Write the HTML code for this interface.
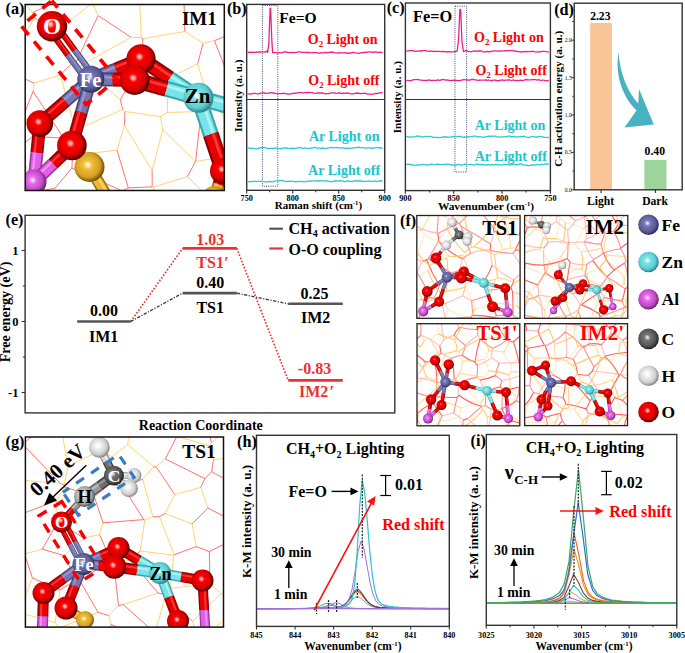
<!DOCTYPE html><html><head><meta charset="utf-8"><style>html,body{margin:0;padding:0;background:#fff;overflow:hidden}svg{display:block}text{font-family:"Liberation Serif",serif;font-weight:bold}</style></head><body>
<svg width="685" height="653" viewBox="0 0 685 653">
<rect width="685" height="653" fill="#fff"/>
<defs>
<radialGradient id="gO" cx="0.45" cy="0.45" r="0.56" fx="0.42" fy="0.4"><stop offset="0" stop-color="#ff8080"/><stop offset="0.22" stop-color="#ff0000"/><stop offset="0.72" stop-color="#d80000"/><stop offset="1" stop-color="#4a0000"/></radialGradient>
<radialGradient id="gFe" cx="0.45" cy="0.45" r="0.56" fx="0.42" fy="0.4"><stop offset="0" stop-color="#c0c0f0"/><stop offset="0.22" stop-color="#7a7ab8"/><stop offset="0.72" stop-color="#5a5a98"/><stop offset="1" stop-color="#2a2a50"/></radialGradient>
<radialGradient id="gZn" cx="0.45" cy="0.45" r="0.56" fx="0.42" fy="0.4"><stop offset="0" stop-color="#f0ffff"/><stop offset="0.22" stop-color="#7ee6ec"/><stop offset="0.72" stop-color="#5ccdd2"/><stop offset="1" stop-color="#2a7e82"/></radialGradient>
<radialGradient id="gAl" cx="0.45" cy="0.45" r="0.56" fx="0.42" fy="0.4"><stop offset="0" stop-color="#ffc0ff"/><stop offset="0.22" stop-color="#ee70ee"/><stop offset="0.72" stop-color="#c048c8"/><stop offset="1" stop-color="#602060"/></radialGradient>
<radialGradient id="gS" cx="0.45" cy="0.45" r="0.56" fx="0.42" fy="0.4"><stop offset="0" stop-color="#fff0a0"/><stop offset="0.22" stop-color="#f2c23c"/><stop offset="0.72" stop-color="#d6a020"/><stop offset="1" stop-color="#6a4a08"/></radialGradient>
<radialGradient id="gC" cx="0.45" cy="0.45" r="0.56" fx="0.42" fy="0.4"><stop offset="0" stop-color="#c8c8c8"/><stop offset="0.22" stop-color="#7a7a7a"/><stop offset="0.72" stop-color="#555"/><stop offset="1" stop-color="#1e1e1e"/></radialGradient>
<radialGradient id="gH" cx="0.45" cy="0.45" r="0.56" fx="0.42" fy="0.4"><stop offset="0" stop-color="#ffffff"/><stop offset="0.22" stop-color="#f4f4f4"/><stop offset="0.72" stop-color="#cfcfcf"/><stop offset="1" stop-color="#808080"/></radialGradient>
<radialGradient id="gHg" cx="0.45" cy="0.45" r="0.56" fx="0.42" fy="0.4"><stop offset="0" stop-color="#ffffff"/><stop offset="0.22" stop-color="#dadada"/><stop offset="0.72" stop-color="#a4a4a4"/><stop offset="1" stop-color="#4a4a4a"/></radialGradient>
<radialGradient id="gSpec"><stop offset="0" stop-color="#fff" stop-opacity="0.75"/><stop offset="1" stop-color="#fff" stop-opacity="0"/></radialGradient>
</defs>
<rect x="262.4" y="5.6" width="15.4" height="180.6" fill="none" stroke="#2a3a6a" stroke-width="0.9" stroke-dasharray="1,1.2"/>
<polyline points="247.7,52.4 249.2,52.1 250.7,52.5 252.2,52.1 253.7,52.3 255.2,52.3 256.7,52.0 258.2,52.2 259.7,51.9 261.2,52.1 262.7,51.9 264.2,51.8 265.7,52.0 267.2,50.7 267.6,52.4 268.8,44.0 270.1,8.2 270.6,8.2 271.8,40.0 272.6,52.5 274.7,52.7 276.2,52.7 277.7,53.1 279.2,52.5 280.7,52.9 282.2,52.6 283.7,52.2 285.2,52.0 286.7,52.0 288.2,52.6 289.7,52.3 291.2,52.5 292.7,52.7 294.2,52.5 295.7,52.6 297.2,52.2 298.7,51.9 300.2,51.9 301.7,52.4 303.2,52.4 304.7,52.3 306.2,52.5 307.7,52.5 309.2,52.3 310.7,52.7 312.2,52.9 313.7,52.5 315.2,52.6 316.7,52.6 318.2,53.0 319.7,53.1 321.2,52.7 322.7,53.1 324.2,52.5 325.7,52.5 327.2,52.8 328.7,52.4 330.2,52.4 331.7,52.0 333.2,52.4 334.7,52.8 336.2,52.8 337.7,53.1 339.2,52.7 340.7,52.9 342.2,52.8 343.7,52.8 345.2,52.7 346.7,53.0 348.2,53.3 349.7,53.0 351.2,53.0 352.7,52.4 354.2,52.7 355.7,52.8 357.2,53.2 358.7,53.3 360.2,52.8 361.7,52.6 363.2,52.8 364.7,52.2 366.2,52.3 367.7,52.1 369.2,51.9 370.7,51.8 372.2,52.4 373.7,52.1 375.2,52.0 376.7,52.2 378.2,52.7 379.7,52.2 381.2,52.3 382.7,52.5" fill="none" stroke="#ef2086" stroke-width="1.3" stroke-linejoin="round" />
<polyline points="247.7,93.8 249.2,93.9 250.7,94.1 252.2,93.6 253.7,93.4 255.2,93.3 256.7,93.7 258.2,94.0 259.7,93.4 261.2,93.1 262.7,93.0 264.2,92.9 265.7,93.1 267.2,93.3 268.7,93.1 270.2,92.7 271.7,92.9 273.2,93.0 274.7,93.2 276.2,93.7 277.7,93.8 279.2,93.7 280.7,93.7 282.2,93.7 283.7,93.2 285.2,93.7 286.7,93.8 288.2,94.0 289.7,94.1 291.2,93.7 292.7,93.5 294.2,93.1 295.7,93.3 297.2,92.9 298.7,92.7 300.2,92.7 301.7,92.6 303.2,92.8 304.7,92.6 306.2,92.4 307.7,92.5 309.2,92.4 310.7,92.7 312.2,92.5 313.7,93.2 315.2,93.4 316.7,93.1 318.2,92.9 319.7,93.0 321.2,93.0 322.7,92.8 324.2,93.4 325.7,93.9 327.2,93.7 328.7,93.5 330.2,93.1 331.7,92.8 333.2,92.9 334.7,92.9 336.2,93.4 337.7,93.1 339.2,92.7 340.7,93.4 342.2,93.5 343.7,93.1 345.2,93.3 346.7,92.8 348.2,93.1 349.7,93.7 351.2,93.9 352.7,93.9 354.2,93.5 355.7,93.3 357.2,93.0 358.7,93.4 360.2,93.5 361.7,93.7 363.2,93.4 364.7,93.1 366.2,93.6 367.7,94.0 369.2,94.1 370.7,94.1 372.2,94.2 373.7,94.1 375.2,93.5 376.7,93.5 378.2,93.3 379.7,92.9 381.2,92.6 382.7,92.7" fill="none" stroke="#ef2086" stroke-width="1.3" stroke-linejoin="round" />
<polyline points="247.7,147.8 249.2,148.0 250.7,148.5 252.2,148.2 253.7,148.6 255.2,148.8 256.7,149.0 258.2,148.4 259.7,148.0 261.2,147.7 262.7,147.5 264.2,147.4 265.7,147.8 267.2,148.3 268.7,148.5 270.2,148.3 271.7,148.3 273.2,148.5 274.7,147.9 276.2,148.1 277.7,148.5 279.2,148.6 280.7,148.6 282.2,148.3 283.7,147.9 285.2,148.2 286.7,148.0 288.2,148.3 289.7,148.6 291.2,148.3 292.7,148.1 294.2,148.5 295.7,148.5 297.2,148.0 298.7,147.6 300.2,147.4 301.7,148.1 303.2,148.3 304.7,147.9 306.2,148.2 307.7,148.6 309.2,148.5 310.7,148.2 312.2,148.1 313.7,147.7 315.2,147.3 316.7,148.1 318.2,148.2 319.7,148.1 321.2,148.5 322.7,148.2 324.2,148.5 325.7,148.6 327.2,148.1 328.7,147.8 330.2,147.7 331.7,147.5 333.2,147.8 334.7,147.6 336.2,147.7 337.7,147.5 339.2,148.1 340.7,147.9 342.2,147.9 343.7,148.0 345.2,148.4 346.7,148.2 348.2,148.5 349.7,148.3 351.2,148.2 352.7,148.2 354.2,147.6 355.7,147.7 357.2,147.5 358.7,147.2 360.2,147.8 361.7,147.6 363.2,147.7 364.7,148.1 366.2,148.1 367.7,147.9 369.2,147.9 370.7,148.0 372.2,148.3 373.7,147.8 375.2,147.9 376.7,147.7 378.2,147.6 379.7,148.0 381.2,148.0 382.7,148.1" fill="none" stroke="#2ec8cf" stroke-width="1.3" stroke-linejoin="round" />
<polyline points="247.7,181.5 249.2,181.8 250.7,181.5 252.2,181.5 253.7,181.4 255.2,181.3 256.7,181.5 258.2,181.3 259.7,181.3 261.2,181.2 262.7,181.7 264.2,181.7 265.7,181.9 267.2,182.0 268.7,181.5 270.2,181.4 271.7,181.8 273.2,181.9 274.7,181.2 276.2,180.9 277.7,180.9 279.2,180.6 280.7,180.6 282.2,180.4 283.7,180.9 285.2,181.3 286.7,181.7 288.2,181.1 289.7,181.4 291.2,181.5 292.7,181.0 294.2,181.5 295.7,181.8 297.2,181.3 298.7,181.7 300.2,181.4 301.7,181.3 303.2,181.8 304.7,181.9 306.2,181.3 307.7,181.2 309.2,181.2 310.7,181.0 312.2,180.8 313.7,180.8 315.2,181.2 316.7,180.7 318.2,181.0 319.7,181.0 321.2,180.6 322.7,180.7 324.2,181.0 325.7,181.1 327.2,180.7 328.7,181.4 330.2,181.6 331.7,181.9 333.2,181.2 334.7,181.0 336.2,180.6 337.7,181.1 339.2,180.9 340.7,180.7 342.2,180.8 343.7,181.4 345.2,181.6 346.7,181.2 348.2,180.9 349.7,181.4 351.2,181.4 352.7,181.5 354.2,181.0 355.7,180.6 357.2,181.0 358.7,181.0 360.2,180.7 361.7,181.3 363.2,181.4 364.7,181.6 366.2,181.0 367.7,181.5 369.2,180.9 370.7,181.4 372.2,181.3 373.7,181.1 375.2,181.2 376.7,181.6 378.2,181.2 379.7,180.8 381.2,181.0 382.7,180.8" fill="none" stroke="#2ec8cf" stroke-width="1.3" stroke-linejoin="round" />
<line x1="246.7" y1="99.5" x2="384.7" y2="99.5" stroke="#333" stroke-width="1.1" />
<rect x="246.7" y="4.4" width="138.0" height="185.9" fill="none" stroke="#333" stroke-width="1.4" />
<line x1="246.7" y1="190.3" x2="246.7" y2="193.5" stroke="#333" stroke-width="1.1" />
<text x="246.7" y="201.0" font-size="8.2" fill="#000" text-anchor="middle" >750</text>
<line x1="292.7" y1="190.3" x2="292.7" y2="193.5" stroke="#333" stroke-width="1.1" />
<text x="292.7" y="201.0" font-size="8.2" fill="#000" text-anchor="middle" >800</text>
<line x1="338.7" y1="190.3" x2="338.7" y2="193.5" stroke="#333" stroke-width="1.1" />
<text x="338.7" y="201.0" font-size="8.2" fill="#000" text-anchor="middle" >850</text>
<line x1="384.7" y1="190.3" x2="384.7" y2="193.5" stroke="#333" stroke-width="1.1" />
<text x="384.7" y="201.0" font-size="8.2" fill="#000" text-anchor="middle" >900</text>
<line x1="269.7" y1="190.3" x2="269.7" y2="192.3" stroke="#333" stroke-width="1.1" />
<line x1="315.7" y1="190.3" x2="315.7" y2="192.3" stroke="#333" stroke-width="1.1" />
<line x1="361.7" y1="190.3" x2="361.7" y2="192.3" stroke="#333" stroke-width="1.1" />
<text x="279.2" y="23.4" font-size="15.6" fill="#000" text-anchor="start" >Fe=O</text>
<text x="377.5" y="43.8" font-size="14" fill="#ff0000" text-anchor="end">O<tspan font-size="8.7" dy="3.1">2</tspan><tspan dy="-3.1"> Light on</tspan></text>
<text x="379.5" y="85.1" font-size="14" fill="#ff0000" text-anchor="end">O<tspan font-size="8.7" dy="3.1">2</tspan><tspan dy="-3.1"> Light off</tspan></text>
<text x="379.5" y="140.9" font-size="14" fill="#20c4cc" text-anchor="end" >Ar Light on</text>
<text x="380.2" y="175.2" font-size="14" fill="#20c4cc" text-anchor="end" >Ar Light off</text>
<text transform="translate(238.2,95.7) rotate(-90)" x="0" y="3.7" font-size="11.1" fill="#000" text-anchor="middle">Intensity (a. u.)</text>
<text x="318.4" y="209.2" font-size="11" text-anchor="middle">Raman shift (cm<tspan font-size="6.5" dy="-4">-1</tspan><tspan dy="4">)</tspan></text>
<text x="226.9" y="14.4" font-size="16.2" fill="#000" text-anchor="start" >(b)</text>
<rect x="455.0" y="6.1" width="11.6" height="165.9" fill="none" stroke="#2a3a6a" stroke-width="0.9" stroke-dasharray="1,1.2"/>
<polyline points="406.4,51.0 407.9,50.8 409.4,50.6 410.9,50.6 412.4,50.7 413.9,50.8 415.4,51.3 416.9,51.1 418.4,51.2 419.9,51.0 421.4,51.0 422.9,50.7 424.4,50.7 425.9,50.5 427.4,51.1 428.9,51.3 430.4,51.0 431.9,51.1 433.4,51.7 434.9,51.2 436.4,51.6 437.9,51.4 439.4,51.4 440.9,51.7 442.4,51.5 443.9,51.5 445.4,51.6 446.9,52.0 448.4,51.6 449.9,51.9 451.4,51.9 452.9,51.8 454.4,51.6 455.9,51.3 457.2,51.2 458.5,40.0 459.9,9.3 460.6,9.3 462.0,42.0 463.4,51.0 463.4,51.6 464.9,50.8 466.4,50.6 467.9,51.3 469.4,51.7 470.9,51.8 472.4,51.4 473.9,51.1 475.4,51.0 476.9,51.1 478.4,50.9 479.9,51.0 481.4,51.0 482.9,51.6 484.4,52.0 485.9,51.8 487.4,51.4 488.9,51.9 490.4,51.5 491.9,51.3 493.4,50.8 494.9,50.9 496.4,51.1 497.9,51.2 499.4,51.0 500.9,51.2 502.4,50.8 503.9,50.8 505.4,50.6 506.9,50.8 508.4,50.6 509.9,50.4 511.4,50.6 512.9,50.7 514.4,51.0 515.9,51.2 517.4,51.5 518.9,51.6 520.4,51.8 521.9,52.0 523.4,51.6 524.9,51.4 526.4,51.9 527.9,51.3 529.4,51.6 530.9,51.7 532.4,51.1 533.9,51.6 535.4,51.9 536.9,51.8 538.4,51.9 539.9,52.0 541.4,51.4 542.9,51.4 544.4,51.4 545.9,51.7 547.4,51.9 548.9,52.0" fill="none" stroke="#ef2086" stroke-width="1.3" stroke-linejoin="round" />
<polyline points="406.4,80.3 407.9,80.6 409.4,80.6 410.9,80.7 412.4,80.2 413.9,79.7 415.4,79.6 416.9,79.7 418.4,79.5 419.9,80.1 421.4,80.2 422.9,80.3 424.4,80.4 425.9,80.5 427.4,80.4 428.9,79.8 430.4,80.3 431.9,80.5 433.4,80.4 434.9,80.3 436.4,80.4 437.9,79.9 439.4,80.3 440.9,80.0 442.4,79.6 443.9,79.6 445.4,80.1 446.9,79.8 448.4,80.2 449.9,80.7 451.4,80.5 452.9,80.3 454.4,80.2 455.9,80.4 457.4,80.6 458.9,80.5 460.4,80.6 461.9,80.0 463.4,79.7 464.9,79.7 466.4,80.1 467.9,80.0 469.4,80.1 470.9,79.7 472.4,79.4 473.9,79.5 475.4,80.0 476.9,80.2 478.4,80.4 479.9,80.1 481.4,80.2 482.9,80.1 484.4,80.1 485.9,79.8 487.4,80.3 488.9,80.0 490.4,80.5 491.9,80.8 493.4,80.1 494.9,80.1 496.4,80.5 497.9,80.8 499.4,80.5 500.9,80.2 502.4,79.9 503.9,80.5 505.4,80.1 506.9,80.2 508.4,79.8 509.9,80.0 511.4,80.5 512.9,80.0 514.4,80.4 515.9,80.3 517.4,80.7 518.9,80.7 520.4,80.2 521.9,80.6 523.4,80.4 524.9,79.9 526.4,79.5 527.9,79.8 529.4,79.9 530.9,79.8 532.4,79.6 533.9,79.7 535.4,79.7 536.9,80.2 538.4,79.7 539.9,80.2 541.4,80.5 542.9,80.0 544.4,80.5 545.9,80.6 547.4,80.8 548.9,80.4" fill="none" stroke="#ef2086" stroke-width="1.3" stroke-linejoin="round" />
<polyline points="406.4,136.7 407.9,136.6 409.4,137.2 410.9,137.1 412.4,136.9 413.9,136.8 415.4,136.6 416.9,136.2 418.4,136.0 419.9,136.7 421.4,136.5 422.9,137.1 424.4,136.7 425.9,136.5 427.4,136.6 428.9,136.4 430.4,136.4 431.9,137.0 433.4,137.3 434.9,137.4 436.4,137.3 437.9,137.5 439.4,137.7 440.9,137.4 442.4,137.4 443.9,136.7 445.4,137.0 446.9,136.8 448.4,137.1 449.9,137.1 451.4,136.8 452.9,136.3 454.4,136.9 455.9,136.5 457.4,136.6 458.9,136.5 460.4,136.4 461.9,136.8 463.4,137.3 464.9,136.9 466.4,137.0 467.9,136.7 469.4,136.8 470.9,136.7 472.4,136.4 473.9,136.2 475.4,136.2 476.9,136.8 478.4,136.8 479.9,136.5 481.4,137.0 482.9,137.4 484.4,137.1 485.9,136.6 487.4,136.4 488.9,136.1 490.4,136.3 491.9,136.1 493.4,136.1 494.9,136.1 496.4,136.5 497.9,137.0 499.4,137.2 500.9,136.9 502.4,136.8 503.9,136.8 505.4,136.7 506.9,136.6 508.4,136.2 509.9,136.2 511.4,136.9 512.9,136.5 514.4,136.6 515.9,136.8 517.4,137.2 518.9,136.7 520.4,136.5 521.9,136.4 523.4,136.5 524.9,136.5 526.4,137.1 527.9,137.3 529.4,137.5 530.9,136.7 532.4,136.3 533.9,136.7 535.4,137.1 536.9,137.0 538.4,137.0 539.9,136.4 541.4,136.5 542.9,137.0 544.4,137.3 545.9,137.4 547.4,137.7 548.9,137.1" fill="none" stroke="#2ec8cf" stroke-width="1.3" stroke-linejoin="round" />
<polyline points="406.4,164.3 407.9,164.1 409.4,164.4 410.9,164.7 412.4,165.1 413.9,165.2 415.4,165.1 416.9,165.2 418.4,165.0 419.9,164.9 421.4,164.4 422.9,164.8 424.4,164.5 425.9,165.0 427.4,165.0 428.9,164.7 430.4,164.3 431.9,164.2 433.4,164.6 434.9,164.8 436.4,164.4 437.9,164.1 439.4,164.4 440.9,164.6 442.4,164.5 443.9,164.3 445.4,164.6 446.9,164.1 448.4,164.2 449.9,164.3 451.4,164.9 452.9,165.0 454.4,165.3 455.9,165.0 457.4,164.6 458.9,164.4 460.4,165.0 461.9,165.1 463.4,164.7 464.9,164.2 466.4,164.4 467.9,164.7 469.4,164.6 470.9,164.4 472.4,164.7 473.9,165.1 475.4,164.7 476.9,164.2 478.4,164.3 479.9,164.4 481.4,164.7 482.9,164.4 484.4,164.8 485.9,165.0 487.4,164.9 488.9,164.5 490.4,165.1 491.9,164.7 493.4,165.0 494.9,164.6 496.4,164.4 497.9,164.8 499.4,164.5 500.9,165.1 502.4,164.9 503.9,164.5 505.4,164.3 506.9,164.4 508.4,164.7 509.9,165.1 511.4,164.6 512.9,164.5 514.4,164.3 515.9,164.9 517.4,164.5 518.9,164.1 520.4,163.9 521.9,164.1 523.4,164.8 524.9,165.1 526.4,165.2 527.9,165.5 529.4,165.6 530.9,165.1 532.4,164.6 533.9,165.1 535.4,165.2 536.9,164.5 538.4,164.8 539.9,164.6 541.4,164.5 542.9,164.4 544.4,164.2 545.9,163.9 547.4,164.0 548.9,164.1" fill="none" stroke="#2ec8cf" stroke-width="1.3" stroke-linejoin="round" />
<line x1="405.4" y1="99.5" x2="550.4" y2="99.5" stroke="#333" stroke-width="1.1" />
<rect x="405.4" y="3.0" width="145.0" height="187.6" fill="none" stroke="#333" stroke-width="1.4" />
<line x1="405.4" y1="190.6" x2="405.4" y2="193.8" stroke="#333" stroke-width="1.1" />
<text x="405.4" y="200.8" font-size="8.2" fill="#000" text-anchor="middle" >900</text>
<line x1="453.7" y1="190.6" x2="453.7" y2="193.8" stroke="#333" stroke-width="1.1" />
<text x="453.7" y="200.8" font-size="8.2" fill="#000" text-anchor="middle" >850</text>
<line x1="502.1" y1="190.6" x2="502.1" y2="193.8" stroke="#333" stroke-width="1.1" />
<text x="502.1" y="200.8" font-size="8.2" fill="#000" text-anchor="middle" >800</text>
<line x1="550.4" y1="190.6" x2="550.4" y2="193.8" stroke="#333" stroke-width="1.1" />
<text x="550.4" y="200.8" font-size="8.2" fill="#000" text-anchor="middle" >750</text>
<line x1="429.6" y1="190.6" x2="429.6" y2="192.6" stroke="#333" stroke-width="1.1" />
<line x1="477.9" y1="190.6" x2="477.9" y2="192.6" stroke="#333" stroke-width="1.1" />
<line x1="526.2" y1="190.6" x2="526.2" y2="192.6" stroke="#333" stroke-width="1.1" />
<text x="413.0" y="21.7" font-size="16.3" fill="#000" text-anchor="start" >Fe=O</text>
<text x="543.8" y="41.9" font-size="14" fill="#ff0000" text-anchor="end">O<tspan font-size="8.7" dy="3.1">2</tspan><tspan dy="-3.1"> Light on</tspan></text>
<text x="546.8" y="75.0" font-size="14" fill="#ff0000" text-anchor="end">O<tspan font-size="8.7" dy="3.1">2</tspan><tspan dy="-3.1"> Light off</tspan></text>
<text x="545.3" y="130.0" font-size="14" fill="#20c4cc" text-anchor="end" >Ar Light on</text>
<text x="546.8" y="160.7" font-size="14" fill="#20c4cc" text-anchor="end" >Ar Light off</text>
<text transform="translate(397.6,97.2) rotate(-90)" x="0" y="3.7" font-size="11.1" fill="#000" text-anchor="middle">Intensity (a. u.)</text>
<text x="486" y="210" font-size="11.4" text-anchor="middle">Wavenumber (cm<tspan font-size="6.7" dy="-4.1">-1</tspan><tspan dy="4.1">)</tspan></text>
<text x="386.7" y="13.3" font-size="16.2" fill="#000" text-anchor="start" >(c)</text>
<rect x="590.2" y="23.0" width="21.8" height="166.8" fill="#f9c596" stroke="none" stroke-width="0" />
<rect x="644.4" y="159.9" width="22.0" height="29.9" fill="#9cd49a" stroke="none" stroke-width="0" />
<path d="M618.4,52.3 C615.5,72 620,94 636.5,110.5 L624.5,127.6 L653.8,124.4 L639,89 L638.2,103.5 C628,92 620.5,76 618.4,52.3 Z" fill="#48b2c2"/>
<rect x="574.2" y="3.2" width="108.0" height="186.6" fill="none" stroke="#333" stroke-width="1.4" />
<line x1="574.2" y1="189.8" x2="571.2" y2="189.8" stroke="#333" stroke-width="1" />
<text x="571.7" y="191.7" font-size="5.6" fill="#000" text-anchor="end" style="font-weight:normal">0.0</text>
<line x1="574.2" y1="152.4" x2="571.2" y2="152.4" stroke="#333" stroke-width="1" />
<text x="571.7" y="154.3" font-size="5.6" fill="#000" text-anchor="end" style="font-weight:normal">0.5</text>
<line x1="574.2" y1="115.0" x2="571.2" y2="115.0" stroke="#333" stroke-width="1" />
<text x="571.7" y="116.9" font-size="5.6" fill="#000" text-anchor="end" style="font-weight:normal">1.0</text>
<line x1="574.2" y1="77.6" x2="571.2" y2="77.6" stroke="#333" stroke-width="1" />
<text x="571.7" y="79.5" font-size="5.6" fill="#000" text-anchor="end" style="font-weight:normal">1.5</text>
<line x1="574.2" y1="40.2" x2="571.2" y2="40.2" stroke="#333" stroke-width="1" />
<text x="571.7" y="42.1" font-size="5.6" fill="#000" text-anchor="end" style="font-weight:normal">2.0</text>
<line x1="574.2" y1="171.1" x2="572.2" y2="171.1" stroke="#333" stroke-width="0.9" />
<line x1="574.2" y1="133.7" x2="572.2" y2="133.7" stroke="#333" stroke-width="0.9" />
<line x1="574.2" y1="96.3" x2="572.2" y2="96.3" stroke="#333" stroke-width="0.9" />
<line x1="574.2" y1="58.9" x2="572.2" y2="58.9" stroke="#333" stroke-width="0.9" />
<line x1="574.2" y1="21.5" x2="572.2" y2="21.5" stroke="#333" stroke-width="0.9" />
<line x1="601.1" y1="189.8" x2="601.1" y2="193.0" stroke="#333" stroke-width="1.1" />
<line x1="655.4" y1="189.8" x2="655.4" y2="193.0" stroke="#333" stroke-width="1.1" />
<text x="600.3" y="20.2" font-size="11.6" fill="#000" text-anchor="middle" >2.23</text>
<text x="654.8" y="154.6" font-size="11.7" fill="#000" text-anchor="middle" >0.40</text>
<text x="600.6" y="204.6" font-size="11.6" fill="#000" text-anchor="middle" >Light</text>
<text x="655.1" y="204.6" font-size="11.6" fill="#000" text-anchor="middle" >Dark</text>
<text transform="translate(558.3,98.8) rotate(-90)" x="0" y="3.7" font-size="11.2" fill="#000" text-anchor="middle">C-H activation energy (a. u.)</text>
<text x="554.2" y="15.2" font-size="16.2" fill="#000" text-anchor="start" >(d)</text>
<line x1="130.8" y1="321.5" x2="182.6" y2="248.4" stroke="#f02828" stroke-width="1.6" stroke-dasharray="1.6,1.7"/>
<line x1="236.8" y1="248.4" x2="288.2" y2="380.4" stroke="#f02828" stroke-width="1.6" stroke-dasharray="1.6,1.7"/>
<line x1="130.8" y1="321.5" x2="182.6" y2="293.1" stroke="#3a3a3a" stroke-width="1.3" stroke-dasharray="3.2,1.5,1.2,1.5"/>
<line x1="236.8" y1="293.1" x2="288.2" y2="303.8" stroke="#3a3a3a" stroke-width="1.3" stroke-dasharray="3.2,1.5,1.2,1.5"/>
<line x1="77.2" y1="321.5" x2="130.8" y2="321.5" stroke="#555" stroke-width="2.6" />
<line x1="182.6" y1="293.1" x2="236.8" y2="293.1" stroke="#555" stroke-width="2.6" />
<line x1="288.2" y1="303.8" x2="342.8" y2="303.8" stroke="#555" stroke-width="2.6" />
<line x1="182.6" y1="248.4" x2="236.8" y2="248.4" stroke="#f03030" stroke-width="2.6" />
<line x1="288.2" y1="380.4" x2="342.8" y2="380.4" stroke="#f03030" stroke-width="2.6" />
<text x="104.0" y="316.0" font-size="16" fill="#000" text-anchor="middle" >0.00</text>
<text x="103.6" y="341.8" font-size="16" fill="#000" text-anchor="middle" >IM1</text>
<text x="210.2" y="288.2" font-size="16" fill="#000" text-anchor="middle" >0.40</text>
<text x="210.2" y="312.7" font-size="16" fill="#000" text-anchor="middle" >TS1</text>
<text x="210.2" y="244.5" font-size="16" fill="#f03030" text-anchor="middle" >1.03</text>
<text x="212.4" y="268.4" font-size="16" fill="#f03030" text-anchor="middle">TS1<tspan font-style="italic">′</tspan></text>
<text x="314.6" y="299.2" font-size="16" fill="#000" text-anchor="middle" >0.25</text>
<text x="315.6" y="322.6" font-size="16" fill="#000" text-anchor="middle" >IM2</text>
<text x="314.5" y="373.7" font-size="16" fill="#f03030" text-anchor="middle" >-0.83</text>
<text x="299" y="397.2" font-size="16" fill="#f03030">IM2<tspan dx="1" font-size="17" font-style="italic">′</tspan></text>
<line x1="269.3" y1="228.7" x2="282.9" y2="228.7" stroke="#555" stroke-width="2.2" />
<line x1="269.3" y1="248.5" x2="282.9" y2="248.5" stroke="#f03030" stroke-width="2.2" />
<text x="288.5" y="233.8" font-size="16.1">CH<tspan font-size="10" dy="3.5">4</tspan><tspan dy="-3.5"> activation</tspan></text>
<text x="288.5" y="254.6" font-size="16" fill="#000" text-anchor="start" >O-O coupling</text>
<rect x="25.1" y="215.3" width="369.7" height="197.6" fill="none" stroke="#333" stroke-width="1.4" />
<line x1="25.1" y1="250.5" x2="21.6" y2="250.5" stroke="#333" stroke-width="1.1" />
<line x1="25.1" y1="321.5" x2="21.6" y2="321.5" stroke="#333" stroke-width="1.1" />
<line x1="25.1" y1="392.5" x2="21.6" y2="392.5" stroke="#333" stroke-width="1.1" />
<line x1="25.1" y1="286.0" x2="22.9" y2="286.0" stroke="#333" stroke-width="1.1" />
<line x1="25.1" y1="357.0" x2="22.9" y2="357.0" stroke="#333" stroke-width="1.1" />
<text x="18.5" y="255.0" font-size="12.5" fill="#000" text-anchor="end" >1</text>
<text x="18.5" y="326.0" font-size="12.5" fill="#000" text-anchor="end" >0</text>
<text x="18.5" y="397.0" font-size="12.5" fill="#000" text-anchor="end" >-1</text>
<text transform="translate(5.4,312.0) rotate(-90)" x="0" y="4.7" font-size="14.1" fill="#000" text-anchor="middle">Free energy (eV)</text>
<text x="200.8" y="430.0" font-size="14" fill="#000" text-anchor="middle" >Reaction Coordinate</text>
<text x="5.5" y="225.3" font-size="16.2" fill="#000" text-anchor="start" >(e)</text>
<polyline points="257.2,608.7 258.0,608.7 260.0,608.7 262.0,608.7 264.0,608.7 266.0,608.7 268.0,608.7 270.0,608.6 272.0,608.6 274.0,608.6 276.0,608.6 278.0,608.6 280.0,608.6 282.0,608.6 284.0,608.6 286.0,608.6 288.0,608.6 290.0,608.6 292.0,608.6 294.0,608.6 296.0,608.5 298.0,608.5 300.0,608.5 302.0,608.5 304.0,608.4 306.0,608.4 308.0,608.3 310.0,608.2 312.0,608.0 314.0,607.7 316.0,607.3 318.0,606.7 320.0,606.0 322.0,605.1 324.0,604.2 326.0,603.5 328.0,603.2 330.0,603.5 332.0,604.2 334.0,605.1 336.0,606.0 338.0,606.7 340.0,607.3 342.0,607.7 344.0,608.0 346.0,608.2 348.0,608.3 350.0,608.4 352.0,608.4 354.0,608.5 356.0,608.5 358.0,608.5 360.0,608.5 362.0,608.6 364.0,608.6 366.0,608.6 368.0,608.6 370.0,608.6 372.0,608.6 374.0,608.6 376.0,608.6 378.0,608.6 380.0,608.6 382.0,608.6 384.0,608.6 386.0,608.6 388.0,608.7 390.0,608.7 392.0,608.7 394.0,608.7 396.0,608.7 398.0,608.7 400.0,608.7 402.0,608.7 404.0,608.7 406.0,608.7 408.0,608.7 410.0,608.7 412.0,608.7 414.0,608.7 416.0,608.7 418.0,608.7 420.0,608.7 422.0,608.7 424.0,608.7 426.0,608.7 428.0,608.7 430.0,608.7 432.0,608.7 434.0,608.7 436.0,608.7 438.0,608.7 440.0,608.7 442.0,608.7 444.0,608.7 446.0,608.7 448.0,608.7 448.6,608.7" fill="none" stroke="#3fa34a" stroke-width="0.9" stroke-linejoin="round" />
<polyline points="257.2,608.7 258.5,608.7 260.5,608.7 262.5,608.7 264.5,608.7 266.5,608.7 268.5,608.7 270.5,608.7 272.5,608.7 274.5,608.7 276.5,608.7 278.5,608.7 280.5,608.7 282.5,608.7 284.5,608.6 286.5,608.6 288.5,608.6 290.5,608.6 292.5,608.6 294.5,608.6 296.5,608.6 298.5,608.6 300.5,608.6 302.5,608.6 304.5,608.6 306.5,608.5 308.5,608.5 310.5,608.5 312.5,608.5 314.5,608.4 316.5,608.4 318.5,608.3 320.5,608.1 322.5,607.9 324.5,607.5 326.5,607.0 328.5,606.2 330.5,605.2 332.5,604.0 334.5,603.1 336.5,602.7 338.5,603.1 340.5,604.0 342.5,605.2 344.5,606.2 346.5,607.0 348.5,607.5 350.5,607.9 352.5,608.1 354.5,608.3 356.5,608.4 358.5,608.4 360.5,608.5 362.5,608.5 364.5,608.5 366.5,608.5 368.5,608.6 370.5,608.6 372.5,608.6 374.5,608.6 376.5,608.6 378.5,608.6 380.5,608.6 382.5,608.6 384.5,608.6 386.5,608.6 388.5,608.6 390.5,608.7 392.5,608.7 394.5,608.7 396.5,608.7 398.5,608.7 400.5,608.7 402.5,608.7 404.5,608.7 406.5,608.7 408.5,608.7 410.5,608.7 412.5,608.7 414.5,608.7 416.5,608.7 418.5,608.7 420.5,608.7 422.5,608.7 424.5,608.7 426.5,608.7 428.5,608.7 430.5,608.7 432.5,608.7 434.5,608.7 436.5,608.7 438.5,608.7 440.5,608.7 442.5,608.7 444.5,608.7 446.5,608.7 448.5,608.7 448.6,608.7" fill="none" stroke="#9a60d8" stroke-width="0.9" stroke-linejoin="round" />
<polyline points="257.2,608.7 258.0,608.7 260.0,608.7 262.0,608.7 264.0,608.7 266.0,608.7 268.0,608.7 270.0,608.7 272.0,608.7 274.0,608.7 276.0,608.7 278.0,608.7 280.0,608.7 282.0,608.7 284.0,608.7 286.0,608.7 288.0,608.7 290.0,608.6 292.0,608.6 294.0,608.6 296.0,608.6 298.0,608.6 300.0,608.6 302.0,608.6 304.0,608.6 306.0,608.6 308.0,608.5 310.0,608.5 312.0,608.5 314.0,608.4 316.0,608.2 318.0,608.0 320.0,607.7 322.0,607.2 324.0,606.6 326.0,606.0 328.0,605.4 330.0,605.2 332.0,605.4 334.0,606.0 336.0,606.6 338.0,607.2 340.0,607.7 342.0,608.0 344.0,608.2 346.0,608.4 348.0,608.5 350.0,608.5 352.0,608.5 354.0,608.6 356.0,608.6 358.0,608.6 360.0,608.6 362.0,608.6 364.0,608.6 366.0,608.6 368.0,608.6 370.0,608.6 372.0,608.7 374.0,608.7 376.0,608.7 378.0,608.7 380.0,608.7 382.0,608.7 384.0,608.7 386.0,608.7 388.0,608.7 390.0,608.7 392.0,608.7 394.0,608.7 396.0,608.7 398.0,608.7 400.0,608.7 402.0,608.7 404.0,608.7 406.0,608.7 408.0,608.7 410.0,608.7 412.0,608.7 414.0,608.7 416.0,608.7 418.0,608.7 420.0,608.7 422.0,608.7 424.0,608.7 426.0,608.7 428.0,608.7 430.0,608.7 432.0,608.7 434.0,608.7 436.0,608.7 438.0,608.7 440.0,608.7 442.0,608.7 444.0,608.7 446.0,608.7 448.0,608.7 448.6,608.7" fill="none" stroke="#5a8fd0" stroke-width="0.9" stroke-linejoin="round" />
<polyline points="257.2,608.7 257.3,608.7 259.3,608.7 261.3,608.7 263.3,608.7 265.3,608.7 267.3,608.7 269.3,608.7 271.3,608.6 273.3,608.6 275.3,608.6 277.3,608.6 279.3,608.6 281.3,608.6 283.3,608.6 285.3,608.6 287.3,608.6 289.3,608.6 291.3,608.6 293.3,608.6 295.3,608.6 297.3,608.6 299.3,608.6 301.3,608.6 303.3,608.6 305.3,608.6 307.3,608.6 309.3,608.5 311.3,608.5 313.3,608.5 315.3,608.5 317.3,608.5 319.3,608.4 321.3,608.4 323.3,608.4 325.3,608.3 327.3,608.3 329.3,608.2 331.3,608.2 333.3,608.1 335.3,608.0 337.3,607.8 339.3,607.5 341.3,607.1 343.3,606.5 345.3,605.6 347.3,604.3 349.3,602.7 351.3,600.8 353.3,598.9 355.3,597.3 357.3,596.7 359.3,597.2 361.3,598.6 363.3,600.4 365.3,602.3 367.3,603.9 369.3,605.2 371.3,606.2 373.3,606.9 375.3,607.3 377.3,607.7 379.3,607.9 381.3,608.0 383.3,608.1 385.3,608.2 387.3,608.3 389.3,608.3 391.3,608.3 393.3,608.4 395.3,608.4 397.3,608.4 399.3,608.5 401.3,608.5 403.3,608.5 405.3,608.5 407.3,608.5 409.3,608.5 411.3,608.6 413.3,608.6 415.3,608.6 417.3,608.6 419.3,608.6 421.3,608.6 423.3,608.6 425.3,608.6 427.3,608.6 429.3,608.6 431.3,608.6 433.3,608.6 435.3,608.6 437.3,608.6 439.3,608.6 441.3,608.6 443.3,608.6 445.3,608.6 447.3,608.6 448.6,608.7" fill="none" stroke="#5b8ed8" stroke-width="0.9" stroke-linejoin="round" />
<polyline points="257.2,608.7 257.3,608.6 259.3,608.6 261.3,608.6 263.3,608.6 265.3,608.6 267.3,608.6 269.3,608.6 271.3,608.6 273.3,608.6 275.3,608.6 277.3,608.6 279.3,608.6 281.3,608.6 283.3,608.6 285.3,608.6 287.3,608.6 289.3,608.6 291.3,608.6 293.3,608.6 295.3,608.6 297.3,608.6 299.3,608.5 301.3,608.5 303.3,608.5 305.3,608.5 307.3,608.5 309.3,608.5 311.3,608.5 313.3,608.4 315.3,608.4 317.3,608.4 319.3,608.3 321.3,608.3 323.3,608.3 325.3,608.2 327.3,608.1 329.3,608.1 331.3,608.0 333.3,607.8 335.3,607.7 337.3,607.4 339.3,607.1 341.3,606.5 343.3,605.6 345.3,604.4 347.3,602.6 349.3,600.4 351.3,597.7 353.3,595.0 355.3,592.8 357.3,592.0 359.3,592.8 361.3,594.7 363.3,597.2 365.3,599.8 367.3,602.0 369.3,603.8 371.3,605.2 373.3,606.1 375.3,606.8 377.3,607.2 379.3,607.5 381.3,607.7 383.3,607.9 385.3,608.0 387.3,608.1 389.3,608.1 391.3,608.2 393.3,608.3 395.3,608.3 397.3,608.3 399.3,608.4 401.3,608.4 403.3,608.4 405.3,608.4 407.3,608.5 409.3,608.5 411.3,608.5 413.3,608.5 415.3,608.5 417.3,608.5 419.3,608.5 421.3,608.6 423.3,608.6 425.3,608.6 427.3,608.6 429.3,608.6 431.3,608.6 433.3,608.6 435.3,608.6 437.3,608.6 439.3,608.6 441.3,608.6 443.3,608.6 445.3,608.6 447.3,608.6 448.6,608.7" fill="none" stroke="#ff7020" stroke-width="1.0" stroke-linejoin="round" />
<polyline points="257.2,608.7 257.3,608.6 259.3,608.6 261.3,608.6 263.3,608.6 265.3,608.6 267.3,608.6 269.3,608.6 271.3,608.6 273.3,608.6 275.3,608.6 277.3,608.6 279.3,608.6 281.3,608.6 283.3,608.6 285.3,608.6 287.3,608.6 289.3,608.6 291.3,608.6 293.3,608.6 295.3,608.6 297.3,608.5 299.3,608.5 301.3,608.5 303.3,608.5 305.3,608.5 307.3,608.5 309.3,608.5 311.3,608.4 313.3,608.4 315.3,608.4 317.3,608.4 319.3,608.3 321.3,608.3 323.3,608.2 325.3,608.2 327.3,608.1 329.3,608.0 331.3,607.9 333.3,607.8 335.3,607.6 337.3,607.3 339.3,606.9 341.3,606.3 343.3,605.4 345.3,604.0 347.3,602.1 349.3,599.7 351.3,596.8 353.3,593.9 355.3,591.6 357.3,590.7 359.3,591.5 361.3,593.6 363.3,596.3 365.3,599.1 367.3,601.5 369.3,603.4 371.3,604.9 373.3,605.9 375.3,606.7 377.3,607.1 379.3,607.4 381.3,607.7 383.3,607.8 385.3,607.9 387.3,608.0 389.3,608.1 391.3,608.2 393.3,608.2 395.3,608.3 397.3,608.3 399.3,608.3 401.3,608.4 403.3,608.4 405.3,608.4 407.3,608.4 409.3,608.5 411.3,608.5 413.3,608.5 415.3,608.5 417.3,608.5 419.3,608.5 421.3,608.5 423.3,608.6 425.3,608.6 427.3,608.6 429.3,608.6 431.3,608.6 433.3,608.6 435.3,608.6 437.3,608.6 439.3,608.6 441.3,608.6 443.3,608.6 445.3,608.6 447.3,608.6 448.6,608.7" fill="none" stroke="#222" stroke-width="0.9" stroke-linejoin="round" />
<polyline points="257.2,608.7 257.3,608.6 259.3,608.6 261.3,608.6 263.3,608.6 265.3,608.6 267.3,608.6 269.3,608.6 271.3,608.6 273.3,608.6 275.3,608.6 277.3,608.6 279.3,608.6 281.3,608.6 283.3,608.6 285.3,608.6 287.3,608.6 289.3,608.6 291.3,608.6 293.3,608.5 295.3,608.5 297.3,608.5 299.3,608.5 301.3,608.5 303.3,608.5 305.3,608.5 307.3,608.5 309.3,608.4 311.3,608.4 313.3,608.4 315.3,608.4 317.3,608.3 319.3,608.3 321.3,608.2 323.3,608.2 325.3,608.1 327.3,608.0 329.3,608.0 331.3,607.8 333.3,607.7 335.3,607.5 337.3,607.2 339.3,606.8 341.3,606.1 343.3,605.1 345.3,603.6 347.3,601.5 349.3,598.9 351.3,595.7 353.3,592.5 355.3,590.0 357.3,589.0 359.3,589.9 361.3,592.2 363.3,595.2 365.3,598.1 367.3,600.8 369.3,602.9 371.3,604.5 373.3,605.7 375.3,606.5 377.3,607.0 379.3,607.3 381.3,607.6 383.3,607.7 385.3,607.9 387.3,608.0 389.3,608.1 391.3,608.1 393.3,608.2 395.3,608.2 397.3,608.3 399.3,608.3 401.3,608.3 403.3,608.4 405.3,608.4 407.3,608.4 409.3,608.4 411.3,608.5 413.3,608.5 415.3,608.5 417.3,608.5 419.3,608.5 421.3,608.5 423.3,608.5 425.3,608.5 427.3,608.6 429.3,608.6 431.3,608.6 433.3,608.6 435.3,608.6 437.3,608.6 439.3,608.6 441.3,608.6 443.3,608.6 445.3,608.6 447.3,608.6 448.6,608.7" fill="none" stroke="#7a3a3a" stroke-width="1.0" stroke-linejoin="round" />
<polyline points="257.2,608.7 259.1,608.6 262.1,608.6 265.1,608.6 268.1,608.6 271.1,608.6 274.1,608.6 277.1,608.6 280.1,608.5 283.1,608.5 286.1,608.5 289.1,608.5 292.1,608.5 295.1,608.5 298.1,608.5 301.1,608.4 304.1,608.4 307.1,608.4 310.1,608.3 313.1,608.3 316.1,608.2 319.1,608.1 322.1,608.1 325.1,608.0 328.1,607.8 331.1,607.6 334.1,607.4 337.1,607.1 340.1,606.6 343.1,605.8 346.1,603.9 349.1,599.2 352.1,589.0 355.1,571.6 358.1,551.3 361.1,541.1 364.1,549.0 367.1,566.1 370.1,582.8 373.1,594.6 376.1,601.2 379.1,604.4 382.1,605.8 385.1,606.6 388.1,607.0 391.1,607.3 394.1,607.5 397.1,607.7 400.1,607.9 403.1,608.0 406.1,608.1 409.1,608.1 412.1,608.2 415.1,608.3 418.1,608.3 421.1,608.3 424.1,608.4 427.1,608.4 430.1,608.4 433.1,608.4 436.1,608.5 439.1,608.5 442.1,608.5 445.1,608.5 448.1,608.5 448.6,608.7" fill="none" stroke="#a070e0" stroke-width="1.0" stroke-linejoin="round" />
<polyline points="257.2,608.7 257.2,608.6 259.7,608.6 262.2,608.6 264.7,608.6 267.2,608.6 269.7,608.6 272.2,608.6 274.7,608.6 277.2,608.6 279.7,608.6 282.2,608.6 284.7,608.6 287.2,608.6 289.7,608.5 292.2,608.5 294.7,608.5 297.2,608.5 299.7,608.5 302.2,608.5 304.7,608.5 307.2,608.4 309.7,608.4 312.2,608.4 314.7,608.3 317.2,608.3 319.7,608.3 322.2,608.2 324.7,608.1 327.2,608.0 329.7,607.9 332.2,607.8 334.7,607.7 337.2,607.4 339.7,607.2 342.2,606.8 344.7,606.2 347.2,605.3 349.7,603.6 352.2,598.6 354.7,583.9 357.2,551.4 359.7,505.7 362.2,480.3 364.7,492.3 367.2,520.1 369.7,550.2 372.2,574.2 374.7,589.6 377.2,598.1 379.7,602.2 382.2,604.2 384.7,605.2 387.2,605.9 389.7,606.4 392.2,606.7 394.7,607.0 397.2,607.2 399.7,607.4 402.2,607.6 404.7,607.7 407.2,607.8 409.7,607.9 412.2,608.0 414.7,608.0 417.2,608.1 419.7,608.1 422.2,608.2 424.7,608.2 427.2,608.3 429.7,608.3 432.2,608.3 434.7,608.3 437.2,608.4 439.7,608.4 442.2,608.4 444.7,608.4 447.2,608.4 448.6,608.7" fill="none" stroke="#2cc4cc" stroke-width="1.2" stroke-linejoin="round" />
<line x1="257.2" y1="608.7" x2="448.6" y2="608.7" stroke="#a070e0" stroke-width="1.3" />
<line x1="362.3" y1="474.5" x2="362.3" y2="557.8" stroke="#222" stroke-width="1.2" stroke-dasharray="2,1.3"/>
<line x1="357.3" y1="583.0" x2="357.3" y2="598.0" stroke="#222" stroke-width="1.2" stroke-dasharray="2,1.3"/>
<line x1="316.5" y1="603.0" x2="316.5" y2="614.0" stroke="#222" stroke-width="1.2" stroke-dasharray="2,1.3"/>
<line x1="328.5" y1="600.0" x2="328.5" y2="613.0" stroke="#222" stroke-width="1.2" stroke-dasharray="2,1.3"/>
<line x1="336.6" y1="600.0" x2="336.6" y2="613.0" stroke="#222" stroke-width="1.2" stroke-dasharray="2,1.3"/>
<text x="288.4" y="496.6" font-size="16" fill="#000" text-anchor="start" >Fe=O</text>
<line x1="331.6" y1="491.4" x2="352.0" y2="491.4" stroke="#000" stroke-width="1.4" />
<path d="M358.5,491.4 L350.5,487.6 L350.5,495.2 Z" fill="#000"/>
<line x1="385.6" y1="475.5" x2="385.6" y2="495.5" stroke="#000" stroke-width="1.2" />
<line x1="380.3" y1="475.5" x2="391.1" y2="475.5" stroke="#000" stroke-width="1.2" />
<line x1="380.3" y1="495.5" x2="391.1" y2="495.5" stroke="#000" stroke-width="1.2" />
<text x="395.0" y="490.4" font-size="16" fill="#000" text-anchor="start" >0.01</text>
<line x1="314.2" y1="610.2" x2="371.5" y2="503.0" stroke="#ff1010" stroke-width="1.6" />
<path d="M375.6,496.0 L367.0,501.5 L374.2,505.4 Z" fill="#ff1010"/>
<text x="382.2" y="530.0" font-size="16.2" fill="#ff0000" text-anchor="start" >Red shift</text>
<text x="271.2" y="557.2" font-size="13.8" fill="#000" text-anchor="start" >30 min</text>
<text x="274.0" y="598.8" font-size="13.8" fill="#000" text-anchor="start" >1 min</text>
<line x1="288.8" y1="566.0" x2="288.8" y2="588.0" stroke="#000" stroke-width="1.3" />
<path d="M288.8,560.3 L284.9,568 L292.7,568 Z" fill="#000"/>
<rect x="256.5" y="435.3" width="192.8" height="191.1" fill="none" stroke="#333" stroke-width="1.4" />
<line x1="256.5" y1="626.4" x2="256.5" y2="629.6" stroke="#333" stroke-width="1.1" />
<text x="256.5" y="638.2" font-size="8.2" fill="#000" text-anchor="middle" >845</text>
<line x1="295.1" y1="626.4" x2="295.1" y2="629.6" stroke="#333" stroke-width="1.1" />
<text x="295.1" y="638.2" font-size="8.2" fill="#000" text-anchor="middle" >844</text>
<line x1="333.6" y1="626.4" x2="333.6" y2="629.6" stroke="#333" stroke-width="1.1" />
<text x="333.6" y="638.2" font-size="8.2" fill="#000" text-anchor="middle" >843</text>
<line x1="372.2" y1="626.4" x2="372.2" y2="629.6" stroke="#333" stroke-width="1.1" />
<text x="372.2" y="638.2" font-size="8.2" fill="#000" text-anchor="middle" >842</text>
<line x1="410.7" y1="626.4" x2="410.7" y2="629.6" stroke="#333" stroke-width="1.1" />
<text x="410.7" y="638.2" font-size="8.2" fill="#000" text-anchor="middle" >841</text>
<line x1="449.3" y1="626.4" x2="449.3" y2="629.6" stroke="#333" stroke-width="1.1" />
<text x="449.3" y="638.2" font-size="8.2" fill="#000" text-anchor="middle" >840</text>
<text x="352.9" y="650" font-size="11.5" text-anchor="middle">Wavenumber (cm<tspan font-size="6.8" dy="-4.2">-1</tspan><tspan dy="4.2">)</tspan></text>
<text transform="translate(246.2,521.5) rotate(-90)" x="0" y="4.3" font-size="13" fill="#000" text-anchor="middle">K-M intensity (a. u.)</text>
<text x="237.0" y="446.8" font-size="16.2" fill="#000" text-anchor="start" >(h)</text>
<text x="286" y="454" font-size="16">CH<tspan font-size="10" dy="3.6">4</tspan><tspan dy="-3.6">+O</tspan><tspan font-size="10" dy="3.6">2</tspan><tspan dy="-3.6"> Lighting</tspan></text>
<polyline points="487.0,603.2 488.1,603.2 492.8,603.2 497.6,603.2 502.4,603.2 507.1,603.2 511.9,603.2 516.6,603.2 521.4,603.2 526.2,603.2 530.9,603.2 535.7,603.1 540.4,603.1 545.2,603.1 550.0,603.0 554.7,602.9 559.5,602.5 564.2,601.8 569.0,601.2 573.8,601.7 578.5,602.4 583.3,602.8 588.0,603.0 592.8,603.1 597.6,603.1 602.3,603.1 607.1,603.1 611.8,603.2 616.6,603.2 621.4,603.2 626.1,603.2 630.9,603.2 635.6,603.2 640.4,603.2 645.2,603.2 649.9,603.2 654.7,603.2 659.4,603.2 664.2,603.2 669.0,603.2 673.7,603.2 676.1,603.2" fill="none" stroke="#e070c0" stroke-width="0.9" stroke-linejoin="round" />
<polyline points="487.0,603.2 488.7,603.2 493.4,603.2 498.2,603.2 503.0,603.2 507.7,603.2 512.5,603.2 517.2,603.2 522.0,603.1 526.8,603.1 531.5,603.1 536.3,603.1 541.0,603.0 545.8,603.0 550.6,602.9 555.3,602.6 560.1,601.8 564.8,599.8 569.6,597.7 574.4,599.1 579.1,601.0 583.9,602.1 588.6,602.6 593.4,602.8 598.2,602.9 602.9,603.0 607.7,603.0 612.4,603.1 617.2,603.1 622.0,603.1 626.7,603.1 631.5,603.1 636.2,603.1 641.0,603.2 645.8,603.2 650.5,603.2 655.3,603.2 660.0,603.2 664.8,603.2 669.6,603.2 674.3,603.2 676.1,603.2" fill="none" stroke="#a060e0" stroke-width="1.0" stroke-linejoin="round" />
<polyline points="487.0,603.2 489.8,603.2 494.5,603.2 499.3,603.1 504.1,603.1 508.8,603.1 513.6,603.1 518.3,603.1 523.1,603.1 527.9,603.0 532.6,603.0 537.4,602.9 542.1,602.9 546.9,602.7 551.7,602.5 556.4,601.9 561.2,600.3 565.9,596.1 570.7,591.8 575.5,594.6 580.2,598.6 585.0,600.9 589.7,601.9 594.5,602.4 599.3,602.6 604.0,602.8 608.8,602.9 613.5,602.9 618.3,603.0 623.1,603.0 627.8,603.0 632.6,603.1 637.3,603.1 642.1,603.1 646.9,603.1 651.6,603.1 656.4,603.1 661.1,603.1 665.9,603.1 670.7,603.1 675.4,603.2 676.1,603.2" fill="none" stroke="#d0a020" stroke-width="1.0" stroke-linejoin="round" />
<polyline points="487.0,603.2 487.9,603.1 492.7,603.1 497.4,603.1 502.2,603.1 507.0,603.1 511.7,603.1 516.5,603.1 521.2,603.1 526.0,603.0 530.8,603.0 535.5,602.9 540.3,602.9 545.0,602.8 549.8,602.6 554.6,602.2 559.3,601.5 564.1,599.4 568.8,592.8 573.6,585.3 578.4,590.2 583.1,596.6 587.9,600.1 592.6,601.5 597.4,602.1 602.2,602.4 606.9,602.6 611.7,602.7 616.4,602.8 621.2,602.9 626.0,602.9 630.7,603.0 635.5,603.0 640.2,603.0 645.0,603.1 649.8,603.1 654.5,603.1 659.3,603.1 664.0,603.1 668.8,603.1 673.6,603.1 676.1,603.2" fill="none" stroke="#28c8d0" stroke-width="1.1" stroke-linejoin="round" />
<polyline points="487.0,603.2 487.9,603.1 492.7,603.1 497.4,603.1 502.2,603.1 507.0,603.1 511.7,603.0 516.5,603.0 521.2,603.0 526.0,602.9 530.8,602.9 535.5,602.8 540.3,602.7 545.0,602.5 549.8,602.2 554.6,601.6 559.3,600.5 564.1,597.1 568.8,586.5 573.6,574.3 578.4,582.2 583.1,592.6 587.9,598.1 592.6,600.4 597.4,601.4 602.2,601.9 606.9,602.2 611.7,602.4 616.4,602.6 621.2,602.7 626.0,602.8 630.7,602.9 635.5,602.9 640.2,602.9 645.0,603.0 649.8,603.0 654.5,603.0 659.3,603.0 664.0,603.1 668.8,603.1 673.6,603.1 676.1,603.2" fill="none" stroke="#7a4040" stroke-width="1.1" stroke-linejoin="round" />
<polyline points="487.0,603.2 488.3,603.1 493.1,603.0 497.8,603.0 502.6,603.0 507.4,603.0 512.1,602.9 516.9,602.9 521.6,602.8 526.4,602.8 531.2,602.7 535.9,602.5 540.7,602.3 545.4,602.0 550.2,601.5 555.0,600.6 559.7,598.7 564.5,592.9 569.2,573.5 574.0,549.1 578.8,565.5 583.5,585.4 588.3,595.0 593.0,598.6 597.8,600.2 602.6,601.1 607.3,601.6 612.1,602.0 616.8,602.2 621.6,602.4 626.4,602.5 631.1,602.6 635.9,602.7 640.6,602.8 645.4,602.8 650.2,602.9 654.9,602.9 659.7,602.9 664.4,603.0 669.2,603.0 674.0,603.0 676.1,603.2" fill="none" stroke="#d4a020" stroke-width="1.1" stroke-linejoin="round" />
<polyline points="487.0,603.2 488.5,603.0 493.3,603.0 498.0,603.0 502.8,603.0 507.6,602.9 512.3,602.9 517.1,602.8 521.8,602.8 526.6,602.7 531.4,602.5 536.1,602.4 540.9,602.1 545.6,601.8 550.4,601.1 555.2,600.1 559.9,597.8 564.7,591.0 569.4,566.5 574.2,533.6 579.0,555.6 583.7,581.4 588.5,593.2 593.2,597.6 598.0,599.5 602.8,600.6 607.5,601.3 612.3,601.7 617.0,602.0 621.8,602.2 626.6,602.4 631.3,602.5 636.1,602.6 640.8,602.7 645.6,602.8 650.4,602.8 655.1,602.9 659.9,602.9 664.6,602.9 669.4,603.0 674.2,603.0 676.1,603.2" fill="none" stroke="#ff6020" stroke-width="1.1" stroke-linejoin="round" />
<polyline points="487.0,603.2 487.8,602.8 492.5,602.8 497.3,602.7 502.0,602.7 506.8,602.6 511.6,602.5 516.3,602.4 521.1,602.3 525.8,602.1 530.6,601.9 535.4,601.6 540.1,601.2 544.9,600.6 549.6,599.7 554.4,598.3 559.2,595.8 563.9,590.1 568.7,574.0 573.4,536.6 578.2,502.7 583.0,536.6 587.7,574.0 592.5,590.1 597.2,595.8 602.0,598.3 606.8,599.7 611.5,600.6 616.3,601.2 621.0,601.6 625.8,601.9 630.6,602.1 635.3,602.3 640.1,602.4 644.8,602.5 649.6,602.6 654.4,602.7 659.1,602.7 663.9,602.8 668.6,602.8 673.4,602.9 676.1,603.2" fill="none" stroke="#3070e0" stroke-width="1.2" stroke-linejoin="round" />
<polyline points="487.0,603.2 488.1,602.7 492.8,602.6 497.6,602.5 502.3,602.5 507.1,602.4 511.9,602.2 516.6,602.1 521.4,601.9 526.1,601.6 530.9,601.3 535.7,600.9 540.4,600.3 545.2,599.5 549.9,598.2 554.7,596.1 559.5,592.4 564.2,584.0 569.0,561.3 573.7,511.8 578.5,469.5 583.3,516.6 588.0,566.5 592.8,586.8 597.5,593.9 602.3,597.1 607.1,598.9 611.8,600.0 616.6,600.7 621.3,601.2 626.1,601.6 630.9,601.9 635.6,602.1 640.4,602.2 645.1,602.4 649.9,602.5 654.7,602.6 659.4,602.6 664.2,602.7 668.9,602.7 673.7,602.8 676.1,603.2" fill="none" stroke="#3aa860" stroke-width="1.2" stroke-linejoin="round" />
<line x1="487.0" y1="603.2" x2="676.1" y2="603.2" stroke="#4ab04a" stroke-width="1.6" />
<line x1="578.3" y1="463.7" x2="578.3" y2="506.0" stroke="#222" stroke-width="1.2" stroke-dasharray="2,1.3"/>
<line x1="574.0" y1="506.0" x2="574.0" y2="585.7" stroke="#222" stroke-width="1.2" stroke-dasharray="2,1.3"/>
<line x1="565.3" y1="598.8" x2="565.3" y2="609.8" stroke="#222" stroke-width="1.2" stroke-dasharray="2,1.3"/>
<line x1="569.6" y1="589.6" x2="569.6" y2="598.0" stroke="#222" stroke-width="1.2" stroke-dasharray="2,1.3"/>
<text x="504.8" y="479" font-size="20">ν</text>
<text x="514.2" y="483.5" font-size="13" fill="#000" text-anchor="start" >C-H</text>
<line x1="541.7" y1="477.0" x2="561.0" y2="477.0" stroke="#000" stroke-width="1.4" />
<path d="M567.8,477 L559.8,473.2 L559.8,480.8 Z" fill="#000"/>
<line x1="606.4" y1="471.4" x2="606.4" y2="494.7" stroke="#000" stroke-width="1.2" />
<line x1="601.2" y1="471.4" x2="611.7" y2="471.4" stroke="#000" stroke-width="1.2" />
<line x1="601.2" y1="494.7" x2="611.7" y2="494.7" stroke="#000" stroke-width="1.2" />
<text x="614.7" y="487.7" font-size="16" fill="#000" text-anchor="start" >0.02</text>
<line x1="560.0" y1="511.0" x2="597.0" y2="511.0" stroke="#ff1010" stroke-width="1.6" />
<path d="M603.8,511 L595.5,507 L595.5,515 Z" fill="#ff1010"/>
<text x="609.2" y="517.0" font-size="16.2" fill="#ff0000" text-anchor="start" >Red shift</text>
<text x="494.1" y="555.0" font-size="13.8" fill="#000" text-anchor="start" >30 min</text>
<text x="497.0" y="597.0" font-size="13.8" fill="#000" text-anchor="start" >1 min</text>
<line x1="514.0" y1="564.0" x2="514.0" y2="586.0" stroke="#000" stroke-width="1.3" />
<path d="M514,558.2 L510.1,566 L517.9,566 Z" fill="#000"/>
<rect x="486.3" y="434.5" width="190.5" height="190.8" fill="none" stroke="#333" stroke-width="1.4" />
<line x1="486.3" y1="625.3" x2="486.3" y2="628.5" stroke="#333" stroke-width="1.1" />
<text x="486.3" y="637.8" font-size="8.2" fill="#000" text-anchor="middle" >3025</text>
<line x1="533.9" y1="625.3" x2="533.9" y2="628.5" stroke="#333" stroke-width="1.1" />
<text x="533.9" y="637.8" font-size="8.2" fill="#000" text-anchor="middle" >3020</text>
<line x1="581.5" y1="625.3" x2="581.5" y2="628.5" stroke="#333" stroke-width="1.1" />
<text x="581.5" y="637.8" font-size="8.2" fill="#000" text-anchor="middle" >3015</text>
<line x1="629.2" y1="625.3" x2="629.2" y2="628.5" stroke="#333" stroke-width="1.1" />
<text x="629.2" y="637.8" font-size="8.2" fill="#000" text-anchor="middle" >3010</text>
<line x1="676.8" y1="625.3" x2="676.8" y2="628.5" stroke="#333" stroke-width="1.1" />
<text x="676.8" y="637.8" font-size="8.2" fill="#000" text-anchor="middle" >3005</text>
<line x1="510.1" y1="625.3" x2="510.1" y2="627.3" stroke="#333" stroke-width="1.1" />
<line x1="557.7" y1="625.3" x2="557.7" y2="627.3" stroke="#333" stroke-width="1.1" />
<line x1="605.4" y1="625.3" x2="605.4" y2="627.3" stroke="#333" stroke-width="1.1" />
<line x1="653.0" y1="625.3" x2="653.0" y2="627.3" stroke="#333" stroke-width="1.1" />
<text x="584" y="649.8" font-size="11.5" text-anchor="middle">Wavenumber (cm<tspan font-size="6.8" dy="-4.2">-1</tspan><tspan dy="4.2">)</tspan></text>
<text transform="translate(473.7,522.6) rotate(-90)" x="0" y="4.3" font-size="13" fill="#000" text-anchor="middle">K-M intensity (a. u.)</text>
<text x="470.5" y="445.5" font-size="16.2" fill="#000" text-anchor="start" >(i)</text>
<text x="525.8" y="452.5" font-size="16">CH<tspan font-size="10" dy="3.6">4</tspan><tspan dy="-3.6">+O</tspan><tspan font-size="10" dy="3.6">2</tspan><tspan dy="-3.6"> Lighting</tspan></text>
<clipPath id="cp1"><rect x="25.2" y="4.5" width="199.10000000000002" height="186.0"/></clipPath><g clip-path="url(#cp1)">
<path d="M242.3,190.6L207.8,196.5M117.0,150.2L128.3,187.9M71.9,168.1L72.6,155.4M71.9,168.1L122.2,190.9M122.2,190.9L128.3,187.9M152.2,186.8L128.3,187.9M152.2,186.8L152.1,170.3M125.0,111.5L124.4,125.4M75.4,130.0L69.1,139.5M32.7,12.7L79.4,-9.1M142.6,38.7L141.2,37.6M184.1,2.9L184.8,31.5M34.7,17.8L32.7,12.7M34.7,17.8L54.5,33.0M71.9,168.1L54.5,188.6M37.1,190.8L30.5,195.8M54.5,188.6L37.1,190.8M201.1,111.5L195.6,161.5M195.5,161.6L195.6,161.5M120.3,99.6L122.7,109.5M120.3,99.6L143.6,58.9M143.6,58.9L168.6,78.2M187.4,176.6L195.5,161.6M184.1,2.9L200.1,-8.5M214.4,40.7L233.8,89.5M203.1,43.2L197.6,63.9M229.6,34.4L214.4,40.7M143.6,58.9L142.6,38.7M201.1,111.5L210.6,106.7M75.1,64.3L98.2,15.5M130.9,37.3L98.2,15.5M60.4,74.9L70.7,64.5M70.7,64.5L75.1,64.3M17.9,149.4L32.3,136.5M63.4,138.0L32.3,136.5M24.5,113.3L33.1,91.3M18.0,75.7L34.2,83.2M63.4,138.0L33.1,91.3" stroke="#ff3a3a" stroke-width="0.85" fill="none" opacity="0.85"/>
<path d="M187.4,176.6L207.8,196.5M187.4,176.6L153.1,187.2M159.4,206.6L153.1,187.2M117.0,150.2L72.6,155.4M111.9,210.6L122.2,190.9M153.1,187.2L152.2,186.8M117.0,150.2L124.4,125.4M152.1,170.3L124.4,125.4M122.7,109.5L75.4,130.0M122.7,109.5L125.0,111.5M72.6,155.4L69.1,139.5M32.7,12.7L18.5,-4.4M159.4,-20.2L184.1,2.9M142.6,38.7L184.8,31.5M141.2,37.6L139.1,-14.2M34.7,17.8L22.2,37.7M-12.5,43.5L22.2,37.7M92.4,-2.9L92.3,2.9M54.5,33.0L92.3,2.9M54.5,188.6L78.7,227.1M17.9,149.4L37.1,190.8M30.5,195.8L-18.4,194.6M167.2,112.5L201.1,111.5M167.2,112.5L160.5,116.6M162.8,129.7L160.5,116.6M162.8,129.7L195.5,161.6M125.0,111.5L160.5,116.6M168.6,78.2L167.2,112.5M152.1,170.3L162.8,129.7M241.1,154.0L195.6,161.5M214.4,40.7L203.1,43.2M197.6,63.9L210.6,106.7M233.8,89.5L215.3,107.5M210.6,106.7L215.3,107.5M184.8,31.5L203.1,43.2M168.6,78.2L197.6,63.9M233.4,124.9L215.3,107.5M80.6,65.7L75.1,64.3M80.6,65.7L130.9,37.3M120.3,99.6L80.6,65.7M75.4,130.0L60.4,74.9M141.2,37.6L130.9,37.3M54.5,33.0L70.7,64.5M92.3,2.9L98.2,15.5M69.1,139.5L63.4,138.0M24.5,113.3L-10.5,118.6M34.2,83.2L33.1,91.3M32.3,136.5L24.5,113.3M22.2,37.7L18.0,75.7M60.4,74.9L34.2,83.2" stroke="#ffc23a" stroke-width="0.85" fill="none" opacity="0.85"/>
<path d="M89.5,167.0L109.8,201.2" stroke="#9a7014" stroke-width="12.0" fill="none"/>
<path d="M89.5,167.0L109.8,201.2" stroke="#ecb830" stroke-width="8.9" fill="none"/>
<path d="M91.2,166.0L111.4,200.2" stroke="#ffe080" stroke-width="2.2" fill="none" opacity="0.7"/>
<path d="M109.8,201.2L112.0,205.0" stroke="#9a7014" stroke-width="12.0" fill="none"/>
<path d="M109.8,201.2L112.0,205.0" stroke="#ecb830" stroke-width="8.9" fill="none"/>
<path d="M111.4,200.2L113.7,204.0" stroke="#ffe080" stroke-width="2.2" fill="none" opacity="0.7"/>
<path d="M34.0,182.0L28.6,202.7" stroke="#9a3aa0" stroke-width="12.0" fill="none"/>
<path d="M34.0,182.0L28.6,202.7" stroke="#e060e6" stroke-width="8.9" fill="none"/>
<path d="M32.1,181.5L26.7,202.2" stroke="#ffa0ff" stroke-width="2.2" fill="none" opacity="0.7"/>
<path d="M28.6,202.7L28.0,205.0" stroke="#9a3aa0" stroke-width="12.0" fill="none"/>
<path d="M28.6,202.7L28.0,205.0" stroke="#e060e6" stroke-width="8.9" fill="none"/>
<path d="M26.7,202.2L26.1,204.5" stroke="#ffa0ff" stroke-width="2.2" fill="none" opacity="0.7"/>
<path d="M223.0,171.0L218.5,184.5" stroke="#8a0000" stroke-width="12.0" fill="none"/>
<path d="M223.0,171.0L218.5,184.5" stroke="#e80000" stroke-width="8.9" fill="none"/>
<path d="M221.2,170.4L216.7,183.9" stroke="#ff5050" stroke-width="2.2" fill="none" opacity="0.7"/>
<path d="M218.5,184.5L214.0,198.0" stroke="#9a7014" stroke-width="12.0" fill="none"/>
<path d="M218.5,184.5L214.0,198.0" stroke="#ecb830" stroke-width="8.9" fill="none"/>
<path d="M216.7,183.9L212.2,197.4" stroke="#ffe080" stroke-width="2.2" fill="none" opacity="0.7"/>
<circle cx="214.0" cy="198.0" r="12.0" fill="url(#gS)"/>
<circle cx="213.0" cy="196.6" r="3.4" fill="url(#gSpec)"/>
<path d="M71.9,145.5L80.7,156.2" stroke="#8a0000" stroke-width="12.5" fill="none"/>
<path d="M71.9,145.5L80.7,156.2" stroke="#e80000" stroke-width="9.2" fill="none"/>
<path d="M73.4,144.2L82.2,155.0" stroke="#ff5050" stroke-width="2.2" fill="none" opacity="0.7"/>
<path d="M80.7,156.2L89.5,167.0" stroke="#9a7014" stroke-width="12.5" fill="none"/>
<path d="M80.7,156.2L89.5,167.0" stroke="#ecb830" stroke-width="9.2" fill="none"/>
<path d="M82.2,155.0L91.0,165.7" stroke="#ffe080" stroke-width="2.2" fill="none" opacity="0.7"/>
<circle cx="89.5" cy="167.0" r="15.0" fill="url(#gS)"/>
<circle cx="88.3" cy="165.2" r="4.2" fill="url(#gSpec)"/>
<path d="M39.8,123.6L36.9,152.8" stroke="#8a0000" stroke-width="13.0" fill="none"/>
<path d="M39.8,123.6L36.9,152.8" stroke="#e80000" stroke-width="9.6" fill="none"/>
<path d="M37.7,123.4L34.8,152.6" stroke="#ff5050" stroke-width="2.3" fill="none" opacity="0.7"/>
<path d="M36.9,152.8L34.0,182.0" stroke="#9a3aa0" stroke-width="13.0" fill="none"/>
<path d="M36.9,152.8L34.0,182.0" stroke="#e060e6" stroke-width="9.6" fill="none"/>
<path d="M34.8,152.6L31.9,181.8" stroke="#ffa0ff" stroke-width="2.3" fill="none" opacity="0.7"/>
<path d="M71.9,145.5L53.0,163.8" stroke="#8a0000" stroke-width="13.0" fill="none"/>
<path d="M71.9,145.5L53.0,163.8" stroke="#e80000" stroke-width="9.6" fill="none"/>
<path d="M70.5,144.0L51.5,162.3" stroke="#ff5050" stroke-width="2.3" fill="none" opacity="0.7"/>
<path d="M53.0,163.8L34.0,182.0" stroke="#9a3aa0" stroke-width="13.0" fill="none"/>
<path d="M53.0,163.8L34.0,182.0" stroke="#e060e6" stroke-width="9.6" fill="none"/>
<path d="M51.5,162.3L32.6,180.5" stroke="#ffa0ff" stroke-width="2.3" fill="none" opacity="0.7"/>
<circle cx="34.0" cy="182.0" r="12.5" fill="url(#gAl)"/>
<circle cx="33.0" cy="180.5" r="3.5" fill="url(#gSpec)"/>
<path d="M90.8,79.2L65.3,101.4" stroke="#45457a" stroke-width="13.0" fill="none"/>
<path d="M90.8,79.2L65.3,101.4" stroke="#7676b2" stroke-width="9.6" fill="none"/>
<path d="M89.4,77.6L63.9,99.8" stroke="#a4a4d8" stroke-width="2.3" fill="none" opacity="0.7"/>
<path d="M65.3,101.4L39.8,123.6" stroke="#8a0000" stroke-width="13.0" fill="none"/>
<path d="M65.3,101.4L39.8,123.6" stroke="#e80000" stroke-width="9.6" fill="none"/>
<path d="M63.9,99.8L38.4,122.0" stroke="#ff5050" stroke-width="2.3" fill="none" opacity="0.7"/>
<circle cx="39.8" cy="123.6" r="13.3" fill="url(#gO)"/>
<circle cx="38.7" cy="122.0" r="3.7" fill="url(#gSpec)"/>
<path d="M90.8,79.2L81.3,112.3" stroke="#45457a" stroke-width="13.0" fill="none"/>
<path d="M90.8,79.2L81.3,112.3" stroke="#7676b2" stroke-width="9.6" fill="none"/>
<path d="M88.8,78.6L79.3,111.8" stroke="#a4a4d8" stroke-width="2.3" fill="none" opacity="0.7"/>
<path d="M81.3,112.3L71.9,145.5" stroke="#8a0000" stroke-width="13.0" fill="none"/>
<path d="M81.3,112.3L71.9,145.5" stroke="#e80000" stroke-width="9.6" fill="none"/>
<path d="M79.3,111.8L69.9,144.9" stroke="#ff5050" stroke-width="2.3" fill="none" opacity="0.7"/>
<circle cx="71.9" cy="145.5" r="14.8" fill="url(#gO)"/>
<circle cx="70.7" cy="143.7" r="4.1" fill="url(#gSpec)"/>
<path d="M141.0,58.8L169.8,78.3" stroke="#8a0000" stroke-width="15.0" fill="none"/>
<path d="M141.0,58.8L169.8,78.3" stroke="#e80000" stroke-width="11.1" fill="none"/>
<path d="M142.3,56.8L171.1,76.3" stroke="#ff5050" stroke-width="2.7" fill="none" opacity="0.7"/>
<path d="M169.8,78.3L198.5,97.8" stroke="#3aa6aa" stroke-width="15.0" fill="none"/>
<path d="M169.8,78.3L198.5,97.8" stroke="#78e4ea" stroke-width="11.1" fill="none"/>
<path d="M171.1,76.3L199.8,95.8" stroke="#c0fafa" stroke-width="2.7" fill="none" opacity="0.7"/>
<path d="M90.8,79.2L115.9,69.0" stroke="#45457a" stroke-width="13.0" fill="none"/>
<path d="M90.8,79.2L115.9,69.0" stroke="#7676b2" stroke-width="9.6" fill="none"/>
<path d="M90.0,77.3L115.1,67.1" stroke="#a4a4d8" stroke-width="2.3" fill="none" opacity="0.7"/>
<path d="M115.9,69.0L141.0,58.8" stroke="#8a0000" stroke-width="13.0" fill="none"/>
<path d="M115.9,69.0L141.0,58.8" stroke="#e80000" stroke-width="9.6" fill="none"/>
<path d="M115.1,67.1L140.2,56.9" stroke="#ff5050" stroke-width="2.3" fill="none" opacity="0.7"/>
<circle cx="141.0" cy="58.8" r="14.6" fill="url(#gO)"/>
<circle cx="139.8" cy="57.0" r="4.1" fill="url(#gSpec)"/>
<path d="M198.5,97.8L244.8,110.6" stroke="#3aa6aa" stroke-width="16.0" fill="none"/>
<path d="M198.5,97.8L244.8,110.6" stroke="#78e4ea" stroke-width="11.8" fill="none"/>
<path d="M199.2,95.3L245.5,108.1" stroke="#c0fafa" stroke-width="2.9" fill="none" opacity="0.7"/>
<path d="M244.8,110.6L250.0,112.0" stroke="#3aa6aa" stroke-width="16.0" fill="none"/>
<path d="M244.8,110.6L250.0,112.0" stroke="#78e4ea" stroke-width="11.8" fill="none"/>
<path d="M245.5,108.1L250.7,109.5" stroke="#c0fafa" stroke-width="2.9" fill="none" opacity="0.7"/>
<path d="M198.5,97.8L210.8,134.4" stroke="#3aa6aa" stroke-width="16.0" fill="none"/>
<path d="M198.5,97.8L210.8,134.4" stroke="#78e4ea" stroke-width="11.8" fill="none"/>
<path d="M200.9,97.0L213.2,133.6" stroke="#c0fafa" stroke-width="2.9" fill="none" opacity="0.7"/>
<path d="M210.8,134.4L223.0,171.0" stroke="#8a0000" stroke-width="16.0" fill="none"/>
<path d="M210.8,134.4L223.0,171.0" stroke="#e80000" stroke-width="11.8" fill="none"/>
<path d="M213.2,133.6L225.4,170.2" stroke="#ff5050" stroke-width="2.9" fill="none" opacity="0.7"/>
<circle cx="223.0" cy="171.0" r="13.0" fill="url(#gO)"/>
<circle cx="222.0" cy="169.4" r="3.6" fill="url(#gSpec)"/>
<path d="M134.7,80.0L166.6,88.9" stroke="#8a0000" stroke-width="16.0" fill="none"/>
<path d="M134.7,80.0L166.6,88.9" stroke="#e80000" stroke-width="11.8" fill="none"/>
<path d="M135.4,77.5L167.3,86.4" stroke="#ff5050" stroke-width="2.9" fill="none" opacity="0.7"/>
<path d="M166.6,88.9L198.5,97.8" stroke="#3aa6aa" stroke-width="16.0" fill="none"/>
<path d="M166.6,88.9L198.5,97.8" stroke="#78e4ea" stroke-width="11.8" fill="none"/>
<path d="M167.3,86.4L199.2,95.3" stroke="#c0fafa" stroke-width="2.9" fill="none" opacity="0.7"/>
<circle cx="198.5" cy="97.8" r="15.0" fill="url(#gZn)"/>
<circle cx="197.3" cy="96.0" r="4.2" fill="url(#gSpec)"/>
<path d="M90.8,79.2L112.8,79.6" stroke="#45457a" stroke-width="14.0" fill="none"/>
<path d="M90.8,79.2L112.8,79.6" stroke="#7676b2" stroke-width="10.4" fill="none"/>
<path d="M90.8,77.0L112.8,77.4" stroke="#a4a4d8" stroke-width="2.5" fill="none" opacity="0.7"/>
<path d="M112.8,79.6L134.7,80.0" stroke="#8a0000" stroke-width="14.0" fill="none"/>
<path d="M112.8,79.6L134.7,80.0" stroke="#e80000" stroke-width="10.4" fill="none"/>
<path d="M112.8,77.4L134.7,77.8" stroke="#ff5050" stroke-width="2.5" fill="none" opacity="0.7"/>
<circle cx="134.7" cy="80.0" r="15.0" fill="url(#gO)"/>
<circle cx="133.5" cy="78.2" r="4.2" fill="url(#gSpec)"/>
<path d="M48.6,28.8L68.0,55.2" stroke="#8a0000" stroke-width="6.2" fill="none"/>
<path d="M48.6,28.8L68.0,55.2" stroke="#e80000" stroke-width="4.6" fill="none"/>
<path d="M49.4,28.2L68.8,54.6" stroke="#ff5050" stroke-width="1.1" fill="none" opacity="0.7"/>
<path d="M68.0,55.2L87.4,81.7" stroke="#45457a" stroke-width="6.2" fill="none"/>
<path d="M68.0,55.2L87.4,81.7" stroke="#7676b2" stroke-width="4.6" fill="none"/>
<path d="M68.8,54.6L88.2,81.1" stroke="#a4a4d8" stroke-width="1.1" fill="none" opacity="0.7"/>
<path d="M55.4,23.8L74.8,50.3" stroke="#8a0000" stroke-width="6.2" fill="none"/>
<path d="M55.4,23.8L74.8,50.3" stroke="#e80000" stroke-width="4.6" fill="none"/>
<path d="M56.2,23.2L75.6,49.7" stroke="#ff5050" stroke-width="1.1" fill="none" opacity="0.7"/>
<path d="M74.8,50.3L94.2,76.7" stroke="#45457a" stroke-width="6.2" fill="none"/>
<path d="M74.8,50.3L94.2,76.7" stroke="#7676b2" stroke-width="4.6" fill="none"/>
<path d="M75.6,49.7L95.0,76.1" stroke="#a4a4d8" stroke-width="1.1" fill="none" opacity="0.7"/>
<circle cx="52.0" cy="26.3" r="15.2" fill="url(#gO)"/>
<circle cx="50.8" cy="24.5" r="4.3" fill="url(#gSpec)"/>
<circle cx="90.8" cy="79.2" r="13.5" fill="url(#gFe)"/>
<circle cx="89.7" cy="77.6" r="3.8" fill="url(#gSpec)"/>
<text x="52.0" y="34.0" font-size="23" fill="#fff" text-anchor="middle" >O</text>
<text x="90.5" y="86.5" font-size="20.5" fill="#fff" text-anchor="middle" >Fe</text>
<text x="197.7" y="102.5" font-size="21" fill="#000" text-anchor="middle" >Zn</text>
</g>
<rect x="25.2" y="4.5" width="199.1" height="186.0" fill="none" stroke="#111" stroke-width="1.5" />
<rect x="-51" y="-19.8" width="102" height="39.6" transform="translate(69,52.6) rotate(50.5)" stroke="#ff0000" stroke-width="3.7" stroke-dasharray="11,8.5" stroke-dashoffset="2" fill="none"/>
<text x="199.3" y="24.5" font-size="19" fill="#000" text-anchor="middle" >IM1</text>
<clipPath id="cp2"><rect x="25.4" y="437" width="198.1" height="190.10000000000002"/></clipPath><g clip-path="url(#cp2)">
<path d="M185.7,398.4L175.9,434.3M175.9,434.3L139.6,420.2M84.0,538.2L64.2,555.6M165.3,459.0L156.1,466.7M174.7,494.5L200.7,487.4M208.0,508.1L200.7,487.4M111.9,456.7L127.8,444.5M111.9,456.7L109.2,484.6M127.8,444.5L153.6,466.9M142.7,479.2L153.6,466.9M99.1,451.2L111.9,456.7M99.1,451.2L85.7,424.4M129.4,429.1L127.8,444.5M175.9,434.3L176.9,436.4M99.1,451.2L68.1,466.2M68.1,466.2L64.0,484.9M68.1,466.2L59.8,420.5M22.4,444.0L22.3,444.1M20.3,480.2L60.3,483.4M22.3,444.1L9.1,466.4M57.8,521.9L56.4,500.7M84.0,538.2L99.5,534.6M56.4,500.7L64.9,487.0M99.5,534.6L103.0,522.8M152.9,516.8L142.7,479.2M152.9,516.8L144.9,519.9M144.9,519.9L143.9,519.6M110.8,560.0L113.6,561.4M118.5,605.6L108.8,615.6M76.3,579.9L79.8,580.6M59.5,628.0L55.1,622.5M59.5,628.0L98.0,612.3M60.0,589.9L55.1,622.5M251.6,455.7L213.5,459.6M235.0,421.6L211.5,442.5M213.5,459.6L209.5,445.8M209.5,445.8L211.5,442.5M176.9,436.4L209.5,445.8M25.7,553.7L42.3,549.1M196.3,546.6L192.0,524.0M174.2,554.7L159.5,516.6M192.0,524.0L165.0,513.5M174.7,494.5L165.0,513.5M170.1,588.3L173.8,555.2M170.1,588.3L164.5,594.4M173.8,555.2L140.1,551.0M174.2,554.7L173.8,555.2M210.0,583.8L170.1,588.3M113.6,561.4L130.3,560.5M123.4,604.6L158.1,593.0M144.9,519.9L140.1,551.0M164.5,594.4L165.2,597.0M165.2,597.0L155.0,633.1M111.3,624.4L108.8,615.6M241.2,601.1L198.3,645.7M240.2,599.7L220.9,593.5M220.9,593.5L192.7,621.3M192.7,621.3L198.3,645.7M210.0,583.8L220.9,593.5M59.5,628.0L59.9,647.3M21.1,613.1L55.1,622.5M21.4,606.2L32.4,578.0M21.4,606.2L-13.3,573.8M21.1,613.1L21.4,606.2" stroke="#ffc23a" stroke-width="0.85" fill="none" opacity="0.85"/>
<path d="M57.8,521.9L84.0,538.2M57.8,521.9L42.3,549.1M42.3,549.1L64.2,555.6M165.3,459.0L204.9,478.6M156.1,466.7L174.7,494.5M204.9,478.6L200.7,487.4M237.8,523.4L208.0,508.1M233.6,483.7L211.7,471.7M211.7,471.7L204.9,478.6M122.5,486.0L109.2,484.6M122.5,486.0L142.7,479.2M176.9,436.4L165.3,459.0M156.1,466.7L153.6,466.9M94.3,496.7L109.2,484.6M94.3,496.7L64.9,487.0M64.9,487.0L64.0,484.9M22.4,444.0L48.4,423.6M22.4,444.0L60.3,483.4M60.3,483.4L64.0,484.9M94.3,496.7L103.0,522.8M122.5,486.0L143.9,519.6M103.0,522.8L143.9,519.6M79.8,580.6L98.0,612.3M79.8,580.6L110.8,560.0M113.6,561.4L118.5,605.6M108.8,615.6L98.0,612.3M76.3,579.9L64.2,555.6M99.5,534.6L110.8,560.0M148.0,642.4L111.3,624.4M111.3,624.4L107.1,638.1M76.3,579.9L60.0,589.9M211.7,471.7L213.5,459.6M198.4,398.9L211.5,442.5M25.7,553.7L15.4,528.2M56.4,500.7L18.6,515.2M22.3,444.1L-6.3,422.8M196.3,546.6L174.2,554.7M159.5,516.6L165.0,513.5M208.0,508.1L192.0,524.0M152.9,516.8L159.5,516.6M196.3,546.6L209.4,551.6M209.4,551.6L232.6,539.9M158.1,593.0L164.5,594.4M158.1,593.0L130.3,560.5M140.1,551.0L130.3,560.5M210.0,583.8L209.4,551.6M118.5,605.6L123.4,604.6M123.4,604.6L155.0,633.1M165.2,597.0L192.7,621.3M11.6,620.7L21.1,613.1M32.4,578.0L24.9,555.3M24.9,555.3L-12.7,570.4M60.0,589.9L32.4,578.0M25.7,553.7L24.9,555.3" stroke="#ff3a3a" stroke-width="0.85" fill="none" opacity="0.85"/>
<path d="M43.5,593.0L42.8,616.5" stroke="#8a0000" stroke-width="11.0" fill="none"/>
<path d="M43.5,593.0L42.8,616.5" stroke="#e80000" stroke-width="8.1" fill="none"/>
<path d="M41.7,592.9L41.0,616.4" stroke="#ff5050" stroke-width="2.0" fill="none" opacity="0.7"/>
<path d="M42.8,616.5L42.0,640.0" stroke="#9a3aa0" stroke-width="11.0" fill="none"/>
<path d="M42.8,616.5L42.0,640.0" stroke="#e060e6" stroke-width="8.1" fill="none"/>
<path d="M41.0,616.4L40.2,639.9" stroke="#ffa0ff" stroke-width="2.0" fill="none" opacity="0.7"/>
<path d="M202.5,580.5L204.2,610.2" stroke="#8a0000" stroke-width="10.0" fill="none"/>
<path d="M202.5,580.5L204.2,610.2" stroke="#e80000" stroke-width="7.4" fill="none"/>
<path d="M204.1,580.4L205.8,610.2" stroke="#ff5050" stroke-width="1.8" fill="none" opacity="0.7"/>
<path d="M204.2,610.2L206.0,640.0" stroke="#9a3aa0" stroke-width="10.0" fill="none"/>
<path d="M204.2,610.2L206.0,640.0" stroke="#e060e6" stroke-width="7.4" fill="none"/>
<path d="M205.8,610.2L207.6,639.9" stroke="#ffa0ff" stroke-width="1.8" fill="none" opacity="0.7"/>
<path d="M66.0,608.0L75.5,614.0" stroke="#8a0000" stroke-width="9.0" fill="none"/>
<path d="M66.0,608.0L75.5,614.0" stroke="#e80000" stroke-width="6.7" fill="none"/>
<path d="M66.8,606.8L76.3,612.8" stroke="#ff5050" stroke-width="1.6" fill="none" opacity="0.7"/>
<path d="M75.5,614.0L85.0,620.0" stroke="#9a7014" stroke-width="9.0" fill="none"/>
<path d="M75.5,614.0L85.0,620.0" stroke="#ecb830" stroke-width="6.7" fill="none"/>
<path d="M76.3,612.8L85.8,618.8" stroke="#ffe080" stroke-width="1.6" fill="none" opacity="0.7"/>
<circle cx="85.0" cy="620.0" r="9.0" fill="url(#gS)"/>
<circle cx="84.3" cy="618.9" r="2.5" fill="url(#gSpec)"/>
<path d="M83.5,564.0L63.5,578.5" stroke="#45457a" stroke-width="10.5" fill="none"/>
<path d="M83.5,564.0L63.5,578.5" stroke="#7676b2" stroke-width="7.8" fill="none"/>
<path d="M82.5,562.6L62.5,577.1" stroke="#a4a4d8" stroke-width="1.9" fill="none" opacity="0.7"/>
<path d="M63.5,578.5L43.5,593.0" stroke="#8a0000" stroke-width="10.5" fill="none"/>
<path d="M63.5,578.5L43.5,593.0" stroke="#e80000" stroke-width="7.8" fill="none"/>
<path d="M62.5,577.1L42.5,591.6" stroke="#ff5050" stroke-width="1.9" fill="none" opacity="0.7"/>
<circle cx="43.5" cy="593.0" r="11.0" fill="url(#gO)"/>
<circle cx="42.6" cy="591.7" r="3.1" fill="url(#gSpec)"/>
<path d="M83.5,564.0L74.8,586.0" stroke="#45457a" stroke-width="10.5" fill="none"/>
<path d="M83.5,564.0L74.8,586.0" stroke="#7676b2" stroke-width="7.8" fill="none"/>
<path d="M81.9,563.4L73.2,585.4" stroke="#a4a4d8" stroke-width="1.9" fill="none" opacity="0.7"/>
<path d="M74.8,586.0L66.0,608.0" stroke="#8a0000" stroke-width="10.5" fill="none"/>
<path d="M74.8,586.0L66.0,608.0" stroke="#e80000" stroke-width="7.8" fill="none"/>
<path d="M73.2,585.4L64.4,607.4" stroke="#ff5050" stroke-width="1.9" fill="none" opacity="0.7"/>
<circle cx="66.0" cy="608.0" r="11.5" fill="url(#gO)"/>
<circle cx="65.1" cy="606.6" r="3.2" fill="url(#gSpec)"/>
<path d="M160.0,573.0L169.0,597.0" stroke="#3aa6aa" stroke-width="10.5" fill="none"/>
<path d="M160.0,573.0L169.0,597.0" stroke="#78e4ea" stroke-width="7.8" fill="none"/>
<path d="M161.6,572.4L170.6,596.4" stroke="#c0fafa" stroke-width="1.9" fill="none" opacity="0.7"/>
<path d="M169.0,597.0L178.0,621.0" stroke="#8a0000" stroke-width="10.5" fill="none"/>
<path d="M169.0,597.0L178.0,621.0" stroke="#e80000" stroke-width="7.8" fill="none"/>
<path d="M170.6,596.4L179.6,620.4" stroke="#ff5050" stroke-width="1.9" fill="none" opacity="0.7"/>
<circle cx="178.0" cy="621.0" r="11.0" fill="url(#gO)"/>
<circle cx="177.1" cy="619.7" r="3.1" fill="url(#gSpec)"/>
<path d="M118.5,548.1L139.2,560.5" stroke="#8a0000" stroke-width="10.5" fill="none"/>
<path d="M118.5,548.1L139.2,560.5" stroke="#e80000" stroke-width="7.8" fill="none"/>
<path d="M119.4,546.7L140.1,559.1" stroke="#ff5050" stroke-width="1.9" fill="none" opacity="0.7"/>
<path d="M139.2,560.5L160.0,573.0" stroke="#3aa6aa" stroke-width="10.5" fill="none"/>
<path d="M139.2,560.5L160.0,573.0" stroke="#78e4ea" stroke-width="7.8" fill="none"/>
<path d="M140.1,559.1L160.9,571.6" stroke="#c0fafa" stroke-width="1.9" fill="none" opacity="0.7"/>
<path d="M83.5,564.0L101.0,556.0" stroke="#45457a" stroke-width="10.5" fill="none"/>
<path d="M83.5,564.0L101.0,556.0" stroke="#7676b2" stroke-width="7.8" fill="none"/>
<path d="M82.8,562.5L100.3,554.5" stroke="#a4a4d8" stroke-width="1.9" fill="none" opacity="0.7"/>
<path d="M101.0,556.0L118.5,548.1" stroke="#8a0000" stroke-width="10.5" fill="none"/>
<path d="M101.0,556.0L118.5,548.1" stroke="#e80000" stroke-width="7.8" fill="none"/>
<path d="M100.3,554.5L117.8,546.6" stroke="#ff5050" stroke-width="1.9" fill="none" opacity="0.7"/>
<circle cx="118.5" cy="548.1" r="11.0" fill="url(#gO)"/>
<circle cx="117.6" cy="546.8" r="3.1" fill="url(#gSpec)"/>
<path d="M160.0,573.0L181.2,576.8" stroke="#3aa6aa" stroke-width="10.5" fill="none"/>
<path d="M160.0,573.0L181.2,576.8" stroke="#78e4ea" stroke-width="7.8" fill="none"/>
<path d="M160.3,571.3L181.5,575.1" stroke="#c0fafa" stroke-width="1.9" fill="none" opacity="0.7"/>
<path d="M181.2,576.8L202.5,580.5" stroke="#8a0000" stroke-width="10.5" fill="none"/>
<path d="M181.2,576.8L202.5,580.5" stroke="#e80000" stroke-width="7.8" fill="none"/>
<path d="M181.5,575.1L202.8,578.8" stroke="#ff5050" stroke-width="1.9" fill="none" opacity="0.7"/>
<circle cx="202.5" cy="580.5" r="11.0" fill="url(#gO)"/>
<circle cx="201.6" cy="579.2" r="3.1" fill="url(#gSpec)"/>
<path d="M114.3,566.7L137.2,569.9" stroke="#8a0000" stroke-width="11.5" fill="none"/>
<path d="M114.3,566.7L137.2,569.9" stroke="#e80000" stroke-width="8.5" fill="none"/>
<path d="M114.6,564.9L137.4,568.0" stroke="#ff5050" stroke-width="2.1" fill="none" opacity="0.7"/>
<path d="M137.2,569.9L160.0,573.0" stroke="#3aa6aa" stroke-width="11.5" fill="none"/>
<path d="M137.2,569.9L160.0,573.0" stroke="#78e4ea" stroke-width="8.5" fill="none"/>
<path d="M137.4,568.0L160.3,571.2" stroke="#c0fafa" stroke-width="2.1" fill="none" opacity="0.7"/>
<circle cx="160.0" cy="573.0" r="11.0" fill="url(#gZn)"/>
<circle cx="159.1" cy="571.7" r="3.1" fill="url(#gSpec)"/>
<path d="M83.5,564.0L98.9,565.4" stroke="#45457a" stroke-width="10.5" fill="none"/>
<path d="M83.5,564.0L98.9,565.4" stroke="#7676b2" stroke-width="7.8" fill="none"/>
<path d="M83.6,562.3L99.0,563.7" stroke="#a4a4d8" stroke-width="1.9" fill="none" opacity="0.7"/>
<path d="M98.9,565.4L114.3,566.7" stroke="#8a0000" stroke-width="10.5" fill="none"/>
<path d="M98.9,565.4L114.3,566.7" stroke="#e80000" stroke-width="7.8" fill="none"/>
<path d="M99.0,563.7L114.4,565.0" stroke="#ff5050" stroke-width="1.9" fill="none" opacity="0.7"/>
<circle cx="114.3" cy="566.7" r="12.0" fill="url(#gO)"/>
<circle cx="113.3" cy="565.3" r="3.4" fill="url(#gSpec)"/>
<path d="M58.8,523.4L69.8,544.4" stroke="#8a0000" stroke-width="5.0" fill="none"/>
<path d="M58.8,523.4L69.8,544.4" stroke="#e80000" stroke-width="3.7" fill="none"/>
<path d="M59.6,523.0L70.6,544.0" stroke="#ff5050" stroke-width="0.9" fill="none" opacity="0.7"/>
<path d="M69.8,544.4L80.8,565.4" stroke="#45457a" stroke-width="5.0" fill="none"/>
<path d="M69.8,544.4L80.8,565.4" stroke="#7676b2" stroke-width="3.7" fill="none"/>
<path d="M70.6,544.0L81.6,565.0" stroke="#a4a4d8" stroke-width="0.9" fill="none" opacity="0.7"/>
<path d="M64.2,520.6L75.2,541.6" stroke="#8a0000" stroke-width="5.0" fill="none"/>
<path d="M64.2,520.6L75.2,541.6" stroke="#e80000" stroke-width="3.7" fill="none"/>
<path d="M64.9,520.2L75.9,541.2" stroke="#ff5050" stroke-width="0.9" fill="none" opacity="0.7"/>
<path d="M75.2,541.6L86.2,562.6" stroke="#45457a" stroke-width="5.0" fill="none"/>
<path d="M75.2,541.6L86.2,562.6" stroke="#7676b2" stroke-width="3.7" fill="none"/>
<path d="M75.9,541.2L86.9,562.2" stroke="#a4a4d8" stroke-width="0.9" fill="none" opacity="0.7"/>
<circle cx="83.5" cy="564.0" r="11.0" fill="url(#gFe)"/>
<circle cx="82.6" cy="562.7" r="3.1" fill="url(#gSpec)"/>
<path d="M84.5,496.6L73.0,509.3" stroke="#5a5a5a" stroke-width="7.0" fill="none"/>
<path d="M84.5,496.6L73.0,509.3" stroke="#9a9a9a" stroke-width="5.2" fill="none"/>
<path d="M83.7,495.8L72.2,508.5" stroke="#d0d0d0" stroke-width="1.3" fill="none" opacity="0.7"/>
<path d="M73.0,509.3L61.5,522.0" stroke="#8a0000" stroke-width="7.0" fill="none"/>
<path d="M73.0,509.3L61.5,522.0" stroke="#e80000" stroke-width="5.2" fill="none"/>
<path d="M72.2,508.5L60.7,521.2" stroke="#ff5050" stroke-width="1.3" fill="none" opacity="0.7"/>
<circle cx="61.5" cy="522.0" r="10.5" fill="url(#gO)"/>
<circle cx="60.7" cy="520.7" r="2.9" fill="url(#gSpec)"/>
<path d="M113.8,475.5L123.9,475.5" stroke="#3a3a3a" stroke-width="6.5" fill="none"/>
<path d="M113.8,475.5L123.9,475.5" stroke="#6e6e6e" stroke-width="4.8" fill="none"/>
<path d="M113.8,474.5L123.9,474.5" stroke="#a8a8a8" stroke-width="1.2" fill="none" opacity="0.7"/>
<path d="M123.9,475.5L134.0,475.5" stroke="#8a8a8a" stroke-width="6.5" fill="none"/>
<path d="M123.9,475.5L134.0,475.5" stroke="#d8d8d8" stroke-width="4.8" fill="none"/>
<path d="M123.9,474.5L134.0,474.5" stroke="#ffffff" stroke-width="1.2" fill="none" opacity="0.7"/>
<circle cx="134.0" cy="475.5" r="7.4" fill="url(#gH)"/>
<circle cx="133.4" cy="474.6" r="2.1" fill="url(#gSpec)"/>
<path d="M113.8,475.5L121.4,481.9" stroke="#3a3a3a" stroke-width="6.5" fill="none"/>
<path d="M113.8,475.5L121.4,481.9" stroke="#6e6e6e" stroke-width="4.8" fill="none"/>
<path d="M114.5,474.7L122.1,481.2" stroke="#a8a8a8" stroke-width="1.2" fill="none" opacity="0.7"/>
<path d="M121.4,481.9L129.1,488.4" stroke="#8a8a8a" stroke-width="6.5" fill="none"/>
<path d="M121.4,481.9L129.1,488.4" stroke="#d8d8d8" stroke-width="4.8" fill="none"/>
<path d="M122.1,481.2L129.8,487.6" stroke="#ffffff" stroke-width="1.2" fill="none" opacity="0.7"/>
<path d="M99.4,447.4L106.6,461.4" stroke="#8a8a8a" stroke-width="8.5" fill="none"/>
<path d="M99.4,447.4L106.6,461.4" stroke="#d8d8d8" stroke-width="6.3" fill="none"/>
<path d="M100.6,446.8L107.8,460.8" stroke="#ffffff" stroke-width="1.5" fill="none" opacity="0.7"/>
<path d="M106.6,461.4L113.8,475.5" stroke="#3a3a3a" stroke-width="8.5" fill="none"/>
<path d="M106.6,461.4L113.8,475.5" stroke="#6e6e6e" stroke-width="6.3" fill="none"/>
<path d="M107.8,460.8L115.0,474.9" stroke="#a8a8a8" stroke-width="1.5" fill="none" opacity="0.7"/>
<path d="M113.8,475.5L99.2,486.1" stroke="#3a3a3a" stroke-width="10.0" fill="none"/>
<path d="M113.8,475.5L99.2,486.1" stroke="#6e6e6e" stroke-width="7.4" fill="none"/>
<path d="M112.9,474.2L98.2,484.8" stroke="#a8a8a8" stroke-width="1.8" fill="none" opacity="0.7"/>
<path d="M99.2,486.1L84.5,496.6" stroke="#5a5a5a" stroke-width="10.0" fill="none"/>
<path d="M99.2,486.1L84.5,496.6" stroke="#9a9a9a" stroke-width="7.4" fill="none"/>
<path d="M98.2,484.8L83.6,495.3" stroke="#d0d0d0" stroke-width="1.8" fill="none" opacity="0.7"/>
<circle cx="84.5" cy="496.6" r="10.5" fill="url(#gHg)"/>
<circle cx="83.7" cy="495.3" r="2.9" fill="url(#gSpec)"/>
<circle cx="113.8" cy="475.5" r="9.8" fill="url(#gC)"/>
<circle cx="113.0" cy="474.3" r="2.7" fill="url(#gSpec)"/>
<circle cx="129.1" cy="488.4" r="8.8" fill="url(#gH)"/>
<circle cx="128.4" cy="487.3" r="2.5" fill="url(#gSpec)"/>
<circle cx="99.4" cy="447.4" r="10.4" fill="url(#gH)"/>
<circle cx="98.6" cy="446.2" r="2.9" fill="url(#gSpec)"/>
<rect x="-39" y="-13.5" width="78" height="27" transform="translate(71,541.8) rotate(58.2)" stroke="#ff0000" stroke-width="3.4" stroke-dasharray="10,8.5" stroke-dashoffset="3" fill="none"/>
<rect x="-33.7" y="-13.8" width="67.4" height="27.6" transform="translate(98.5,484.8) rotate(-34.2)" stroke="#3a7cc4" stroke-width="3.2" stroke-dasharray="9.5,8.5" stroke-dashoffset="2" fill="none"/>
<text x="61.5" y="527.5" font-size="17" fill="#fff" text-anchor="middle" >O</text>
<text x="114.0" y="481.5" font-size="17.5" fill="#fff" text-anchor="middle" >C</text>
<text x="84.6" y="502.5" font-size="18.5" fill="#000" text-anchor="middle" >H</text>
<text x="84.0" y="570.5" font-size="18.5" fill="#fff" text-anchor="middle" >Fe</text>
<text x="160.5" y="579.5" font-size="18" fill="#000" text-anchor="middle" >Zn</text>
<line x1="86.3" y1="465.2" x2="52.5" y2="497.6" stroke="#000" stroke-width="1.4" />
<path d="M44,505.5 L49.5,492.8 L57,500.5 Z" fill="#000"/>
<text transform="translate(62.3,475.3) rotate(-42)" x="0" y="0" font-size="21" text-anchor="middle">0.40 eV</text>
</g>
<rect x="25.4" y="437.0" width="198.1" height="190.1" fill="none" stroke="#111" stroke-width="1.5" />
<text x="199.0" y="457.5" font-size="19.5" fill="#000" text-anchor="middle" >TS1</text>
<clipPath id="cp3"><rect x="416.8" y="215.5" width="103.30000000000001" height="102.80000000000001"/></clipPath><g clip-path="url(#cp3)">
<path d="M497.2,193.0Q491.5,204.5 482.1,213.2M446.1,320.0Q445.6,328.4 447.7,336.6M535.5,319.6Q527.6,318.8 519.8,319.7M470.6,253.4Q479.9,249.5 489.9,249.9M514.1,279.7Q501.9,274.3 492.2,265.1M514.1,279.7Q518.1,275.0 523.6,272.3M523.6,272.3Q519.7,261.8 512.7,253.2M492.2,265.1Q490.9,257.9 490.6,250.6M437.0,232.9Q425.0,231.6 414.7,225.2M400.5,300.7Q413.6,300.8 426.6,299.1M537.6,296.7Q524.6,296.4 512.5,291.5M518.1,210.9Q520.5,211.2 522.7,212.3M518.1,210.9Q504.0,216.5 493.4,227.3M521.5,238.8Q520.5,236.6 519.2,234.6M490.5,243.9Q493.3,238.0 493.8,231.4M392.0,279.6Q405.0,278.4 416.8,272.4M406.0,250.8Q412.8,257.9 422.0,261.3M416.8,272.4Q419.7,267.0 422.0,261.3M428.2,258.4Q427.4,258.9 426.6,259.5M446.1,319.8Q444.2,312.4 442.2,304.9M433.8,298.2Q438.0,301.5 442.2,304.9M462.5,258.8Q461.1,264.3 459.9,269.8M487.1,338.9Q492.2,328.7 494.4,317.6M471.5,317.0Q472.1,316.1 472.9,315.4M462.8,295.7Q466.2,287.1 465.5,277.8M462.8,295.7Q467.2,298.2 471.6,300.8M484.8,280.0Q487.4,284.9 489.4,290.1M489.4,290.1Q488.2,292.9 487.3,295.8M442.2,304.9Q452.5,300.4 462.8,295.7M459.9,269.8Q461.9,274.4 465.5,277.8" stroke="#ff4848" stroke-width="1.15" fill="none" opacity="0.35"/>
<path d="M482.1,213.2Q476.6,211.9 470.9,211.9M470.9,211.9Q468.5,202.3 462.8,194.1M523.3,362.3Q532.1,342.5 540.0,322.4M490.5,243.9Q490.9,247.0 489.9,249.9M544.6,241.0Q533.2,238.2 521.5,238.8M521.5,238.8Q517.3,244.0 515.3,250.4M526.4,272.2Q525.0,272.2 523.6,272.3M459.2,223.4Q458.8,223.4 458.5,223.5M462.5,258.8Q448.6,252.6 438.5,241.2M438.5,241.2Q438.7,237.4 437.8,233.6M411.4,224.2Q412.6,224.2 413.8,224.2M413.8,224.2Q414.3,224.7 414.7,225.2M426.6,299.1Q420.2,312.8 415.8,327.3M446.1,320.0Q446.1,319.9 446.1,319.8M473.9,338.6Q472.1,327.9 471.5,317.0M512.9,315.1Q513.2,303.3 512.5,291.5M514.1,279.7Q512.9,283.8 511.1,287.6M511.1,287.6Q511.6,289.6 512.5,291.5M493.4,227.3Q493.7,229.4 493.8,231.4M426.6,299.1Q428.1,298.3 429.7,297.8M426.6,259.5Q424.5,261.0 422.0,261.3M429.7,297.8Q431.8,297.7 433.8,298.2M426.6,259.5Q431.6,273.2 439.5,285.4M428.2,258.4Q439.4,265.7 450.7,272.8M439.5,285.4Q443.9,278.1 450.7,272.8M494.4,317.6Q483.8,315.2 472.9,315.4M465.5,277.8Q475.2,278.8 484.8,280.0M496.5,315.7Q493.1,305.2 487.3,295.8M492.2,265.1Q489.3,272.9 484.8,280.0" stroke="#ff4848" stroke-width="1.15" fill="none" opacity="0.85"/>
<path d="M415.8,327.3Q430.3,321.0 446.1,320.0M510.0,345.8Q515.9,333.2 519.8,319.7M470.6,253.4Q466.0,239.7 460.9,226.2M460.9,226.2Q476.0,234.6 490.5,243.9M515.3,250.4Q529.5,250.4 543.3,254.0M512.7,253.2Q501.5,252.9 490.6,250.6M515.3,250.4Q514.2,251.9 512.7,253.2M458.5,223.5Q447.3,211.7 439.9,197.3M458.5,223.5Q447.9,227.9 437.8,233.6M437.0,232.9Q437.3,233.4 437.8,233.6M437.0,232.9Q439.1,216.4 437.7,199.9M459.2,223.4Q465.0,217.7 470.9,211.9M462.5,258.8Q466.1,255.5 470.6,253.4M459.2,223.4Q460.3,224.7 460.9,226.2M415.0,206.9Q412.5,215.4 413.8,224.2M446.1,319.8Q458.7,317.1 471.5,317.0M519.8,319.7Q516.1,317.7 512.9,315.1M519.2,234.6Q506.2,235.8 493.8,231.4M519.2,234.6Q522.8,223.8 522.7,212.3M489.9,249.9Q490.3,250.2 490.6,250.6M530.5,211.0Q526.6,211.5 522.7,212.3M503.6,192.0Q511.0,201.3 518.1,210.9M482.1,213.2Q487.4,220.5 493.4,227.3M414.7,225.2Q408.2,237.2 406.0,250.8M429.7,297.8Q425.0,284.2 416.8,272.4M428.2,258.4Q433.6,249.9 438.5,241.2M433.8,298.2Q437.6,292.3 439.5,285.4M459.9,269.8Q455.6,272.2 450.7,272.8M512.9,315.1Q504.7,315.2 496.5,315.7M494.4,317.6Q495.3,316.4 496.5,315.7M471.6,300.8Q479.4,298.1 487.3,295.8M472.9,315.4Q472.2,308.1 471.6,300.8M511.1,287.6Q500.2,288.7 489.4,290.1" stroke="#ff4848" stroke-width="1.15" fill="none" opacity="0.6"/>
<path d="M519.6,309.4Q547.0,302.1 575.1,306.0M526.8,338.3Q520.5,330.8 515.5,322.3M495.2,279.5Q490.7,291.5 488.7,304.3M517.4,306.0Q503.2,302.4 488.7,304.3M515.5,322.3Q508.7,325.6 501.8,328.7M446.3,291.1Q443.7,292.5 441.3,294.3M440.0,296.6Q445.1,302.3 448.1,309.4M389.0,297.7Q404.9,301.0 417.6,311.1M417.7,316.5Q405.8,323.5 392.5,327.2M423.6,303.0Q418.1,291.2 412.8,279.4M403.6,277.7Q408.3,278.2 412.8,279.4M437.7,240.5Q442.9,248.7 448.8,256.3M469.4,279.7Q468.5,266.7 462.1,255.4M495.2,279.5Q496.4,278.6 497.6,277.9M497.6,277.9Q506.6,278.9 514.7,282.8M449.2,219.0Q441.0,214.1 432.0,210.8M421.8,230.3Q427.0,220.6 432.0,210.8M528.1,235.5Q524.4,226.5 518.9,218.5M510.8,247.7Q506.9,248.8 502.9,249.8M510.8,247.7Q509.5,231.7 503.1,216.9M502.9,249.8Q497.7,237.6 493.7,224.9M498.0,214.6Q500.3,216.3 503.1,216.9M517.5,248.3Q514.2,248.0 510.8,247.7M494.4,254.8Q498.9,252.8 502.9,249.8" stroke="#ffc658" stroke-width="1.15" fill="none" opacity="0.6"/>
<path d="M519.6,309.4Q517.5,315.9 515.5,322.3M469.4,279.7Q467.4,283.2 465.9,286.9M465.9,286.9Q471.0,297.4 474.9,308.5M474.9,308.5Q482.2,308.1 488.7,304.4M488.7,304.3Q488.7,304.3 488.7,304.4M501.8,328.7Q495.9,316.1 488.7,304.4M470.7,317.1Q458.5,315.8 448.1,309.4M417.6,311.1Q417.8,313.8 417.7,316.5M417.6,311.1Q420.3,306.8 423.6,303.0M440.3,326.2Q445.3,318.3 448.1,309.4M497.7,332.5Q484.4,326.9 471.0,321.5M470.7,317.1Q471.0,319.3 471.0,321.5M427.7,270.1Q420.7,275.5 412.8,279.4M424.2,234.7Q422.1,244.5 417.9,253.6M424.2,234.7Q430.4,238.9 437.7,240.5M446.9,257.9Q447.7,256.9 448.8,256.3M462.1,255.4Q463.7,254.2 464.7,252.6M446.6,228.3Q443.2,235.2 437.7,240.5M427.7,270.1Q428.4,267.7 429.6,265.5M394.1,256.4Q405.9,253.8 417.9,253.6M424.2,234.7Q423.5,232.3 421.8,230.3M517.4,306.0Q518.5,294.1 514.7,282.8M464.4,217.2Q456.9,218.8 449.2,219.0M464.4,217.2Q468.6,209.7 473.9,203.0M431.1,207.7Q431.4,209.3 432.0,210.8M528.3,208.0Q523.7,213.3 518.9,218.5M517.5,248.3Q521.5,240.8 528.1,235.5M494.3,208.7Q496.4,211.5 498.0,214.6" stroke="#ffc658" stroke-width="1.15" fill="none" opacity="0.35"/>
<path d="M495.2,279.5Q482.3,282.6 469.4,279.7M519.6,309.4Q518.8,307.5 517.4,306.0M446.3,291.1Q456.4,290.6 465.9,286.9M474.9,308.5Q472.5,312.7 470.7,317.1M441.3,294.3Q440.6,295.4 440.0,296.6M423.0,326.9Q421.3,321.2 417.7,316.5M423.6,303.0Q432.0,300.2 440.0,296.6M465.9,331.0Q468.8,326.4 471.0,321.5M441.3,294.3Q432.5,283.4 427.7,270.1M417.9,253.6Q422.4,260.8 429.6,265.5M429.6,265.5Q437.6,260.2 446.9,257.9M462.1,255.4Q455.6,257.1 448.8,256.3M464.7,252.6Q453.8,241.8 446.6,228.3M446.3,291.1Q448.9,274.6 446.9,257.9M421.8,230.3Q410.3,228.9 398.6,228.1M398.6,228.1Q406.2,212.9 413.2,197.5M525.8,274.2Q521.0,279.4 514.7,282.8M471.6,246.9Q467.6,232.1 464.4,217.2M471.6,246.9Q467.7,249.2 464.7,252.6M446.6,228.3Q447.9,223.6 449.2,219.0M471.6,246.9Q472.5,246.7 473.5,246.9M497.6,277.9Q495.8,266.4 494.4,254.8M473.5,246.9Q484.7,248.8 494.4,254.8M527.6,266.7Q523.9,256.8 517.5,248.3M493.7,224.9Q497.1,220.3 498.0,214.6M518.9,218.5Q510.9,219.2 503.1,216.9M473.5,246.9Q485.3,237.4 493.7,224.9" stroke="#ffc658" stroke-width="1.15" fill="none" opacity="0.85"/>
<path d="M427.2,291.5L425.2,301.4" stroke="#8a0000" stroke-width="3.6" fill="none"/>
<path d="M427.2,291.5L425.2,301.4" stroke="#e80000" stroke-width="2.7" fill="none"/>
<path d="M426.6,291.4L424.6,301.3" stroke="#ff5050" stroke-width="0.6" fill="none" opacity="0.7"/>
<path d="M425.2,301.4L423.2,311.4" stroke="#9a3aa0" stroke-width="3.6" fill="none"/>
<path d="M425.2,301.4L423.2,311.4" stroke="#e060e6" stroke-width="2.7" fill="none"/>
<path d="M424.6,301.3L422.6,311.3" stroke="#ffa0ff" stroke-width="0.6" fill="none" opacity="0.7"/>
<path d="M439.1,301.8L431.1,306.6" stroke="#8a0000" stroke-width="3.6" fill="none"/>
<path d="M439.1,301.8L431.1,306.6" stroke="#e80000" stroke-width="2.7" fill="none"/>
<path d="M438.8,301.3L430.9,306.1" stroke="#ff5050" stroke-width="0.6" fill="none" opacity="0.7"/>
<path d="M431.1,306.6L423.2,311.4" stroke="#9a3aa0" stroke-width="3.6" fill="none"/>
<path d="M431.1,306.6L423.2,311.4" stroke="#e060e6" stroke-width="2.7" fill="none"/>
<path d="M430.9,306.1L422.9,310.9" stroke="#ffa0ff" stroke-width="0.6" fill="none" opacity="0.7"/>
<circle cx="423.2" cy="311.4" r="5.0" fill="url(#gAl)"/>
<path d="M492.5,306.6L500.1,309.4" stroke="#8a0000" stroke-width="3.6" fill="none"/>
<path d="M492.5,306.6L500.1,309.4" stroke="#e80000" stroke-width="2.7" fill="none"/>
<path d="M492.7,306.1L500.3,308.9" stroke="#ff5050" stroke-width="0.6" fill="none" opacity="0.7"/>
<path d="M500.1,309.4L507.6,312.2" stroke="#9a3aa0" stroke-width="3.6" fill="none"/>
<path d="M500.1,309.4L507.6,312.2" stroke="#e060e6" stroke-width="2.7" fill="none"/>
<path d="M500.3,308.9L507.8,311.7" stroke="#ffa0ff" stroke-width="0.6" fill="none" opacity="0.7"/>
<path d="M505.2,288.3L506.4,300.2" stroke="#8a0000" stroke-width="3.6" fill="none"/>
<path d="M505.2,288.3L506.4,300.2" stroke="#e80000" stroke-width="2.7" fill="none"/>
<path d="M505.8,288.2L507.0,300.2" stroke="#ff5050" stroke-width="0.6" fill="none" opacity="0.7"/>
<path d="M506.4,300.2L507.6,312.2" stroke="#9a3aa0" stroke-width="3.6" fill="none"/>
<path d="M506.4,300.2L507.6,312.2" stroke="#e060e6" stroke-width="2.7" fill="none"/>
<path d="M507.0,300.2L508.2,312.1" stroke="#ffa0ff" stroke-width="0.6" fill="none" opacity="0.7"/>
<circle cx="507.6" cy="312.2" r="5.0" fill="url(#gAl)"/>
<path d="M447.1,277.1L437.1,284.3" stroke="#45457a" stroke-width="3.6" fill="none"/>
<path d="M447.1,277.1L437.1,284.3" stroke="#7676b2" stroke-width="2.7" fill="none"/>
<path d="M446.8,276.6L436.8,283.8" stroke="#a4a4d8" stroke-width="0.6" fill="none" opacity="0.7"/>
<path d="M437.1,284.3L427.2,291.5" stroke="#8a0000" stroke-width="3.6" fill="none"/>
<path d="M437.1,284.3L427.2,291.5" stroke="#e80000" stroke-width="2.7" fill="none"/>
<path d="M436.8,283.8L426.9,291.0" stroke="#ff5050" stroke-width="0.6" fill="none" opacity="0.7"/>
<path d="M447.1,277.1L443.1,289.5" stroke="#45457a" stroke-width="3.6" fill="none"/>
<path d="M447.1,277.1L443.1,289.5" stroke="#7676b2" stroke-width="2.7" fill="none"/>
<path d="M446.6,276.9L442.6,289.3" stroke="#a4a4d8" stroke-width="0.6" fill="none" opacity="0.7"/>
<path d="M443.1,289.5L439.1,301.8" stroke="#8a0000" stroke-width="3.6" fill="none"/>
<path d="M443.1,289.5L439.1,301.8" stroke="#e80000" stroke-width="2.7" fill="none"/>
<path d="M442.6,289.3L438.6,301.6" stroke="#ff5050" stroke-width="0.6" fill="none" opacity="0.7"/>
<circle cx="427.2" cy="291.5" r="5.4" fill="url(#gO)"/>
<circle cx="439.1" cy="301.8" r="5.0" fill="url(#gO)"/>
<path d="M483.7,282.7L488.1,294.6" stroke="#3aa6aa" stroke-width="3.6" fill="none"/>
<path d="M483.7,282.7L488.1,294.6" stroke="#78e4ea" stroke-width="2.7" fill="none"/>
<path d="M484.2,282.5L488.6,294.5" stroke="#c0fafa" stroke-width="0.6" fill="none" opacity="0.7"/>
<path d="M488.1,294.6L492.5,306.6" stroke="#8a0000" stroke-width="3.6" fill="none"/>
<path d="M488.1,294.6L492.5,306.6" stroke="#e80000" stroke-width="2.7" fill="none"/>
<path d="M488.6,294.5L493.0,306.4" stroke="#ff5050" stroke-width="0.6" fill="none" opacity="0.7"/>
<circle cx="492.5" cy="306.6" r="5.4" fill="url(#gO)"/>
<path d="M483.7,282.7L494.4,285.5" stroke="#3aa6aa" stroke-width="3.6" fill="none"/>
<path d="M483.7,282.7L494.4,285.5" stroke="#78e4ea" stroke-width="2.7" fill="none"/>
<path d="M483.8,282.1L494.6,284.9" stroke="#c0fafa" stroke-width="0.6" fill="none" opacity="0.7"/>
<path d="M494.4,285.5L505.2,288.3" stroke="#8a0000" stroke-width="3.6" fill="none"/>
<path d="M494.4,285.5L505.2,288.3" stroke="#e80000" stroke-width="2.7" fill="none"/>
<path d="M494.6,284.9L505.3,287.7" stroke="#ff5050" stroke-width="0.6" fill="none" opacity="0.7"/>
<circle cx="505.2" cy="288.3" r="5.0" fill="url(#gO)"/>
<path d="M463.8,271.6L473.8,277.1" stroke="#8a0000" stroke-width="3.6" fill="none"/>
<path d="M463.8,271.6L473.8,277.1" stroke="#e80000" stroke-width="2.7" fill="none"/>
<path d="M464.1,271.1L474.0,276.6" stroke="#ff5050" stroke-width="0.6" fill="none" opacity="0.7"/>
<path d="M473.8,277.1L483.7,282.7" stroke="#3aa6aa" stroke-width="3.6" fill="none"/>
<path d="M473.8,277.1L483.7,282.7" stroke="#78e4ea" stroke-width="2.7" fill="none"/>
<path d="M474.0,276.6L484.0,282.2" stroke="#c0fafa" stroke-width="0.6" fill="none" opacity="0.7"/>
<path d="M447.1,277.1L455.5,274.4" stroke="#45457a" stroke-width="3.6" fill="none"/>
<path d="M447.1,277.1L455.5,274.4" stroke="#7676b2" stroke-width="2.7" fill="none"/>
<path d="M446.9,276.6L455.3,273.8" stroke="#a4a4d8" stroke-width="0.6" fill="none" opacity="0.7"/>
<path d="M455.5,274.4L463.8,271.6" stroke="#8a0000" stroke-width="3.6" fill="none"/>
<path d="M455.5,274.4L463.8,271.6" stroke="#e80000" stroke-width="2.7" fill="none"/>
<path d="M455.3,273.8L463.6,271.1" stroke="#ff5050" stroke-width="0.6" fill="none" opacity="0.7"/>
<circle cx="463.8" cy="271.6" r="5.0" fill="url(#gO)"/>
<path d="M461.4,277.9L472.5,280.3" stroke="#8a0000" stroke-width="3.6" fill="none"/>
<path d="M461.4,277.9L472.5,280.3" stroke="#e80000" stroke-width="2.7" fill="none"/>
<path d="M461.5,277.3L472.7,279.7" stroke="#ff5050" stroke-width="0.6" fill="none" opacity="0.7"/>
<path d="M472.5,280.3L483.7,282.7" stroke="#3aa6aa" stroke-width="3.6" fill="none"/>
<path d="M472.5,280.3L483.7,282.7" stroke="#78e4ea" stroke-width="2.7" fill="none"/>
<path d="M472.7,279.7L483.8,282.1" stroke="#c0fafa" stroke-width="0.6" fill="none" opacity="0.7"/>
<path d="M447.1,277.1L454.2,277.5" stroke="#45457a" stroke-width="3.6" fill="none"/>
<path d="M447.1,277.1L454.2,277.5" stroke="#7676b2" stroke-width="2.7" fill="none"/>
<path d="M447.1,276.5L454.3,276.9" stroke="#a4a4d8" stroke-width="0.6" fill="none" opacity="0.7"/>
<path d="M454.2,277.5L461.4,277.9" stroke="#8a0000" stroke-width="3.6" fill="none"/>
<path d="M454.2,277.5L461.4,277.9" stroke="#e80000" stroke-width="2.7" fill="none"/>
<path d="M454.3,276.9L461.4,277.3" stroke="#ff5050" stroke-width="0.6" fill="none" opacity="0.7"/>
<circle cx="483.7" cy="282.7" r="5.0" fill="url(#gZn)"/>
<circle cx="461.4" cy="277.9" r="5.5" fill="url(#gO)"/>
<path d="M435.9,258.0L441.5,267.6" stroke="#8a0000" stroke-width="3.6" fill="none"/>
<path d="M435.9,258.0L441.5,267.6" stroke="#e80000" stroke-width="2.7" fill="none"/>
<path d="M436.4,257.7L442.0,267.3" stroke="#ff5050" stroke-width="0.6" fill="none" opacity="0.7"/>
<path d="M441.5,267.6L447.1,277.1" stroke="#45457a" stroke-width="3.6" fill="none"/>
<path d="M441.5,267.6L447.1,277.1" stroke="#7676b2" stroke-width="2.7" fill="none"/>
<path d="M442.0,267.3L447.6,276.8" stroke="#a4a4d8" stroke-width="0.6" fill="none" opacity="0.7"/>
<circle cx="447.1" cy="277.1" r="5.4" fill="url(#gFe)"/>
<path d="M446.3,245.3L441.1,251.7" stroke="#8a8a8a" stroke-width="3.6" fill="none"/>
<path d="M446.3,245.3L441.1,251.7" stroke="#d8d8d8" stroke-width="2.7" fill="none"/>
<path d="M445.9,244.9L440.7,251.3" stroke="#ffffff" stroke-width="0.6" fill="none" opacity="0.7"/>
<path d="M441.1,251.7L435.9,258.0" stroke="#8a0000" stroke-width="3.6" fill="none"/>
<path d="M441.1,251.7L435.9,258.0" stroke="#e80000" stroke-width="2.7" fill="none"/>
<path d="M440.7,251.3L435.5,257.6" stroke="#ff5050" stroke-width="0.6" fill="none" opacity="0.7"/>
<circle cx="435.9" cy="258.0" r="5.4" fill="url(#gO)"/>
<path d="M459.0,234.9L452.6,240.1" stroke="#3a3a3a" stroke-width="3.6" fill="none"/>
<path d="M459.0,234.9L452.6,240.1" stroke="#6e6e6e" stroke-width="2.7" fill="none"/>
<path d="M458.6,234.5L452.3,239.7" stroke="#a8a8a8" stroke-width="0.6" fill="none" opacity="0.7"/>
<path d="M452.6,240.1L446.3,245.3" stroke="#8a8a8a" stroke-width="3.6" fill="none"/>
<path d="M452.6,240.1L446.3,245.3" stroke="#d8d8d8" stroke-width="2.7" fill="none"/>
<path d="M452.3,239.7L445.9,244.9" stroke="#ffffff" stroke-width="0.6" fill="none" opacity="0.7"/>
<circle cx="446.3" cy="245.3" r="4.8" fill="url(#gH)"/>
<path d="M459.0,234.9L463.4,235.9" stroke="#3a3a3a" stroke-width="3.6" fill="none"/>
<path d="M459.0,234.9L463.4,235.9" stroke="#6e6e6e" stroke-width="2.7" fill="none"/>
<path d="M459.1,234.3L463.5,235.3" stroke="#a8a8a8" stroke-width="0.6" fill="none" opacity="0.7"/>
<path d="M463.4,235.9L467.8,236.8" stroke="#8a8a8a" stroke-width="3.6" fill="none"/>
<path d="M463.4,235.9L467.8,236.8" stroke="#d8d8d8" stroke-width="2.7" fill="none"/>
<path d="M463.5,235.3L467.9,236.2" stroke="#ffffff" stroke-width="0.6" fill="none" opacity="0.7"/>
<path d="M459.0,234.9L463.0,238.1" stroke="#3a3a3a" stroke-width="3.6" fill="none"/>
<path d="M459.0,234.9L463.0,238.1" stroke="#6e6e6e" stroke-width="2.7" fill="none"/>
<path d="M459.4,234.5L463.4,237.7" stroke="#a8a8a8" stroke-width="0.6" fill="none" opacity="0.7"/>
<path d="M463.0,238.1L467.0,241.3" stroke="#8a8a8a" stroke-width="3.6" fill="none"/>
<path d="M463.0,238.1L467.0,241.3" stroke="#d8d8d8" stroke-width="2.7" fill="none"/>
<path d="M463.4,237.7L467.4,240.9" stroke="#ffffff" stroke-width="0.6" fill="none" opacity="0.7"/>
<path d="M451.9,222.2L455.4,228.6" stroke="#8a8a8a" stroke-width="3.6" fill="none"/>
<path d="M451.9,222.2L455.4,228.6" stroke="#d8d8d8" stroke-width="2.7" fill="none"/>
<path d="M452.4,221.9L456.0,228.3" stroke="#ffffff" stroke-width="0.6" fill="none" opacity="0.7"/>
<path d="M455.4,228.6L459.0,234.9" stroke="#3a3a3a" stroke-width="3.6" fill="none"/>
<path d="M455.4,228.6L459.0,234.9" stroke="#6e6e6e" stroke-width="2.7" fill="none"/>
<path d="M456.0,228.3L459.5,234.6" stroke="#a8a8a8" stroke-width="0.6" fill="none" opacity="0.7"/>
<circle cx="451.9" cy="222.2" r="4.8" fill="url(#gH)"/>
<circle cx="459.0" cy="234.9" r="4.4" fill="url(#gC)"/>
<circle cx="467.8" cy="236.8" r="4.8" fill="url(#gH)"/>
<circle cx="467.0" cy="241.3" r="4.6" fill="url(#gH)"/>
</g>
<rect x="416.8" y="215.5" width="103.3" height="102.8" fill="none" stroke="#222" stroke-width="1.3" />
<text x="517.5" y="235.4" font-size="20.5" fill="#000" text-anchor="end">TS1</text>
<clipPath id="cp4"><rect x="524.6" y="215.5" width="103.19999999999993" height="102.80000000000001"/></clipPath><g clip-path="url(#cp4)">
<path d="M523.7,337.7Q518.2,327.8 509.6,320.6M604.9,232.1Q609.3,231.6 613.7,231.4M616.1,328.6Q622.0,319.0 623.8,307.8M522.1,239.0Q512.9,239.7 503.6,240.5M544.0,247.8Q543.1,256.3 544.1,264.9M544.0,247.8Q534.5,247.7 525.3,245.1M522.2,260.0Q524.1,261.3 525.4,263.1M576.9,197.1Q583.7,204.2 588.2,213.0M601.3,231.0Q594.4,236.3 586.2,238.9M586.2,238.9Q586.6,227.9 584.2,217.1M604.9,232.1Q603.1,231.5 601.3,231.0M586.2,238.9Q585.5,240.4 584.3,241.6M593.3,259.4Q587.0,251.5 584.0,241.9M584.0,241.9Q584.2,241.8 584.3,241.6M584.2,217.1Q579.8,218.8 575.4,220.4M617.5,223.6Q625.8,214.0 632.7,203.4M538.8,295.2Q538.8,295.3 538.9,295.3M538.9,295.3Q543.2,307.2 542.2,319.8M528.9,299.3Q525.6,306.6 519.4,311.7M537.8,284.7Q538.5,290.0 538.8,295.2M557.7,298.2Q548.4,296.2 538.9,295.3M557.7,298.2Q562.2,294.8 566.7,291.2M566.7,291.2Q566.8,287.0 565.4,283.1M516.2,287.4Q522.8,293.1 528.9,299.3M573.1,294.1Q577.2,299.0 580.3,304.6M581.3,304.6Q580.8,304.7 580.3,304.6M604.1,297.5Q603.1,294.3 600.8,291.9M586.7,264.5Q578.2,265.4 570.1,262.6M584.8,275.4Q575.9,276.8 567.3,279.6M525.1,224.4Q522.3,217.9 522.3,210.8M568.2,242.9Q558.2,240.8 548.1,242.1M569.0,242.1Q567.5,236.2 567.9,230.1M567.9,230.1Q561.6,226.6 556.6,221.4M556.6,221.4Q550.1,225.6 543.4,229.6M543.4,229.6Q545.2,236.1 548.1,242.1M584.0,241.9Q576.5,242.4 569.0,242.1M575.4,220.4Q572.6,226.0 567.9,230.1M556.8,216.0Q557.0,218.7 556.6,221.4M522.1,239.0Q523.9,241.9 525.3,245.1M557.7,298.2Q557.5,299.0 557.7,299.8M542.2,319.8Q544.3,321.6 546.1,323.6M577.8,310.7Q571.7,313.4 565.8,316.5M581.7,322.6Q571.7,325.7 561.3,326.9" stroke="#ff4848" stroke-width="1.15" fill="none" opacity="0.35"/>
<path d="M626.0,260.8Q629.6,261.1 633.2,261.4M626.0,260.8Q624.4,254.3 620.7,248.7M613.7,231.4Q618.6,239.2 620.8,248.1M617.7,224.7Q625.5,225.3 633.3,226.0M604.9,232.1Q603.2,238.3 601.2,244.4M601.2,244.4Q602.0,248.8 603.3,253.0M620.7,248.7Q611.8,249.5 603.6,253.0M603.6,253.0Q603.4,253.0 603.3,253.0M624.6,306.9Q624.3,307.4 623.8,307.8M599.9,316.4Q612.2,313.1 623.8,307.8M527.1,227.6Q526.5,225.8 525.1,224.4M537.8,284.7Q541.6,278.6 545.2,272.4M545.2,272.4Q545.1,268.7 543.9,265.1M600.1,207.8Q595.9,211.1 590.9,213.0M590.9,213.0Q589.5,213.3 588.2,213.0M601.3,231.0Q595.4,222.4 590.9,213.0M601.2,244.4Q592.7,243.6 584.3,241.6M593.3,259.4Q598.9,257.1 603.3,253.0M569.8,196.4Q567.2,203.4 565.6,210.7M565.6,210.7Q569.6,216.4 575.4,220.4M609.8,210.9Q616.7,203.2 624.5,196.4M617.7,224.7Q617.6,224.2 617.5,223.6M599.0,313.8Q600.3,305.2 604.1,297.5M624.6,306.9Q623.5,304.0 621.9,301.3M538.8,295.2Q534.2,298.2 528.9,299.3M542.2,319.8Q533.0,317.0 523.7,315.0M522.3,278.8Q518.4,282.5 516.2,287.4M527.3,333.2Q527.4,323.7 523.7,315.0M573.1,294.1Q581.1,288.9 589.7,284.5M589.0,329.2Q585.4,325.8 581.7,322.6M581.7,322.6Q580.7,316.3 577.8,310.7M577.8,310.7Q579.5,307.8 580.3,304.6M586.7,264.5Q586.2,270.0 584.8,275.4M566.7,291.2Q570.2,292.0 573.1,294.1M522.3,210.8Q516.8,207.8 510.9,205.9M567.4,258.6Q568.0,250.8 568.2,242.9M544.0,247.8Q546.6,245.3 548.1,242.1M593.0,260.8Q589.4,261.9 586.7,264.5M556.8,216.0Q561.1,213.2 565.6,210.7M606.9,276.8Q606.9,277.0 606.9,277.1M606.9,277.1Q616.5,282.2 625.1,288.9M624.7,263.0Q627.7,274.1 630.4,285.3M600.0,286.5Q604.5,282.6 606.9,277.1M626.0,260.8Q625.2,261.8 624.7,263.0M634.5,285.3Q632.5,285.0 630.4,285.3M557.7,299.8Q551.0,311.3 546.1,323.6M557.7,299.8Q560.2,308.9 565.8,316.5M539.7,227.5Q543.6,217.3 542.6,206.5M522.3,210.8Q527.1,207.9 531.8,204.7M522.2,260.0Q517.1,260.4 512.0,260.7" stroke="#ff4848" stroke-width="1.15" fill="none" opacity="0.6"/>
<path d="M642.0,235.6Q630.3,240.0 620.8,248.1M620.7,248.7Q620.7,248.4 620.8,248.1M613.7,231.4Q616.2,228.3 617.7,224.7M637.4,331.9Q631.5,320.8 629.4,308.4M629.4,308.4Q627.2,307.1 624.6,306.9M638.2,306.0Q633.7,306.7 629.4,308.4M599.6,324.9Q599.9,320.6 599.9,316.4M522.1,239.0Q525.8,233.8 527.1,227.6M525.1,224.4Q514.5,225.1 504.0,225.4M537.8,284.7Q529.9,282.2 522.3,278.8M522.3,278.8Q522.3,278.8 522.3,278.8M543.9,265.1Q534.5,265.5 525.4,263.1M522.3,278.8Q523.5,270.9 525.4,263.1M525.3,245.1Q522.1,252.2 522.2,260.0M543.9,265.1Q544.0,265.0 544.1,264.9M588.2,213.0Q586.2,215.1 584.2,217.1M609.8,210.9Q612.5,218.0 617.5,223.6M600.1,207.8Q605.1,208.9 609.8,210.9M599.0,313.8Q599.5,315.1 599.9,316.4M621.9,301.3Q613.1,299.0 604.1,297.5M519.4,311.7Q521.7,313.1 523.7,315.0M545.2,272.4Q554.2,279.8 565.4,283.1M581.3,304.6Q590.7,297.7 600.8,291.9M589.7,284.5Q595.0,284.9 600.0,286.5M600.8,291.9Q600.2,289.3 600.0,286.5M599.0,313.8Q590.7,308.1 581.3,304.6M570.1,262.6Q568.4,271.0 567.3,279.6M565.4,283.1Q566.4,281.4 567.3,279.6M589.7,284.5Q588.3,279.4 584.8,275.4M567.4,258.6Q556.2,263.5 544.1,264.9M567.4,258.6Q569.1,260.4 570.1,262.6M522.3,278.8Q514.4,275.9 507.2,271.4M568.2,242.9Q568.6,242.6 569.0,242.1M593.3,259.4Q593.3,260.1 593.0,260.8M539.7,227.5Q533.4,226.1 527.1,227.6M539.7,227.5Q541.5,228.7 543.4,229.6M606.9,276.8Q610.5,273.6 614.1,270.2M614.1,270.2Q619.0,266.1 624.7,263.0M630.4,285.3Q627.6,286.8 625.1,288.9M593.0,260.8Q599.1,269.5 606.9,276.8M603.6,253.0Q607.0,262.7 614.1,270.2M621.9,301.3Q624.0,295.3 625.1,288.9M565.8,316.5Q562.5,321.3 561.3,326.9M556.8,216.0Q552.8,209.4 546.5,204.9" stroke="#ff4848" stroke-width="1.15" fill="none" opacity="0.85"/>
<path d="M632.6,248.9Q668.2,263.1 706.5,264.1M669.9,271.9Q650.2,265.9 629.6,264.6M583.3,228.6Q586.2,226.1 589.5,224.3M565.1,222.6Q565.6,231.9 563.6,240.9M624.2,277.3Q623.9,281.0 624.3,284.6M613.3,284.8Q605.8,277.0 599.9,267.9M599.9,267.9Q602.2,263.8 605.7,260.5M607.2,255.3Q606.5,257.9 605.7,260.5M581.2,251.8Q583.7,260.4 582.0,269.2M587.1,273.6Q587.5,276.5 587.1,279.3M613.3,284.8Q610.1,286.4 607.2,288.5M625.4,311.4Q625.9,305.2 626.5,299.1M625.4,311.4Q623.6,313.7 621.4,315.6M528.7,292.1Q528.7,292.0 528.7,291.9M528.7,292.1Q536.9,301.1 544.8,310.4M518.9,195.8Q522.7,202.7 523.4,210.6M523.4,210.6Q515.2,211.4 507.0,211.7M541.3,203.2Q533.7,207.9 526.7,213.7M525.5,252.1Q532.7,249.7 540.3,248.8M525.5,252.1Q519.5,248.6 514.3,244.1M540.3,248.8Q541.0,243.1 543.5,237.9M557.3,213.3Q557.3,213.4 557.4,213.4M589.5,222.3Q585.8,216.0 583.2,209.2M589.5,222.3Q602.3,216.1 611.4,205.2M553.0,213.5Q555.1,213.8 557.3,213.3M543.5,237.9Q549.9,238.9 556.4,238.4M947.9,213.5Q789.7,181.8 628.6,188.9M637.7,211.2Q635.5,221.1 632.3,230.7M628.5,233.1Q623.2,233.1 618.2,231.1M618.2,231.1Q618.6,222.5 616.3,214.3M605.7,338.8Q605.2,329.9 605.2,321.1M605.2,321.1Q610.7,317.9 616.5,315.4M545.8,274.6Q547.3,268.3 548.9,262.1M563.2,293.2Q559.9,287.7 557.5,281.8M582.0,269.2Q578.0,268.7 574.2,269.5M584.2,287.6Q574.7,291.9 564.5,293.9M521.0,342.4Q522.5,329.7 521.4,317.0M528.7,292.1Q525.4,303.5 523.5,315.3M570.9,315.4Q566.4,305.0 564.5,293.9M528.7,291.9Q518.2,290.3 508.9,285.2M586.2,291.5Q579.9,304.4 575.7,318.3M575.7,318.3Q576.4,319.2 577.4,319.9M570.9,315.4Q573.1,317.1 575.7,318.3" stroke="#ffc658" stroke-width="1.15" fill="none" opacity="0.85"/>
<path d="M632.6,248.9Q630.1,253.1 627.4,257.0M574.4,244.0Q580.7,237.4 583.3,228.6M574.4,244.0Q578.3,247.4 581.2,251.8M683.5,330.7Q659.5,306.8 629.3,291.3M629.3,289.7Q629.3,290.5 629.3,291.3M565.1,222.6Q562.7,219.5 559.7,217.2M559.7,217.2Q559.0,227.9 556.4,238.4M574.4,244.0Q571.3,244.2 568.2,244.6M568.2,244.6Q566.1,242.6 563.6,240.9M583.3,228.6Q574.6,224.5 565.1,222.6M624.3,284.6Q618.8,284.0 613.3,284.8M629.6,264.6Q627.7,271.3 624.2,277.3M629.3,289.7Q627.2,286.8 624.3,284.6M604.4,247.6Q605.8,251.5 607.2,255.3M587.1,273.6Q593.0,269.8 599.9,267.9M623.9,335.4Q621.8,325.6 621.4,315.6M544.8,310.4Q548.2,306.4 549.4,301.4M549.4,301.4Q542.0,294.7 536.4,286.5M528.7,291.9Q532.6,289.2 536.4,286.5M541.3,203.2Q547.8,207.6 553.0,213.5M553.0,213.5Q547.9,223.0 540.2,230.7M509.6,227.4Q518.8,225.4 526.6,220.2M543.5,237.9Q542.5,234.0 540.2,230.7M583.2,209.2Q570.4,212.2 557.4,213.4M563.2,197.4Q562.0,206.0 557.3,213.3M637.7,211.2Q627.0,212.9 616.3,214.3M628.5,233.1Q630.6,232.2 632.3,230.7M611.4,205.2Q614.8,209.2 616.3,214.3M861.3,252.4Q746.7,242.7 632.3,230.7M632.6,248.9Q629.2,241.3 628.5,233.1M606.2,236.8Q612.4,234.3 618.2,231.1M607.2,288.5Q605.4,295.4 601.3,301.2M545.8,274.6Q552.1,277.4 557.5,281.8M557.5,281.8Q566.6,276.7 574.2,269.5M574.2,269.5Q566.7,263.8 559.8,257.5M559.8,257.5Q554.6,260.5 548.9,262.1M564.5,293.9Q563.9,293.5 563.2,293.2M540.3,248.8Q544.4,255.5 548.9,262.1M523.5,315.3Q523.0,315.5 522.6,315.6M508.9,285.2Q517.5,276.7 525.6,267.6M524.3,263.8Q512.7,264.3 501.3,262.6M543.8,275.6Q535.5,269.6 525.6,267.6M525.5,252.1Q524.2,257.9 524.3,263.8M586.2,291.5Q592.5,296.5 598.3,302.2M592.2,315.1Q586.5,318.8 580.3,321.5M605.2,321.1Q598.3,318.8 592.2,315.1M584.5,335.5Q581.7,328.7 580.3,321.5M561.7,335.2Q569.9,327.9 577.4,319.9" stroke="#ffc658" stroke-width="1.15" fill="none" opacity="0.35"/>
<path d="M627.4,257.0Q628.9,260.7 629.6,264.6M606.2,236.8Q596.6,232.1 589.5,224.3M606.2,236.8Q604.6,242.1 604.4,247.6M604.4,247.6Q593.0,250.6 581.2,251.8M669.9,271.9Q650.5,282.8 629.3,289.7M563.6,240.9Q559.8,240.3 556.4,238.4M624.2,277.3Q616.4,267.3 605.7,260.5M607.2,255.3Q617.3,255.3 627.4,257.0M582.0,269.2Q584.3,271.6 587.1,273.6M607.2,288.5Q597.0,284.4 587.1,279.3M680.7,330.7Q653.7,319.2 625.4,311.4M629.3,291.3Q627.1,294.9 626.5,299.1M526.7,213.7Q526.5,216.9 526.6,220.2M526.6,220.2Q531.3,224.0 534.9,228.8M540.2,230.7Q537.5,229.9 534.9,228.8M523.4,210.6Q524.7,212.6 526.7,213.7M514.3,244.1Q526.4,238.9 534.9,228.8M589.5,224.3Q589.6,223.3 589.5,222.3M559.7,217.2Q558.4,215.4 557.4,213.4M621.4,315.6Q618.9,315.4 616.5,315.4M626.5,299.1Q614.1,300.5 601.7,301.4M616.5,315.4Q609.2,308.3 601.7,301.4M601.3,301.2Q601.5,301.3 601.7,301.4M549.4,301.4Q555.3,295.7 563.2,293.2M536.4,286.5Q541.0,281.6 543.8,275.6M543.8,275.6Q544.7,274.9 545.8,274.6M587.1,279.3Q585.1,283.3 584.2,287.6M568.2,244.6Q565.0,251.7 559.8,257.5M521.4,317.0Q522.1,316.4 522.6,315.6M545.4,328.3Q545.9,324.5 545.5,320.6M523.5,315.3Q534.1,315.6 544.2,319.0M544.2,319.0Q544.9,319.7 545.5,320.6M500.7,320.8Q510.8,317.4 521.4,317.0M503.5,293.7Q514.4,303.5 522.6,315.6M544.8,310.4Q545.4,314.7 544.2,319.0M570.9,315.4Q557.7,315.4 545.5,320.6M524.3,263.8Q524.9,265.8 525.6,267.6M598.3,302.2Q594.2,308.2 592.2,315.1M580.3,321.5Q578.8,320.7 577.4,319.9M584.2,287.6Q585.5,289.4 586.2,291.5M601.3,301.2Q599.9,302.0 598.3,302.2" stroke="#ffc658" stroke-width="1.15" fill="none" opacity="0.6"/>
<path d="M555.1,301.0L554.3,305.8" stroke="#8a0000" stroke-width="2.7" fill="none"/>
<path d="M555.1,301.0L554.3,305.8" stroke="#e80000" stroke-width="2.0" fill="none"/>
<path d="M554.7,300.9L553.9,305.7" stroke="#ff5050" stroke-width="0.5" fill="none" opacity="0.7"/>
<path d="M554.3,305.8L553.5,310.6" stroke="#9a3aa0" stroke-width="2.7" fill="none"/>
<path d="M554.3,305.8L553.5,310.6" stroke="#e060e6" stroke-width="2.0" fill="none"/>
<path d="M553.9,305.7L553.1,310.5" stroke="#ffa0ff" stroke-width="0.5" fill="none" opacity="0.7"/>
<path d="M563.1,297.9L558.3,304.2" stroke="#8a0000" stroke-width="2.7" fill="none"/>
<path d="M563.1,297.9L558.3,304.2" stroke="#e80000" stroke-width="2.0" fill="none"/>
<path d="M562.8,297.6L558.0,304.0" stroke="#ff5050" stroke-width="0.5" fill="none" opacity="0.7"/>
<path d="M558.3,304.2L553.5,310.6" stroke="#9a3aa0" stroke-width="2.7" fill="none"/>
<path d="M558.3,304.2L553.5,310.6" stroke="#e060e6" stroke-width="2.0" fill="none"/>
<path d="M558.0,304.0L553.2,310.3" stroke="#ffa0ff" stroke-width="0.5" fill="none" opacity="0.7"/>
<circle cx="553.5" cy="310.6" r="3.6" fill="url(#gAl)"/>
<path d="M603.5,309.8L608.2,308.2" stroke="#8a0000" stroke-width="2.7" fill="none"/>
<path d="M603.5,309.8L608.2,308.2" stroke="#e80000" stroke-width="2.0" fill="none"/>
<path d="M603.4,309.4L608.1,307.8" stroke="#ff5050" stroke-width="0.5" fill="none" opacity="0.7"/>
<path d="M608.2,308.2L612.9,306.6" stroke="#9a3aa0" stroke-width="2.7" fill="none"/>
<path d="M608.2,308.2L612.9,306.6" stroke="#e060e6" stroke-width="2.0" fill="none"/>
<path d="M608.1,307.8L612.8,306.2" stroke="#ffa0ff" stroke-width="0.5" fill="none" opacity="0.7"/>
<path d="M609.2,288.3L611.0,297.5" stroke="#8a0000" stroke-width="2.7" fill="none"/>
<path d="M609.2,288.3L611.0,297.5" stroke="#e80000" stroke-width="2.0" fill="none"/>
<path d="M609.6,288.2L611.5,297.4" stroke="#ff5050" stroke-width="0.5" fill="none" opacity="0.7"/>
<path d="M611.0,297.5L612.9,306.6" stroke="#9a3aa0" stroke-width="2.7" fill="none"/>
<path d="M611.0,297.5L612.9,306.6" stroke="#e060e6" stroke-width="2.0" fill="none"/>
<path d="M611.5,297.4L613.3,306.5" stroke="#ffa0ff" stroke-width="0.5" fill="none" opacity="0.7"/>
<circle cx="612.9" cy="306.6" r="3.6" fill="url(#gAl)"/>
<path d="M569.4,287.5L562.2,294.2" stroke="#45457a" stroke-width="2.7" fill="none"/>
<path d="M569.4,287.5L562.2,294.2" stroke="#7676b2" stroke-width="2.0" fill="none"/>
<path d="M569.1,287.2L562.0,293.9" stroke="#a4a4d8" stroke-width="0.5" fill="none" opacity="0.7"/>
<path d="M562.2,294.2L555.1,301.0" stroke="#8a0000" stroke-width="2.7" fill="none"/>
<path d="M562.2,294.2L555.1,301.0" stroke="#e80000" stroke-width="2.0" fill="none"/>
<path d="M562.0,293.9L554.8,300.7" stroke="#ff5050" stroke-width="0.5" fill="none" opacity="0.7"/>
<path d="M569.4,287.5L566.2,292.7" stroke="#45457a" stroke-width="2.7" fill="none"/>
<path d="M569.4,287.5L566.2,292.7" stroke="#7676b2" stroke-width="2.0" fill="none"/>
<path d="M569.0,287.3L565.9,292.5" stroke="#a4a4d8" stroke-width="0.5" fill="none" opacity="0.7"/>
<path d="M566.2,292.7L563.1,297.9" stroke="#8a0000" stroke-width="2.7" fill="none"/>
<path d="M566.2,292.7L563.1,297.9" stroke="#e80000" stroke-width="2.0" fill="none"/>
<path d="M565.9,292.5L562.7,297.7" stroke="#ff5050" stroke-width="0.5" fill="none" opacity="0.7"/>
<circle cx="555.1" cy="301.0" r="4.6" fill="url(#gO)"/>
<circle cx="563.1" cy="297.9" r="4.2" fill="url(#gO)"/>
<path d="M596.5,289.9L600.0,299.9" stroke="#3aa6aa" stroke-width="2.7" fill="none"/>
<path d="M596.5,289.9L600.0,299.9" stroke="#78e4ea" stroke-width="2.0" fill="none"/>
<path d="M596.9,289.8L600.4,299.7" stroke="#c0fafa" stroke-width="0.5" fill="none" opacity="0.7"/>
<path d="M600.0,299.9L603.5,309.8" stroke="#8a0000" stroke-width="2.7" fill="none"/>
<path d="M600.0,299.9L603.5,309.8" stroke="#e80000" stroke-width="2.0" fill="none"/>
<path d="M600.4,299.7L603.9,309.7" stroke="#ff5050" stroke-width="0.5" fill="none" opacity="0.7"/>
<circle cx="603.5" cy="309.8" r="4.6" fill="url(#gO)"/>
<path d="M596.5,289.9L602.9,289.1" stroke="#3aa6aa" stroke-width="2.7" fill="none"/>
<path d="M596.5,289.9L602.9,289.1" stroke="#78e4ea" stroke-width="2.0" fill="none"/>
<path d="M596.4,289.5L602.8,288.7" stroke="#c0fafa" stroke-width="0.5" fill="none" opacity="0.7"/>
<path d="M602.9,289.1L609.2,288.3" stroke="#8a0000" stroke-width="2.7" fill="none"/>
<path d="M602.9,289.1L609.2,288.3" stroke="#e80000" stroke-width="2.0" fill="none"/>
<path d="M602.8,288.7L609.1,287.9" stroke="#ff5050" stroke-width="0.5" fill="none" opacity="0.7"/>
<circle cx="609.2" cy="288.3" r="4.2" fill="url(#gO)"/>
<path d="M583.0,283.5L589.8,286.7" stroke="#8a0000" stroke-width="2.7" fill="none"/>
<path d="M583.0,283.5L589.8,286.7" stroke="#e80000" stroke-width="2.0" fill="none"/>
<path d="M583.2,283.1L589.9,286.3" stroke="#ff5050" stroke-width="0.5" fill="none" opacity="0.7"/>
<path d="M589.8,286.7L596.5,289.9" stroke="#3aa6aa" stroke-width="2.7" fill="none"/>
<path d="M589.8,286.7L596.5,289.9" stroke="#78e4ea" stroke-width="2.0" fill="none"/>
<path d="M589.9,286.3L596.7,289.5" stroke="#c0fafa" stroke-width="0.5" fill="none" opacity="0.7"/>
<path d="M569.4,287.5L576.2,285.5" stroke="#45457a" stroke-width="2.7" fill="none"/>
<path d="M569.4,287.5L576.2,285.5" stroke="#7676b2" stroke-width="2.0" fill="none"/>
<path d="M569.3,287.1L576.1,285.1" stroke="#a4a4d8" stroke-width="0.5" fill="none" opacity="0.7"/>
<path d="M576.2,285.5L583.0,283.5" stroke="#8a0000" stroke-width="2.7" fill="none"/>
<path d="M576.2,285.5L583.0,283.5" stroke="#e80000" stroke-width="2.0" fill="none"/>
<path d="M576.1,285.1L582.9,283.1" stroke="#ff5050" stroke-width="0.5" fill="none" opacity="0.7"/>
<circle cx="583.0" cy="283.5" r="4.2" fill="url(#gO)"/>
<path d="M579.8,289.9L588.1,289.9" stroke="#8a0000" stroke-width="2.7" fill="none"/>
<path d="M579.8,289.9L588.1,289.9" stroke="#e80000" stroke-width="2.0" fill="none"/>
<path d="M579.8,289.5L588.1,289.5" stroke="#ff5050" stroke-width="0.5" fill="none" opacity="0.7"/>
<path d="M588.1,289.9L596.5,289.9" stroke="#3aa6aa" stroke-width="2.7" fill="none"/>
<path d="M588.1,289.9L596.5,289.9" stroke="#78e4ea" stroke-width="2.0" fill="none"/>
<path d="M588.1,289.5L596.5,289.5" stroke="#c0fafa" stroke-width="0.5" fill="none" opacity="0.7"/>
<path d="M569.4,287.5L574.6,288.7" stroke="#45457a" stroke-width="2.7" fill="none"/>
<path d="M569.4,287.5L574.6,288.7" stroke="#7676b2" stroke-width="2.0" fill="none"/>
<path d="M569.5,287.1L574.7,288.3" stroke="#a4a4d8" stroke-width="0.5" fill="none" opacity="0.7"/>
<path d="M574.6,288.7L579.8,289.9" stroke="#8a0000" stroke-width="2.7" fill="none"/>
<path d="M574.6,288.7L579.8,289.9" stroke="#e80000" stroke-width="2.0" fill="none"/>
<path d="M574.7,288.3L579.9,289.5" stroke="#ff5050" stroke-width="0.5" fill="none" opacity="0.7"/>
<circle cx="596.5" cy="289.9" r="4.2" fill="url(#gZn)"/>
<circle cx="579.8" cy="289.9" r="4.6" fill="url(#gO)"/>
<path d="M558.3,274.8L563.8,281.1" stroke="#8a0000" stroke-width="2.7" fill="none"/>
<path d="M558.3,274.8L563.8,281.1" stroke="#e80000" stroke-width="2.0" fill="none"/>
<path d="M558.6,274.5L564.2,280.9" stroke="#ff5050" stroke-width="0.5" fill="none" opacity="0.7"/>
<path d="M563.8,281.1L569.4,287.5" stroke="#45457a" stroke-width="2.7" fill="none"/>
<path d="M563.8,281.1L569.4,287.5" stroke="#7676b2" stroke-width="2.0" fill="none"/>
<path d="M564.2,280.9L569.7,287.2" stroke="#a4a4d8" stroke-width="0.5" fill="none" opacity="0.7"/>
<circle cx="569.4" cy="287.5" r="4.6" fill="url(#gFe)"/>
<path d="M562.2,265.2L560.2,270.0" stroke="#8a8a8a" stroke-width="2.7" fill="none"/>
<path d="M562.2,265.2L560.2,270.0" stroke="#d8d8d8" stroke-width="2.0" fill="none"/>
<path d="M561.8,265.0L559.8,269.8" stroke="#ffffff" stroke-width="0.5" fill="none" opacity="0.7"/>
<path d="M560.2,270.0L558.3,274.8" stroke="#8a0000" stroke-width="2.7" fill="none"/>
<path d="M560.2,270.0L558.3,274.8" stroke="#e80000" stroke-width="2.0" fill="none"/>
<path d="M559.8,269.8L557.9,274.6" stroke="#ff5050" stroke-width="0.5" fill="none" opacity="0.7"/>
<circle cx="558.3" cy="274.8" r="4.5" fill="url(#gO)"/>
<circle cx="562.2" cy="265.2" r="4.0" fill="url(#gH)"/>
<path d="M541.5,224.6L544.3,225.4" stroke="#3a3a3a" stroke-width="2.7" fill="none"/>
<path d="M541.5,224.6L544.3,225.4" stroke="#6e6e6e" stroke-width="2.0" fill="none"/>
<path d="M541.6,224.2L544.4,225.0" stroke="#a8a8a8" stroke-width="0.5" fill="none" opacity="0.7"/>
<path d="M544.3,225.4L547.1,226.2" stroke="#8a8a8a" stroke-width="2.7" fill="none"/>
<path d="M544.3,225.4L547.1,226.2" stroke="#d8d8d8" stroke-width="2.0" fill="none"/>
<path d="M544.4,225.0L547.2,225.8" stroke="#ffffff" stroke-width="0.5" fill="none" opacity="0.7"/>
<path d="M541.5,224.6L543.9,227.3" stroke="#3a3a3a" stroke-width="2.7" fill="none"/>
<path d="M541.5,224.6L543.9,227.3" stroke="#6e6e6e" stroke-width="2.0" fill="none"/>
<path d="M541.8,224.3L544.2,227.1" stroke="#a8a8a8" stroke-width="0.5" fill="none" opacity="0.7"/>
<path d="M543.9,227.3L546.3,230.1" stroke="#8a8a8a" stroke-width="2.7" fill="none"/>
<path d="M543.9,227.3L546.3,230.1" stroke="#d8d8d8" stroke-width="2.0" fill="none"/>
<path d="M544.2,227.1L546.6,229.8" stroke="#ffffff" stroke-width="0.5" fill="none" opacity="0.7"/>
<path d="M532.8,220.6L537.1,222.6" stroke="#8a8a8a" stroke-width="2.7" fill="none"/>
<path d="M532.8,220.6L537.1,222.6" stroke="#d8d8d8" stroke-width="2.0" fill="none"/>
<path d="M533.0,220.2L537.3,222.2" stroke="#ffffff" stroke-width="0.5" fill="none" opacity="0.7"/>
<path d="M537.1,222.6L541.5,224.6" stroke="#3a3a3a" stroke-width="2.7" fill="none"/>
<path d="M537.1,222.6L541.5,224.6" stroke="#6e6e6e" stroke-width="2.0" fill="none"/>
<path d="M537.3,222.2L541.7,224.2" stroke="#a8a8a8" stroke-width="0.5" fill="none" opacity="0.7"/>
<circle cx="532.8" cy="220.6" r="4.0" fill="url(#gH)"/>
<circle cx="541.5" cy="224.6" r="3.6" fill="url(#gC)"/>
<circle cx="547.1" cy="226.2" r="4.0" fill="url(#gH)"/>
<circle cx="546.3" cy="230.1" r="4.0" fill="url(#gH)"/>
</g>
<rect x="524.6" y="215.5" width="103.2" height="102.8" fill="none" stroke="#222" stroke-width="1.3" />
<text x="624" y="234.4" font-size="21" fill="#000" text-anchor="end">IM2</text>
<clipPath id="cp5"><rect x="417" y="323.7" width="102.79999999999995" height="102.10000000000002"/></clipPath><g clip-path="url(#cp5)">
<path d="M410.8,351.0Q412.5,344.9 415.9,339.7M398.0,334.7Q407.2,336.5 415.9,339.7M410.8,351.0Q418.8,355.6 425.5,362.0M416.6,376.1Q417.0,377.1 417.1,378.1M416.4,315.4Q418.3,317.1 419.7,319.3M427.3,318.8Q435.2,310.4 445.4,305.0M415.9,339.7Q418.3,337.5 420.6,335.3M434.1,359.7Q429.9,361.4 425.5,362.0M434.1,359.7Q436.9,371.1 437.1,382.8M437.1,382.8Q437.0,382.8 436.9,382.9M441.5,324.0Q447.5,320.3 452.9,315.9M439.7,346.1Q440.5,349.7 441.2,353.3M454.3,379.1Q454.2,368.6 451.1,358.5M459.4,327.3Q455.9,330.9 453.8,335.4M477.4,365.0Q475.9,363.9 475.0,362.2M475.0,362.2Q468.0,359.7 462.0,355.3M480.2,338.7Q476.5,350.2 475.0,362.2M433.3,403.3Q424.9,406.5 418.3,412.7M392.2,424.9Q405.0,422.1 418.0,422.0M418.0,422.0Q417.2,417.9 417.9,413.8M435.0,396.5Q446.1,397.7 457.2,397.4M459.0,395.3Q458.1,396.3 457.2,397.4M519.1,362.7Q516.9,352.1 513.4,341.9M513.4,341.9Q509.8,341.5 506.6,339.8M495.5,375.6Q488.0,378.8 480.0,380.1M521.5,334.4Q517.7,338.4 513.4,341.9M525.2,433.1Q523.5,428.3 521.2,423.7M501.6,409.0Q501.8,408.7 502.1,408.4M484.9,391.6Q492.4,388.9 500.0,386.7M500.0,386.7Q501.5,388.6 502.9,390.7M516.3,400.8Q510.0,406.1 502.1,408.4M521.2,423.7Q515.7,421.2 509.6,420.6M509.6,420.6Q504.7,415.4 501.6,409.0M519.2,387.0Q511.1,389.1 502.9,390.7M481.7,406.3Q469.2,403.3 459.0,395.3M433.3,403.3Q437.0,410.0 442.1,415.7M423.6,428.6Q430.2,425.7 437.3,425.8M467.7,418.6Q465.5,419.4 463.2,419.9M501.5,438.0Q495.3,432.1 488.4,426.9" stroke="#ff4848" stroke-width="1.15" fill="none" opacity="0.85"/>
<path d="M404.4,368.1Q409.7,373.4 416.6,376.1M411.3,391.6Q415.1,385.2 417.1,378.1M520.2,374.6Q520.0,375.2 519.7,375.8M520.2,374.6Q566.0,402.3 619.5,406.3M519.7,375.8Q519.6,380.5 520.1,385.2M520.1,385.2Q538.9,392.5 554.6,404.9M559.0,351.4Q539.3,356.3 520.4,364.0M520.4,364.0Q519.8,369.3 520.2,374.6M420.6,335.3Q421.8,327.2 419.7,319.3M411.3,391.6Q422.8,393.7 433.3,398.9M433.3,398.9Q434.2,397.8 435.0,396.5M435.0,396.5Q437.3,389.9 436.9,382.9M559.0,351.4Q539.9,343.7 521.5,334.4M1050.7,228.5Q782.8,251.9 523.8,324.3M521.5,334.4Q522.0,329.2 523.8,324.3M478.0,329.6Q468.5,329.7 459.4,327.3M453.8,335.4Q459.5,340.6 465.3,345.5M451.1,358.5Q456.3,355.9 462.0,355.3M462.0,355.3Q464.4,350.7 465.3,345.5M434.1,359.7Q437.2,356.0 441.2,353.3M477.9,335.0Q477.5,332.3 478.0,329.6M476.6,377.4Q467.6,378.6 459.7,383.0M476.6,377.4Q477.9,371.2 477.4,365.0M454.3,379.1Q456.6,381.7 459.7,383.0M531.6,410.1Q524.5,404.4 516.3,400.8M519.2,387.0Q519.2,394.2 516.3,400.8M418.4,443.6Q421.0,436.1 423.6,428.6M492.4,348.3Q500.4,345.6 506.6,339.8M480.2,338.7Q485.4,344.7 492.4,348.3M495.5,375.6Q496.7,369.1 499.2,363.0M483.5,321.1Q489.9,320.7 496.1,322.5M496.1,322.5Q500.7,331.6 506.6,339.8M495.5,375.6Q498.8,377.9 501.8,380.5M520.4,364.0Q519.7,363.4 519.1,362.7M523.8,324.3Q520.3,320.8 518.5,316.2M496.1,322.5Q500.5,319.0 505.2,315.7M502.1,408.4Q501.8,399.5 502.9,390.7M491.0,409.3Q488.1,407.3 485.0,405.6M485.0,405.6Q486.4,398.6 484.9,391.6M501.8,380.5Q501.0,383.6 500.0,386.7M442.1,415.7Q439.8,420.8 437.3,425.8M457.2,397.4Q455.1,405.1 453.7,413.0M481.7,406.3Q474.8,412.6 467.7,418.6M463.2,419.9Q463.0,425.7 460.9,431.1M488.4,426.9Q484.2,428.8 480.9,431.9M509.6,420.6Q507.0,430.0 501.5,438.0" stroke="#ff4848" stroke-width="1.15" fill="none" opacity="0.6"/>
<path d="M416.6,376.1Q422.2,369.8 425.5,362.0M427.3,318.8Q423.5,318.3 419.7,319.3M417.1,378.1Q427.6,378.1 436.9,382.9M427.3,318.8Q435.0,319.9 441.5,324.0M478.2,306.4Q481.4,313.6 483.5,321.1M483.5,321.1Q480.8,325.4 478.0,329.6M452.9,315.9Q455.1,322.1 459.4,327.3M439.7,346.1Q442.0,343.1 443.9,339.8M441.2,353.3Q446.4,355.5 451.1,358.5M453.8,335.4Q448.5,336.9 443.9,339.8M420.6,335.3Q431.2,338.8 439.7,346.1M441.5,324.0Q441.4,332.1 443.9,339.8M454.3,379.1Q445.6,380.7 437.1,382.8M477.9,335.0Q471.4,340.0 465.3,345.5M477.9,335.0Q478.7,337.1 480.2,338.7M520.1,385.2Q519.6,386.1 519.2,387.0M408.6,393.5Q413.9,402.8 418.3,412.7M433.3,398.9Q433.3,401.1 433.3,403.3M423.6,428.6Q421.5,424.7 418.0,422.0M393.9,409.2Q406.5,408.6 417.9,413.8M418.3,412.7Q418.2,413.3 417.9,413.8M459.7,383.0Q458.0,389.1 459.0,395.3M491.8,357.9Q491.4,353.0 492.4,348.3M491.8,357.9Q495.6,360.2 499.2,363.0M499.2,363.0Q509.1,363.0 519.1,362.7M477.4,365.0Q485.3,362.9 491.8,357.9M480.0,380.1Q478.3,378.7 476.6,377.4M501.8,380.5Q511.0,379.2 519.7,375.8M531.6,410.1Q527.5,417.7 521.2,423.7M501.6,409.0Q496.3,410.1 491.0,409.3M480.0,380.1Q482.4,385.9 484.9,391.6M481.7,406.3Q483.4,406.2 485.0,405.6M442.1,415.7Q447.9,414.5 453.7,413.0M437.3,425.8Q440.9,431.4 445.3,436.3M453.7,413.0Q458.6,416.2 463.2,419.9M467.7,418.6Q474.8,424.8 480.9,431.9M491.0,409.3Q491.3,418.3 488.4,426.9" stroke="#ff4848" stroke-width="1.15" fill="none" opacity="0.35"/>
<path d="M527.7,437.8Q525.4,431.1 522.7,424.5M529.7,413.9Q527.3,419.9 522.7,424.5M508.6,416.7Q505.4,427.4 503.5,438.5M511.1,415.6Q517.3,419.5 522.7,424.5M487.0,416.3Q487.8,421.9 486.9,427.6M515.7,395.3Q518.0,395.7 520.2,395.6M520.2,395.6Q530.8,385.8 539.9,374.5M510.2,390.7Q510.5,382.6 509.1,374.6M510.2,390.7Q512.6,393.4 515.7,395.3M510.9,371.7Q510.2,373.3 509.1,374.6M483.5,399.3Q481.9,400.7 480.6,402.4M482.8,409.7Q482.1,405.9 480.6,402.4M484.6,377.3Q471.9,375.5 459.4,373.4M484.3,359.4Q473.6,361.5 462.7,360.9M459.4,373.4Q462.1,367.4 462.7,360.9M455.8,378.9Q447.7,382.1 439.2,384.2M434.5,380.7Q442.5,368.3 444.9,353.7M457.3,350.4Q458.0,350.9 458.5,351.6M482.6,328.7Q486.5,323.1 491.8,318.8M503.1,321.1Q513.8,325.0 524.8,327.2M503.1,321.1Q503.5,329.2 505.0,337.2M505.0,337.2Q494.8,336.7 484.9,338.9M390.5,378.8Q404.8,382.8 419.5,381.1M426.6,377.0Q430.8,378.3 434.5,380.7M426.6,377.0Q422.7,378.5 419.5,381.1M416.3,406.7Q413.7,401.2 409.9,396.5M416.3,406.7Q427.0,395.6 439.2,386.0M397.6,355.3Q406.1,355.7 414.5,357.5M463.5,322.8Q453.7,318.3 443.0,318.5M441.9,400.9Q451.8,403.9 461.3,408.2M509.4,343.1Q506.4,347.5 503.7,352.1M489.0,351.0Q496.4,350.5 503.7,352.1M443.0,318.5Q440.4,320.9 438.0,323.7M438.3,352.1Q433.8,346.1 430.5,339.5M437.9,411.2Q438.4,416.1 440.2,420.7M440.2,420.7Q438.5,428.8 438.1,437.1M416.3,406.7Q416.7,409.3 417.0,412.0M486.9,427.6Q473.2,433.8 460.3,441.7" stroke="#ffc658" stroke-width="1.15" fill="none" opacity="0.6"/>
<path d="M508.6,416.7Q509.9,416.4 511.1,415.6M511.1,415.6Q511.0,404.9 515.7,395.3M510.2,390.7Q497.8,397.9 483.5,399.3M484.6,377.3Q484.7,388.3 483.5,399.3M484.6,377.3Q487.4,374.5 488.8,370.9M455.8,378.9Q469.0,388.3 478.1,401.8M480.6,402.4Q479.4,401.9 478.1,401.8M484.3,359.4Q486.8,355.3 489.0,351.0M462.7,360.9Q460.5,356.3 458.5,351.6M483.8,337.2Q484.3,338.1 484.9,338.9M488.8,370.9Q487.6,364.7 484.3,359.4M434.5,380.7Q437.1,382.2 439.2,384.2M463.8,323.3Q473.5,324.8 482.6,328.7M482.6,328.7Q483.5,332.9 483.8,337.2M476.0,296.7Q483.2,308.2 491.8,318.8M498.6,317.2Q495.2,318.2 491.8,318.8M463.5,322.8Q462.4,309.7 463.8,296.7M503.1,321.1Q500.6,319.4 498.6,317.2M419.5,381.1Q412.9,387.7 409.9,396.5M439.2,384.2Q439.1,385.1 439.2,386.0M444.9,353.7Q441.6,352.9 438.3,352.1M420.4,346.8Q417.4,352.1 414.5,357.5M478.1,401.8Q469.7,405.0 461.3,408.2M509.4,343.1Q519.1,342.7 527.5,338.1M531.3,349.8Q520.6,356.2 511.6,364.9M511.6,364.9Q506.2,359.4 503.7,352.1M505.0,337.2Q507.1,340.1 509.4,343.1M510.9,371.7Q511.4,368.3 511.6,364.9M415.7,328.0Q421.0,323.4 424.6,317.4M415.7,328.0Q419.6,334.6 424.6,340.3M424.6,317.4Q431.5,320.0 438.0,323.7M424.6,340.3Q427.5,339.7 430.5,339.5M430.5,339.5Q433.8,336.0 438.0,333.9M438.0,333.9Q437.6,328.8 438.0,323.7M403.7,326.3Q409.6,328.2 415.7,328.0M461.3,408.2Q460.3,412.9 458.1,417.2M462.3,427.8Q461.4,422.0 458.1,417.2M417.0,412.0Q414.1,415.0 412.6,418.8M417.0,412.0Q427.4,410.7 437.9,411.2M412.6,418.8Q422.4,426.6 430.0,436.4M399.5,422.3Q406.4,422.1 412.6,418.8M441.9,400.9Q439.8,406.0 437.9,411.2M458.1,417.2Q449.6,421.0 440.2,420.7M462.3,427.8Q460.5,434.6 460.2,441.6" stroke="#ffc658" stroke-width="1.15" fill="none" opacity="0.35"/>
<path d="M508.6,416.7Q497.8,416.3 487.0,416.3M492.6,436.0Q488.8,432.5 486.9,427.6M533.1,403.0Q525.8,400.8 520.2,395.6M488.8,370.9Q499.1,371.6 509.1,374.6M539.1,372.9Q525.0,372.0 510.9,371.7M487.0,416.3Q485.4,412.7 482.8,409.7M459.4,373.4Q457.8,376.3 455.8,378.9M458.5,351.6Q470.3,342.9 483.8,337.2M489.0,351.0Q487.1,344.8 484.9,338.9M444.9,353.7Q451.3,352.9 457.3,350.4M463.8,323.3Q458.9,331.4 454.5,339.8M457.3,350.4Q456.9,344.8 454.5,339.8M463.5,322.8Q463.6,323.1 463.8,323.3M426.6,377.0Q424.5,372.5 422.8,367.8M438.3,352.1Q430.3,359.7 422.8,367.8M422.8,367.8Q417.6,363.5 414.5,357.5M420.4,346.8Q410.5,339.0 399.7,332.6M439.2,386.0Q442.1,393.2 441.9,400.9M420.4,346.8Q422.9,343.8 424.6,340.3M454.5,339.8Q446.1,337.3 438.0,333.9M482.8,409.7Q474.4,420.9 462.3,427.8" stroke="#ffc658" stroke-width="1.15" fill="none" opacity="0.85"/>
<path d="M431.1,399.5L429.6,409.1" stroke="#8a0000" stroke-width="3.6" fill="none"/>
<path d="M431.1,399.5L429.6,409.1" stroke="#e80000" stroke-width="2.7" fill="none"/>
<path d="M430.5,399.4L429.0,409.0" stroke="#ff5050" stroke-width="0.6" fill="none" opacity="0.7"/>
<path d="M429.6,409.1L428.0,418.6" stroke="#9a3aa0" stroke-width="3.6" fill="none"/>
<path d="M429.6,409.1L428.0,418.6" stroke="#e060e6" stroke-width="2.7" fill="none"/>
<path d="M429.0,409.0L427.4,418.5" stroke="#ffa0ff" stroke-width="0.6" fill="none" opacity="0.7"/>
<path d="M441.5,405.1L434.8,411.9" stroke="#8a0000" stroke-width="3.6" fill="none"/>
<path d="M441.5,405.1L434.8,411.9" stroke="#e80000" stroke-width="2.7" fill="none"/>
<path d="M441.1,404.7L434.3,411.4" stroke="#ff5050" stroke-width="0.6" fill="none" opacity="0.7"/>
<path d="M434.8,411.9L428.0,418.6" stroke="#9a3aa0" stroke-width="3.6" fill="none"/>
<path d="M434.8,411.9L428.0,418.6" stroke="#e060e6" stroke-width="2.7" fill="none"/>
<path d="M434.3,411.4L427.6,418.2" stroke="#ffa0ff" stroke-width="0.6" fill="none" opacity="0.7"/>
<circle cx="428.0" cy="418.6" r="5.0" fill="url(#gAl)"/>
<path d="M497.3,415.4L502.9,417.0" stroke="#8a0000" stroke-width="3.6" fill="none"/>
<path d="M497.3,415.4L502.9,417.0" stroke="#e80000" stroke-width="2.7" fill="none"/>
<path d="M497.5,414.8L503.0,416.4" stroke="#ff5050" stroke-width="0.6" fill="none" opacity="0.7"/>
<path d="M502.9,417.0L508.4,418.6" stroke="#9a3aa0" stroke-width="3.6" fill="none"/>
<path d="M502.9,417.0L508.4,418.6" stroke="#e060e6" stroke-width="2.7" fill="none"/>
<path d="M503.0,416.4L508.6,418.0" stroke="#ffa0ff" stroke-width="0.6" fill="none" opacity="0.7"/>
<path d="M506.0,392.3L507.2,405.5" stroke="#8a0000" stroke-width="3.6" fill="none"/>
<path d="M506.0,392.3L507.2,405.5" stroke="#e80000" stroke-width="2.7" fill="none"/>
<path d="M506.6,392.2L507.8,405.4" stroke="#ff5050" stroke-width="0.6" fill="none" opacity="0.7"/>
<path d="M507.2,405.5L508.4,418.6" stroke="#9a3aa0" stroke-width="3.6" fill="none"/>
<path d="M507.2,405.5L508.4,418.6" stroke="#e060e6" stroke-width="2.7" fill="none"/>
<path d="M507.8,405.4L509.0,418.5" stroke="#ffa0ff" stroke-width="0.6" fill="none" opacity="0.7"/>
<circle cx="508.4" cy="418.6" r="4.6" fill="url(#gAl)"/>
<path d="M445.5,382.0L438.3,390.8" stroke="#45457a" stroke-width="3.6" fill="none"/>
<path d="M445.5,382.0L438.3,390.8" stroke="#7676b2" stroke-width="2.7" fill="none"/>
<path d="M445.1,381.6L437.9,390.4" stroke="#a4a4d8" stroke-width="0.6" fill="none" opacity="0.7"/>
<path d="M438.3,390.8L431.1,399.5" stroke="#8a0000" stroke-width="3.6" fill="none"/>
<path d="M438.3,390.8L431.1,399.5" stroke="#e80000" stroke-width="2.7" fill="none"/>
<path d="M437.9,390.4L430.7,399.1" stroke="#ff5050" stroke-width="0.6" fill="none" opacity="0.7"/>
<path d="M445.5,382.0L443.5,393.6" stroke="#45457a" stroke-width="3.6" fill="none"/>
<path d="M445.5,382.0L443.5,393.6" stroke="#7676b2" stroke-width="2.7" fill="none"/>
<path d="M444.9,381.9L442.9,393.5" stroke="#a4a4d8" stroke-width="0.6" fill="none" opacity="0.7"/>
<path d="M443.5,393.6L441.5,405.1" stroke="#8a0000" stroke-width="3.6" fill="none"/>
<path d="M443.5,393.6L441.5,405.1" stroke="#e80000" stroke-width="2.7" fill="none"/>
<path d="M442.9,393.5L440.9,405.0" stroke="#ff5050" stroke-width="0.6" fill="none" opacity="0.7"/>
<circle cx="431.1" cy="399.5" r="5.2" fill="url(#gO)"/>
<circle cx="441.5" cy="405.1" r="5.0" fill="url(#gO)"/>
<path d="M486.9,390.7L492.1,403.0" stroke="#3aa6aa" stroke-width="3.6" fill="none"/>
<path d="M486.9,390.7L492.1,403.0" stroke="#78e4ea" stroke-width="2.7" fill="none"/>
<path d="M487.4,390.5L492.6,402.8" stroke="#c0fafa" stroke-width="0.6" fill="none" opacity="0.7"/>
<path d="M492.1,403.0L497.3,415.4" stroke="#8a0000" stroke-width="3.6" fill="none"/>
<path d="M492.1,403.0L497.3,415.4" stroke="#e80000" stroke-width="2.7" fill="none"/>
<path d="M492.6,402.8L497.8,415.2" stroke="#ff5050" stroke-width="0.6" fill="none" opacity="0.7"/>
<circle cx="497.3" cy="415.4" r="5.2" fill="url(#gO)"/>
<path d="M486.9,390.7L496.4,391.5" stroke="#3aa6aa" stroke-width="3.6" fill="none"/>
<path d="M486.9,390.7L496.4,391.5" stroke="#78e4ea" stroke-width="2.7" fill="none"/>
<path d="M486.9,390.1L496.5,390.9" stroke="#c0fafa" stroke-width="0.6" fill="none" opacity="0.7"/>
<path d="M496.4,391.5L506.0,392.3" stroke="#8a0000" stroke-width="3.6" fill="none"/>
<path d="M496.4,391.5L506.0,392.3" stroke="#e80000" stroke-width="2.7" fill="none"/>
<path d="M496.5,390.9L506.0,391.7" stroke="#ff5050" stroke-width="0.6" fill="none" opacity="0.7"/>
<circle cx="506.0" cy="392.3" r="5.0" fill="url(#gO)"/>
<path d="M464.6,385.1L475.8,387.9" stroke="#8a0000" stroke-width="3.6" fill="none"/>
<path d="M464.6,385.1L475.8,387.9" stroke="#e80000" stroke-width="2.7" fill="none"/>
<path d="M464.7,384.5L475.9,387.3" stroke="#ff5050" stroke-width="0.6" fill="none" opacity="0.7"/>
<path d="M475.8,387.9L486.9,390.7" stroke="#3aa6aa" stroke-width="3.6" fill="none"/>
<path d="M475.8,387.9L486.9,390.7" stroke="#78e4ea" stroke-width="2.7" fill="none"/>
<path d="M475.9,387.3L487.0,390.1" stroke="#c0fafa" stroke-width="0.6" fill="none" opacity="0.7"/>
<path d="M445.5,382.0L455.1,383.6" stroke="#45457a" stroke-width="3.6" fill="none"/>
<path d="M445.5,382.0L455.1,383.6" stroke="#7676b2" stroke-width="2.7" fill="none"/>
<path d="M445.6,381.4L455.1,383.0" stroke="#a4a4d8" stroke-width="0.6" fill="none" opacity="0.7"/>
<path d="M455.1,383.6L464.6,385.1" stroke="#8a0000" stroke-width="3.6" fill="none"/>
<path d="M455.1,383.6L464.6,385.1" stroke="#e80000" stroke-width="2.7" fill="none"/>
<path d="M455.1,383.0L464.7,384.5" stroke="#ff5050" stroke-width="0.6" fill="none" opacity="0.7"/>
<circle cx="486.9" cy="390.7" r="4.8" fill="url(#gZn)"/>
<circle cx="464.6" cy="385.1" r="5.2" fill="url(#gO)"/>
<path d="M435.1,360.4L440.3,371.2" stroke="#8a0000" stroke-width="3.6" fill="none"/>
<path d="M435.1,360.4L440.3,371.2" stroke="#e80000" stroke-width="2.7" fill="none"/>
<path d="M435.6,360.2L440.8,371.0" stroke="#ff5050" stroke-width="0.6" fill="none" opacity="0.7"/>
<path d="M440.3,371.2L445.5,382.0" stroke="#45457a" stroke-width="3.6" fill="none"/>
<path d="M440.3,371.2L445.5,382.0" stroke="#7676b2" stroke-width="2.7" fill="none"/>
<path d="M440.8,371.0L446.0,381.8" stroke="#a4a4d8" stroke-width="0.6" fill="none" opacity="0.7"/>
<path d="M448.7,364.4L447.1,373.2" stroke="#8a0000" stroke-width="3.6" fill="none"/>
<path d="M448.7,364.4L447.1,373.2" stroke="#e80000" stroke-width="2.7" fill="none"/>
<path d="M448.1,364.3L446.5,373.1" stroke="#ff5050" stroke-width="0.6" fill="none" opacity="0.7"/>
<path d="M447.1,373.2L445.5,382.0" stroke="#45457a" stroke-width="3.6" fill="none"/>
<path d="M447.1,373.2L445.5,382.0" stroke="#7676b2" stroke-width="2.7" fill="none"/>
<path d="M446.5,373.1L444.9,381.9" stroke="#a4a4d8" stroke-width="0.6" fill="none" opacity="0.7"/>
<circle cx="445.5" cy="382.0" r="5.2" fill="url(#gFe)"/>
<circle cx="435.1" cy="360.4" r="5.2" fill="url(#gO)"/>
<circle cx="448.7" cy="364.4" r="5.2" fill="url(#gO)"/>
</g>
<rect x="417.0" y="323.7" width="102.8" height="102.1" fill="none" stroke="#222" stroke-width="1.3" />
<text x="517.5" y="340.3" font-size="20.5" fill="#ff0000" text-anchor="end">TS1'</text>
<clipPath id="cp6"><rect x="524.6" y="323.7" width="102.89999999999998" height="101.90000000000003"/></clipPath><g clip-path="url(#cp6)">
<path d="M636.0,388.1Q628.6,393.5 622.6,400.4M662.2,411.4Q646.7,412.5 631.1,411.5M662.2,411.4Q646.1,424.8 630.8,439.1M624.3,426.4Q627.1,433.0 630.8,439.1M530.9,372.3Q531.1,378.9 529.6,385.4M512.3,387.9Q520.9,386.2 529.6,385.4M527.9,370.3Q527.0,360.1 527.6,349.9M632.8,333.8Q627.7,336.8 622.8,340.3M634.5,382.4Q626.7,379.9 620.5,374.5M620.5,374.5Q624.3,364.1 632.0,356.1M545.3,345.7Q556.9,341.1 565.2,331.8M565.2,331.8Q565.3,331.9 565.4,332.0M549.3,357.8Q557.9,359.3 566.3,357.2M591.1,445.7Q587.4,437.8 583.4,430.0M583.4,430.0Q578.8,431.8 573.9,432.7M562.4,420.8Q567.3,427.6 573.9,432.7M546.3,417.1Q548.0,426.6 546.7,436.1M533.6,392.5Q536.3,393.2 539.0,393.8M529.6,385.4Q531.1,389.2 533.6,392.5M545.3,345.7Q544.9,345.4 544.5,345.2M566.6,323.6Q577.1,324.3 587.3,326.9M627.7,316.9Q618.0,321.1 610.9,328.8M611.2,332.8Q607.2,339.4 601.5,344.6M618.7,374.4Q619.0,374.7 619.4,374.9M605.1,356.6Q605.2,356.3 605.2,356.0M542.8,396.7Q553.0,394.9 563.0,397.7M588.1,413.0Q596.9,415.4 605.9,416.1M605.9,416.1Q608.8,421.1 609.9,426.8M607.1,432.9Q608.2,429.7 609.9,426.8M583.4,430.0Q584.5,428.7 585.2,427.1M586.1,408.9Q587.4,410.8 588.1,413.0M607.2,414.8Q606.6,415.5 605.9,416.1M565.4,332.0Q575.4,338.0 582.6,347.2M566.3,357.2Q569.8,358.3 573.3,359.2M605.1,356.6Q599.1,361.2 594.1,366.9M583.5,347.0Q588.2,357.3 594.1,366.9M610.6,391.1Q604.2,389.9 597.7,390.8M527.1,330.1Q520.6,333.1 514.7,337.2M528.3,348.3Q522.5,341.5 514.7,337.2" stroke="#ff4848" stroke-width="1.15" fill="none" opacity="0.6"/>
<path d="M622.6,400.4Q628.0,405.1 631.1,411.5M627.9,415.4Q625.0,420.5 624.3,426.4M622.6,400.4Q618.6,399.2 614.9,397.3M627.9,415.4Q617.6,413.8 607.2,414.8M614.9,397.3Q609.5,405.4 607.2,414.8M506.2,363.7Q517.7,358.0 527.6,349.9M672.0,354.9Q652.0,355.8 632.0,356.1M545.3,345.7Q547.4,351.7 549.3,357.8M620.5,374.5Q619.9,374.7 619.4,374.9M610.6,391.1Q614.5,382.7 619.4,374.9M562.4,420.8Q555.6,427.5 552.1,436.4M546.3,417.1Q553.2,414.8 560.3,413.4M560.3,413.4Q560.9,417.2 562.4,420.8M533.6,392.5Q529.5,401.7 521.8,408.2M541.5,414.9Q533.1,416.5 524.6,417.9M524.6,417.9Q523.5,412.9 521.8,408.2M508.5,399.8Q515.6,403.3 521.8,408.2M527.6,349.9Q528.0,349.1 528.3,348.3M544.5,345.2Q536.4,346.5 528.3,348.3M566.2,322.2Q555.4,317.9 544.3,314.1M601.0,317.9Q604.8,324.4 610.9,328.8M589.1,344.0Q595.4,343.0 601.5,344.6M628.0,352.2Q616.3,352.6 605.2,356.0M618.7,374.4Q613.5,364.3 605.1,356.6M552.7,374.7Q559.8,377.8 565.3,383.2M565.3,383.2Q565.0,390.6 563.0,397.7M546.3,417.1Q544.0,415.7 541.5,414.9M563.0,397.7Q565.0,400.6 565.8,404.0M586.1,408.9Q576.2,405.4 565.8,404.0M544.5,345.2Q540.4,338.6 538.0,331.1M542.6,315.7Q541.1,323.7 538.0,331.1M589.1,344.0Q586.2,345.3 583.5,347.0M582.6,347.2Q583.0,347.1 583.5,347.0M592.3,371.2Q593.1,369.0 594.1,366.9M597.7,390.8Q593.0,395.2 590.1,400.9M590.1,400.9Q581.6,389.3 570.6,380.0M588.6,375.3Q583.0,375.2 577.6,374.2M592.3,371.2Q590.0,372.8 588.6,375.3M586.1,408.9Q588.4,405.1 590.1,400.9M573.3,359.2Q577.0,366.3 577.6,374.2M527.1,330.1Q524.9,323.5 524.1,316.6" stroke="#ff4848" stroke-width="1.15" fill="none" opacity="0.85"/>
<path d="M631.1,411.5Q629.7,413.6 627.9,415.4M527.4,432.0Q525.0,426.6 523.5,420.8M523.5,420.8Q514.3,423.0 505.3,425.6M530.9,372.3Q529.5,371.2 527.9,370.3M527.9,370.3Q517.8,368.0 507.6,366.4M622.8,340.3Q625.8,346.1 628.0,352.2M632.0,356.1Q630.3,353.9 628.0,352.2M565.4,332.0Q567.5,344.5 566.3,357.2M614.9,397.3Q613.1,393.9 610.6,391.1M539.0,393.8Q541.1,395.0 542.8,396.7M542.8,396.7Q544.2,406.0 541.5,414.9M530.9,372.3Q538.9,369.2 546.9,366.5M546.9,366.5Q550.6,370.0 552.7,374.7M552.7,374.7Q544.0,382.9 539.0,393.8M523.5,420.8Q524.1,419.4 524.6,417.9M546.9,366.5Q548.2,362.1 549.3,357.8M566.2,322.2Q568.4,316.7 571.2,311.3M566.2,322.2Q566.3,322.9 566.6,323.6M587.3,326.9Q592.1,321.8 598.4,318.5M622.8,340.3Q617.7,335.6 611.2,332.8M611.2,332.8Q611.0,330.8 610.9,328.8M587.3,326.9Q589.4,335.3 589.1,344.0M601.5,344.6Q603.0,350.4 605.2,356.0M560.3,413.4Q562.7,408.6 565.8,404.0M585.2,427.1Q587.3,420.2 588.1,413.0M585.2,427.1Q596.7,428.1 607.1,432.9M624.3,426.4Q617.1,426.9 609.9,426.8M566.6,323.6Q566.7,327.8 565.2,331.8M582.6,347.2Q577.1,352.6 573.3,359.2M618.7,374.4Q605.7,371.4 592.3,371.2M597.7,390.8Q593.7,382.8 588.6,375.3M570.6,380.0Q574.7,377.9 577.6,374.2M565.3,383.2Q567.6,381.0 570.6,380.0M538.0,331.1Q532.6,330.6 527.1,330.1" stroke="#ff4848" stroke-width="1.15" fill="none" opacity="0.35"/>
<path d="M526.4,341.2Q528.5,346.7 528.5,352.5M612.2,379.5Q614.6,376.5 616.4,373.2M617.1,399.5Q617.6,398.3 618.2,397.2M589.6,385.7Q590.0,388.1 590.7,390.5M622.5,417.1Q621.1,407.9 617.1,399.5M618.3,354.4Q615.1,358.2 610.6,360.3M610.6,360.3Q613.2,366.9 616.4,373.2M588.9,384.9Q589.2,385.3 589.6,385.7M617.0,423.8Q616.0,427.8 615.2,431.8M595.8,396.8Q594.8,404.5 596.0,412.2M574.3,409.3Q571.6,408.0 568.6,407.6M523.8,422.2Q517.8,422.9 512.6,425.7M533.3,401.0Q542.4,413.4 554.5,422.9M554.9,423.2Q554.7,423.1 554.5,422.9M528.1,403.1Q524.8,412.4 523.8,422.2M524.1,422.6Q539.3,422.5 554.5,422.9M568.2,388.6Q559.4,387.4 550.7,385.6M543.6,391.8Q543.5,391.9 543.5,392.0M566.4,360.6Q572.7,354.3 577.7,346.8M550.7,385.6Q556.2,373.2 556.1,359.6M556.1,359.6Q555.7,359.3 555.4,358.9M598.6,334.0Q607.6,337.3 617.2,336.4M620.2,341.5Q618.2,339.3 617.2,336.4M595.5,345.6Q597.2,339.8 598.6,334.0M636.5,322.1Q631.2,323.9 625.6,324.6M520.4,398.5Q510.4,396.1 500.5,398.4M528.1,403.1Q524.2,400.9 520.4,398.5M548.9,329.1Q550.0,327.0 550.0,324.5M575.3,325.1Q569.7,321.3 564.4,317.1" stroke="#ffc658" stroke-width="1.15" fill="none" opacity="0.35"/>
<path d="M526.4,341.2Q522.3,338.9 519.0,335.5M528.5,352.5Q517.2,357.4 506.0,362.4M618.2,397.2Q615.9,388.1 612.2,379.5M618.2,397.2Q627.8,391.8 636.9,385.4M588.9,384.9Q597.9,372.5 600.5,357.4M600.5,357.4Q605.4,359.4 610.6,360.3M622.5,417.1Q619.5,420.3 617.0,423.8M617.0,423.8Q605.9,419.1 596.0,412.2M596.0,412.2Q588.4,415.3 582.6,421.2M581.8,382.1Q585.4,383.3 588.9,384.9M568.2,388.6Q569.5,398.1 568.6,407.6M618.3,354.4Q619.9,348.1 620.2,341.5M600.5,357.4Q599.5,356.3 598.6,355.1M598.6,355.1Q585.3,359.3 572.8,365.5M523.8,422.2Q523.9,422.4 524.1,422.6M524.1,422.6Q530.6,431.2 534.2,441.5M543.5,392.0Q552.8,401.0 562.8,409.3M562.8,409.3Q557.6,415.5 554.9,423.2M568.6,407.6Q565.7,408.5 562.8,409.3M582.6,421.2Q582.8,424.0 581.8,426.7M581.8,426.7Q569.2,428.4 557.2,432.6M581.8,426.7Q582.9,429.0 584.6,430.9M595.5,345.6Q586.5,344.9 577.7,346.8M572.8,365.5Q569.3,363.4 566.4,360.6M597.3,330.5Q606.6,324.4 612.7,315.2M625.6,324.6Q618.9,320.3 612.7,315.2M528.5,352.5Q531.0,356.2 534.8,358.6M526.4,341.2Q538.2,336.1 548.9,329.1M548.9,329.1Q552.9,336.4 554.7,344.5M529.4,318.2Q539.7,321.2 550.0,324.5M577.7,346.8Q576.6,341.3 573.5,336.7M554.7,344.5Q564.2,340.9 573.5,336.7M550.0,324.5Q553.5,321.8 555.4,317.9M597.3,330.5Q594.8,327.4 591.4,325.4" stroke="#ffc658" stroke-width="1.15" fill="none" opacity="0.85"/>
<path d="M639.3,376.5Q627.7,375.9 616.4,373.2M617.1,399.5Q606.7,395.9 595.8,396.8M589.6,385.7Q601.6,385.2 612.2,379.5M595.8,396.8Q593.8,393.2 590.7,390.5M622.5,417.1Q630.0,416.3 637.4,414.9M634.9,357.3Q626.8,354.8 618.3,354.4M574.3,409.3Q580.6,398.2 590.7,390.5M574.3,409.3Q578.8,415.0 582.6,421.2M581.8,382.1Q575.0,385.3 568.2,388.6M620.2,341.5Q628.1,343.7 636.3,342.8M581.8,382.1Q578.1,373.4 572.8,365.5M518.3,327.6Q523.6,322.6 529.4,318.2M533.3,401.0Q539.1,397.3 543.5,392.0M528.1,403.1Q530.8,402.3 533.3,401.0M550.7,385.6Q547.8,389.5 543.6,391.8M557.2,432.6Q555.4,428.1 554.9,423.2M598.6,355.1Q597.4,350.2 595.5,345.6M566.4,360.6Q561.2,359.8 556.1,359.6M534.8,358.6Q545.1,357.1 555.4,358.9M534.8,358.6Q533.6,365.7 529.5,371.7M529.5,371.7Q538.8,380.1 543.6,391.8M598.6,334.0Q598.1,332.2 597.3,330.5M617.2,336.4Q620.5,329.9 625.6,324.6M520.4,398.5Q518.0,387.3 516.8,375.9M529.5,371.7Q522.9,372.9 516.8,375.9M555.4,358.9Q554.3,351.8 554.7,344.5M593.3,296.5Q588.9,310.7 591.4,325.4M591.4,325.4Q583.4,324.4 575.3,325.1M573.5,336.7Q574.4,330.9 575.3,325.1" stroke="#ffc658" stroke-width="1.15" fill="none" opacity="0.6"/>
<path d="M541.5,399.5L539.9,408.2" stroke="#8a0000" stroke-width="3.6" fill="none"/>
<path d="M541.5,399.5L539.9,408.2" stroke="#e80000" stroke-width="2.7" fill="none"/>
<path d="M540.9,399.4L539.3,408.1" stroke="#ff5050" stroke-width="0.6" fill="none" opacity="0.7"/>
<path d="M539.9,408.2L538.3,417.0" stroke="#9a3aa0" stroke-width="3.6" fill="none"/>
<path d="M539.9,408.2L538.3,417.0" stroke="#e060e6" stroke-width="2.7" fill="none"/>
<path d="M539.3,408.1L537.7,416.9" stroke="#ffa0ff" stroke-width="0.6" fill="none" opacity="0.7"/>
<path d="M547.9,405.9L543.1,411.4" stroke="#8a0000" stroke-width="3.6" fill="none"/>
<path d="M547.9,405.9L543.1,411.4" stroke="#e80000" stroke-width="2.7" fill="none"/>
<path d="M547.5,405.5L542.7,411.1" stroke="#ff5050" stroke-width="0.6" fill="none" opacity="0.7"/>
<path d="M543.1,411.4L538.3,417.0" stroke="#9a3aa0" stroke-width="3.6" fill="none"/>
<path d="M543.1,411.4L538.3,417.0" stroke="#e060e6" stroke-width="2.7" fill="none"/>
<path d="M542.7,411.1L537.9,416.6" stroke="#ffa0ff" stroke-width="0.6" fill="none" opacity="0.7"/>
<circle cx="538.3" cy="417.0" r="4.6" fill="url(#gAl)"/>
<path d="M599.7,411.4L605.2,413.4" stroke="#8a0000" stroke-width="3.6" fill="none"/>
<path d="M599.7,411.4L605.2,413.4" stroke="#e80000" stroke-width="2.7" fill="none"/>
<path d="M599.9,410.9L605.4,412.9" stroke="#ff5050" stroke-width="0.6" fill="none" opacity="0.7"/>
<path d="M605.2,413.4L610.8,415.4" stroke="#9a3aa0" stroke-width="3.6" fill="none"/>
<path d="M605.2,413.4L610.8,415.4" stroke="#e060e6" stroke-width="2.7" fill="none"/>
<path d="M605.4,412.9L611.0,414.9" stroke="#ffa0ff" stroke-width="0.6" fill="none" opacity="0.7"/>
<path d="M607.7,393.1L609.2,404.2" stroke="#8a0000" stroke-width="3.6" fill="none"/>
<path d="M607.7,393.1L609.2,404.2" stroke="#e80000" stroke-width="2.7" fill="none"/>
<path d="M608.3,393.0L609.8,404.2" stroke="#ff5050" stroke-width="0.6" fill="none" opacity="0.7"/>
<path d="M609.2,404.2L610.8,415.4" stroke="#9a3aa0" stroke-width="3.6" fill="none"/>
<path d="M609.2,404.2L610.8,415.4" stroke="#e060e6" stroke-width="2.7" fill="none"/>
<path d="M609.8,404.2L611.4,415.3" stroke="#ffa0ff" stroke-width="0.6" fill="none" opacity="0.7"/>
<circle cx="610.8" cy="415.4" r="4.6" fill="url(#gAl)"/>
<path d="M551.1,382.8L546.3,391.1" stroke="#45457a" stroke-width="3.6" fill="none"/>
<path d="M551.1,382.8L546.3,391.1" stroke="#7676b2" stroke-width="2.7" fill="none"/>
<path d="M550.6,382.5L545.8,390.9" stroke="#a4a4d8" stroke-width="0.6" fill="none" opacity="0.7"/>
<path d="M546.3,391.1L541.5,399.5" stroke="#8a0000" stroke-width="3.6" fill="none"/>
<path d="M546.3,391.1L541.5,399.5" stroke="#e80000" stroke-width="2.7" fill="none"/>
<path d="M545.8,390.9L541.0,399.2" stroke="#ff5050" stroke-width="0.6" fill="none" opacity="0.7"/>
<path d="M551.1,382.8L549.5,394.4" stroke="#45457a" stroke-width="3.6" fill="none"/>
<path d="M551.1,382.8L549.5,394.4" stroke="#7676b2" stroke-width="2.7" fill="none"/>
<path d="M550.5,382.7L548.9,394.3" stroke="#a4a4d8" stroke-width="0.6" fill="none" opacity="0.7"/>
<path d="M549.5,394.4L547.9,405.9" stroke="#8a0000" stroke-width="3.6" fill="none"/>
<path d="M549.5,394.4L547.9,405.9" stroke="#e80000" stroke-width="2.7" fill="none"/>
<path d="M548.9,394.3L547.3,405.8" stroke="#ff5050" stroke-width="0.6" fill="none" opacity="0.7"/>
<circle cx="541.5" cy="399.5" r="5.0" fill="url(#gO)"/>
<circle cx="547.9" cy="405.9" r="4.6" fill="url(#gO)"/>
<path d="M589.3,389.9L594.5,400.6" stroke="#3aa6aa" stroke-width="3.6" fill="none"/>
<path d="M589.3,389.9L594.5,400.6" stroke="#78e4ea" stroke-width="2.7" fill="none"/>
<path d="M589.8,389.6L595.0,400.4" stroke="#c0fafa" stroke-width="0.6" fill="none" opacity="0.7"/>
<path d="M594.5,400.6L599.7,411.4" stroke="#8a0000" stroke-width="3.6" fill="none"/>
<path d="M594.5,400.6L599.7,411.4" stroke="#e80000" stroke-width="2.7" fill="none"/>
<path d="M595.0,400.4L600.2,411.1" stroke="#ff5050" stroke-width="0.6" fill="none" opacity="0.7"/>
<circle cx="599.7" cy="411.4" r="5.0" fill="url(#gO)"/>
<path d="M589.3,389.9L598.5,391.5" stroke="#3aa6aa" stroke-width="3.6" fill="none"/>
<path d="M589.3,389.9L598.5,391.5" stroke="#78e4ea" stroke-width="2.7" fill="none"/>
<path d="M589.4,389.3L598.6,390.9" stroke="#c0fafa" stroke-width="0.6" fill="none" opacity="0.7"/>
<path d="M598.5,391.5L607.7,393.1" stroke="#8a0000" stroke-width="3.6" fill="none"/>
<path d="M598.5,391.5L607.7,393.1" stroke="#e80000" stroke-width="2.7" fill="none"/>
<path d="M598.6,390.9L607.8,392.5" stroke="#ff5050" stroke-width="0.6" fill="none" opacity="0.7"/>
<circle cx="607.7" cy="393.1" r="4.6" fill="url(#gO)"/>
<path d="M571.0,381.2L580.1,385.5" stroke="#8a0000" stroke-width="3.6" fill="none"/>
<path d="M571.0,381.2L580.1,385.5" stroke="#e80000" stroke-width="2.7" fill="none"/>
<path d="M571.2,380.7L580.4,385.0" stroke="#ff5050" stroke-width="0.6" fill="none" opacity="0.7"/>
<path d="M580.1,385.5L589.3,389.9" stroke="#3aa6aa" stroke-width="3.6" fill="none"/>
<path d="M580.1,385.5L589.3,389.9" stroke="#78e4ea" stroke-width="2.7" fill="none"/>
<path d="M580.4,385.0L589.5,389.4" stroke="#c0fafa" stroke-width="0.6" fill="none" opacity="0.7"/>
<path d="M551.1,382.8L561.0,382.0" stroke="#45457a" stroke-width="3.6" fill="none"/>
<path d="M551.1,382.8L561.0,382.0" stroke="#7676b2" stroke-width="2.7" fill="none"/>
<path d="M551.1,382.2L561.0,381.4" stroke="#a4a4d8" stroke-width="0.6" fill="none" opacity="0.7"/>
<path d="M561.0,382.0L571.0,381.2" stroke="#8a0000" stroke-width="3.6" fill="none"/>
<path d="M561.0,382.0L571.0,381.2" stroke="#e80000" stroke-width="2.7" fill="none"/>
<path d="M561.0,381.4L571.0,380.6" stroke="#ff5050" stroke-width="0.6" fill="none" opacity="0.7"/>
<circle cx="589.3" cy="389.9" r="4.6" fill="url(#gZn)"/>
<circle cx="571.0" cy="381.2" r="5.0" fill="url(#gO)"/>
<path d="M532.0,370.8L538.8,368.0" stroke="#8a0000" stroke-width="3.6" fill="none"/>
<path d="M532.0,370.8L538.8,368.0" stroke="#e80000" stroke-width="2.7" fill="none"/>
<path d="M531.8,370.3L538.5,367.5" stroke="#ff5050" stroke-width="0.6" fill="none" opacity="0.7"/>
<path d="M538.8,368.0L545.5,365.2" stroke="#8a0000" stroke-width="3.6" fill="none"/>
<path d="M538.8,368.0L545.5,365.2" stroke="#e80000" stroke-width="2.7" fill="none"/>
<path d="M538.5,367.5L545.3,364.7" stroke="#ff5050" stroke-width="0.6" fill="none" opacity="0.7"/>
<path d="M532.0,370.8L541.5,376.8" stroke="#8a0000" stroke-width="3.6" fill="none"/>
<path d="M532.0,370.8L541.5,376.8" stroke="#e80000" stroke-width="2.7" fill="none"/>
<path d="M532.3,370.3L541.9,376.3" stroke="#ff5050" stroke-width="0.6" fill="none" opacity="0.7"/>
<path d="M541.5,376.8L551.1,382.8" stroke="#45457a" stroke-width="3.6" fill="none"/>
<path d="M541.5,376.8L551.1,382.8" stroke="#7676b2" stroke-width="2.7" fill="none"/>
<path d="M541.9,376.3L551.4,382.3" stroke="#a4a4d8" stroke-width="0.6" fill="none" opacity="0.7"/>
<path d="M545.5,365.2L548.3,374.0" stroke="#8a0000" stroke-width="3.6" fill="none"/>
<path d="M545.5,365.2L548.3,374.0" stroke="#e80000" stroke-width="2.7" fill="none"/>
<path d="M546.0,365.0L548.8,373.8" stroke="#ff5050" stroke-width="0.6" fill="none" opacity="0.7"/>
<path d="M548.3,374.0L551.1,382.8" stroke="#45457a" stroke-width="3.6" fill="none"/>
<path d="M548.3,374.0L551.1,382.8" stroke="#7676b2" stroke-width="2.7" fill="none"/>
<path d="M548.8,373.8L551.6,382.6" stroke="#a4a4d8" stroke-width="0.6" fill="none" opacity="0.7"/>
<circle cx="551.1" cy="382.8" r="5.0" fill="url(#gFe)"/>
<circle cx="532.0" cy="370.8" r="5.0" fill="url(#gO)"/>
<circle cx="545.5" cy="365.2" r="4.6" fill="url(#gO)"/>
</g>
<rect x="524.6" y="323.7" width="102.9" height="101.9" fill="none" stroke="#222" stroke-width="1.3" />
<text x="624" y="339.8" font-size="21" fill="#ff0000" text-anchor="end">IM2'</text>
<circle cx="648.5" cy="224.7" r="10.3" fill="url(#gFe)"/>
<circle cx="647.7" cy="223.5" r="2.9" fill="url(#gSpec)"/>
<text x="661.5" y="230.7" font-size="17.5">Fe</text>
<circle cx="648.5" cy="262.0" r="10.3" fill="url(#gZn)"/>
<circle cx="647.7" cy="260.8" r="2.9" fill="url(#gSpec)"/>
<text x="661.5" y="268.0" font-size="17.5">Zn</text>
<circle cx="648.5" cy="299.2" r="10.3" fill="url(#gAl)"/>
<circle cx="647.7" cy="298.0" r="2.9" fill="url(#gSpec)"/>
<text x="661.5" y="305.2" font-size="17.5">Al</text>
<circle cx="648.5" cy="338.9" r="10.3" fill="url(#gC)"/>
<circle cx="647.7" cy="337.7" r="2.9" fill="url(#gSpec)"/>
<text x="661.5" y="344.9" font-size="17.5">C</text>
<circle cx="648.5" cy="375.7" r="10.3" fill="url(#gH)"/>
<circle cx="647.7" cy="374.5" r="2.9" fill="url(#gSpec)"/>
<text x="661.5" y="381.7" font-size="17.5">H</text>
<circle cx="648.5" cy="412.0" r="10.3" fill="url(#gO)"/>
<circle cx="647.7" cy="410.8" r="2.9" fill="url(#gSpec)"/>
<text x="661.5" y="418.0" font-size="17.5">O</text>
<text x="5.5" y="14.1" font-size="16.2" fill="#000" text-anchor="start" >(a)</text>
<text x="400.1" y="226.3" font-size="16.2" fill="#000" text-anchor="start" >(f)</text>
<text x="5.5" y="447.4" font-size="16.2" fill="#000" text-anchor="start" >(g)</text>
</svg></body></html>
